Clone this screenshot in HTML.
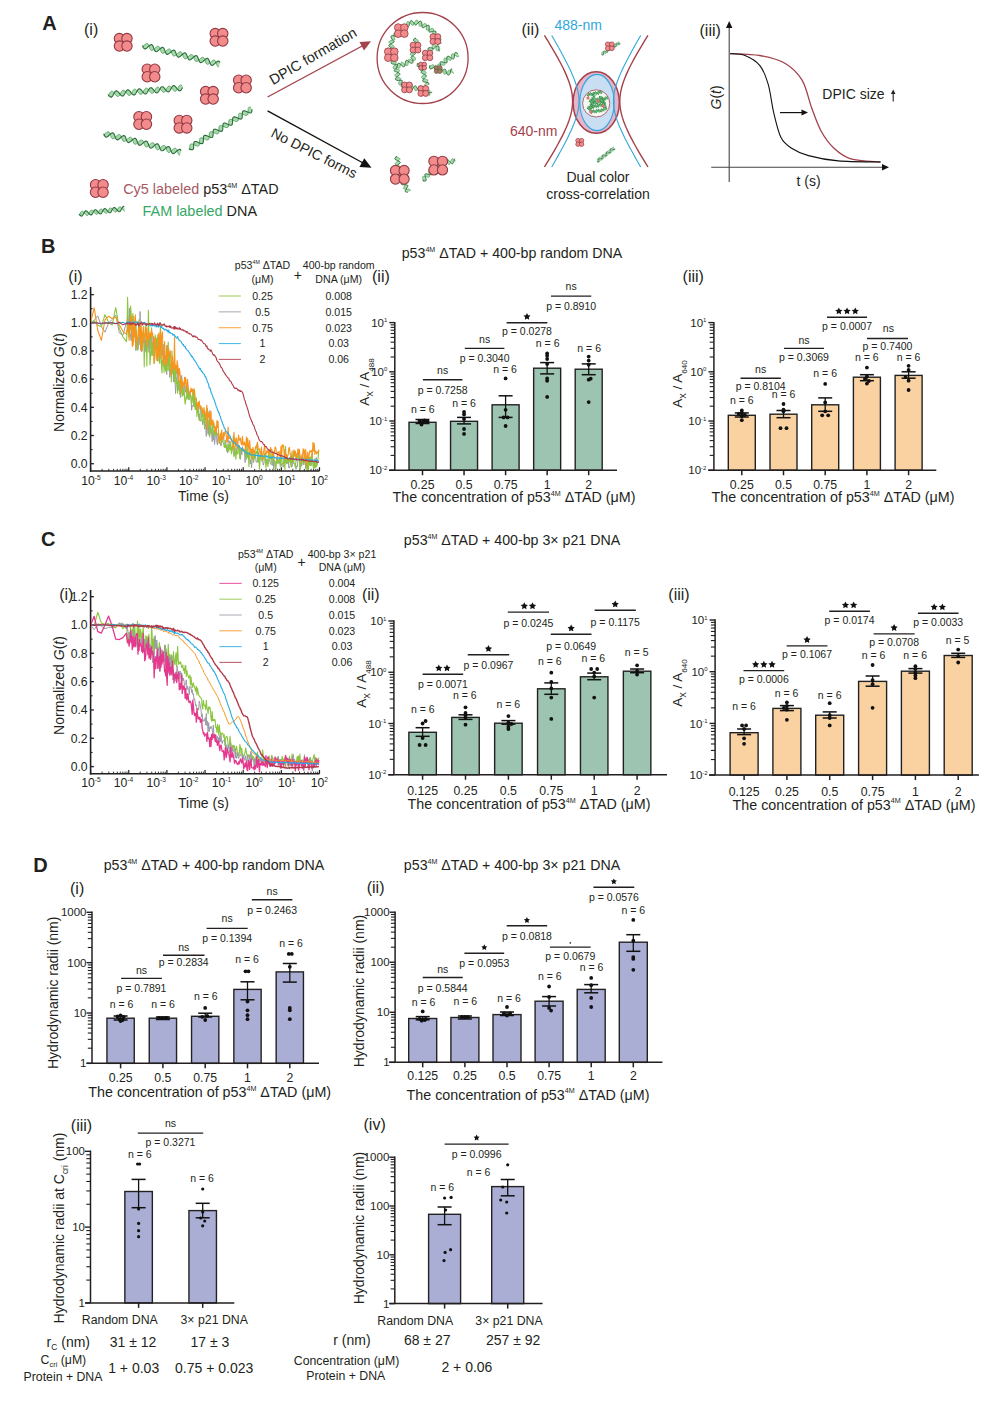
<!DOCTYPE html>
<html><head><meta charset="utf-8"><title>figure</title>
<style>
html,body{margin:0;padding:0;background:#fff;}
body{width:992px;height:1407px;overflow:hidden;}
svg{display:block;font-family:"Liberation Sans",sans-serif;}

</style></head><body>
<svg width="992" height="1407" viewBox="0 0 992 1407">
<defs>
<clipPath id="clipB1"><rect x="91" y="255" width="229" height="215"/></clipPath>
<clipPath id="clipC1"><rect x="91" y="560" width="229" height="213"/></clipPath>
</defs>
<rect width="992" height="1407" fill="#fff"/>
<g fill="#231f20">
<text x="42.3" y="30.2" font-size="20" font-weight="bold">A</text>
<text x="84" y="35" font-size="16">(i)</text>
<polygon points="142.6,45.4 143.02,46.62 143.48,47.69 144.01,48.47 144.63,48.88 145.35,48.89 146.17,48.51 147.06,47.82 147.99,46.96 148.93,46.06 149.84,45.29 150.69,44.77 151.45,44.61 152.11,44.86 152.68,45.5 153.16,46.46 153.6,47.64 154.01,48.87 154.45,50.02 154.95,50.93 155.53,51.51 156.21,51.68 156.99,51.45 157.85,50.88 158.77,50.07 159.71,49.17 160.64,48.32 161.52,47.69 162.32,47.37 163.02,47.45 163.63,47.93 164.14,48.78 164.59,49.88 165.01,51.11 165.44,52.32 165.91,53.34 166.45,54.06 167.09,54.4 167.83,54.34 168.66,53.89 169.56,53.17 170.5,52.29 171.43,51.4 172.34,50.66 173.17,50.2 173.92,50.11 174.56,50.43 175.11,51.14 175.58,52.15 176.01,53.35 176.43,54.58 176.87,55.7 177.38,56.55 177.98,57.06 178.68,57.16 179.47,56.86 180.35,56.24 181.28,55.4 182.22,54.5 183.14,53.68 184.01,53.09 184.79,52.85 185.47,53 186.06,53.55 186.56,54.45 187,55.59 187.42,56.82 187.85,58.01 188.33,58.99 188.89,59.64 189.55,59.91 190.3,59.77 191.15,59.27 192.06,58.51 193,57.61 193.94,56.74 194.83,56.04 195.65,55.65 196.37,55.63 197,56.02 197.53,56.79 197.99,57.84 198.42,59.06 198.84,60.28 199.29,61.36 199.82,62.16 200.43,62.6 201.15,62.62 201.96,62.26 202.85,61.59 203.78,60.73 204.72,59.83 205.64,59.04 206.49,58.51 207.26,58.33 207.92,58.56 208.49,59.18 208.98,60.13 209.41,61.3 209.83,62.54 210.27,63.69 210.76,64.62 211.34,65.21 212.01,65.4 212.79,65.2 213.64,64.64 214.56,63.84 215.5,62.94 216.44,62.09 217.32,61.44 218.12,61.1 218.83,61.16 219.44,61.62 219.95,62.45 218.83,67.04 218.14,66.91 217.55,66.38 217.04,65.5 216.6,64.37 216.18,63.13 215.75,61.94 215.27,60.95 214.72,60.28 214.07,59.99 213.31,60.11 212.47,60.59 211.57,61.34 210.63,62.24 209.69,63.11 208.79,63.82 207.97,64.24 207.24,64.27 206.61,63.9 206.07,63.15 205.61,62.11 205.18,60.9 204.76,59.67 204.31,58.58 203.79,57.76 203.18,57.31 202.47,57.26 201.66,57.61 200.78,58.26 199.85,59.12 198.9,60.02 197.99,60.81 197.13,61.36 196.36,61.56 195.69,61.36 195.11,60.76 194.62,59.82 194.19,58.66 193.77,57.42 193.33,56.26 192.84,55.32 192.27,54.7 191.6,54.49 190.83,54.68 189.98,55.22 189.06,56.01 188.12,56.91 187.19,57.77 186.3,58.43 185.5,58.78 184.78,58.75 184.17,58.3 183.65,57.49 183.19,56.41 182.77,55.19 182.35,53.97 181.88,52.92 181.35,52.16 180.72,51.78 179.99,51.81 179.17,52.22 178.28,52.92 177.34,53.79 176.4,54.69 175.49,55.45 174.65,55.94 173.9,56.07 173.24,55.79 172.68,55.12 172.21,54.14 171.77,52.95 171.36,51.71 170.91,50.58 170.41,49.69 169.82,49.15 169.14,49 168.35,49.26 167.48,49.86 166.56,50.68 165.62,51.58 164.69,52.41 163.82,53.03 163.03,53.32 162.33,53.21 161.73,52.69 161.23,51.83 160.78,50.71 160.36,49.47 159.93,48.28 159.46,47.27 158.91,46.58 158.26,46.27 157.52,46.37 156.68,46.83 155.78,47.58 154.84,48.47 153.9,49.35 153,50.07 152.17,50.5 151.44,50.56 150.8,50.21 150.26,49.48 149.79,48.44 149.36,47.24 148.95,46.01 148.49,44.91 147.98,44.07 147.37,43.6 146.67,43.53 145.87,43.86 144.99,44.5 144.06,45.35 143.11,46.25 142.19,47.06" fill="#a9d9aa" stroke="none"/>
<polyline points="142.19,47.06 143.11,46.25 144.06,45.35 144.99,44.5 145.87,43.86 146.67,43.53 147.37,43.6 147.98,44.07 148.49,44.91 148.95,46.01 149.36,47.24 149.79,48.44 150.26,49.48 150.8,50.21 151.44,50.56 152.17,50.5 153,50.07 153.9,49.35 154.84,48.47 155.78,47.58 156.68,46.83 157.52,46.37 158.26,46.27 158.91,46.58 159.46,47.27 159.93,48.28 160.36,49.47 160.78,50.71 161.23,51.83 161.73,52.69 162.33,53.21 163.03,53.32 163.82,53.03 164.69,52.41 165.62,51.58 166.56,50.68 167.48,49.86 168.35,49.26 169.14,49 169.82,49.15 170.41,49.69 170.91,50.58 171.36,51.71 171.77,52.95 172.21,54.14 172.68,55.12 173.24,55.79 173.9,56.07 174.65,55.94 175.49,55.45 176.4,54.69 177.34,53.79 178.28,52.92 179.17,52.22 179.99,51.81 180.72,51.78 181.35,52.16 181.88,52.92 182.35,53.97 182.77,55.19 183.19,56.41 183.65,57.49 184.17,58.3 184.78,58.75 185.5,58.78 186.3,58.43 187.19,57.77 188.12,56.91 189.06,56.01 189.98,55.22 190.83,54.68 191.6,54.49 192.27,54.7 192.84,55.32 193.33,56.26 193.77,57.42 194.19,58.66 194.62,59.82 195.11,60.76 195.69,61.36 196.36,61.56 197.13,61.36 197.99,60.81 198.9,60.02 199.85,59.12 200.78,58.26 201.66,57.61 202.47,57.26 203.18,57.31 203.79,57.76 204.31,58.58 204.76,59.67 205.18,60.9 205.61,62.11 206.07,63.15 206.61,63.9 207.24,64.27 207.97,64.24 208.79,63.82 209.69,63.11 210.63,62.24 211.57,61.34 212.47,60.59 213.31,60.11 214.07,59.99 214.72,60.28 215.27,60.95 215.75,61.94 216.18,63.13 216.6,64.37 217.04,65.5 217.55,66.38 218.14,66.91 218.83,67.04" fill="none" stroke="#5aa86c" stroke-width="0.99" stroke-linejoin="round"/>
<polyline points="142.6,45.4 143.02,46.62 143.48,47.69 144.01,48.47 144.63,48.88 145.35,48.89 146.17,48.51 147.06,47.82 147.99,46.96 148.93,46.06 149.84,45.29 150.69,44.77 151.45,44.61 152.11,44.86 152.68,45.5 153.16,46.46 153.6,47.64 154.01,48.87 154.45,50.02 154.95,50.93 155.53,51.51 156.21,51.68 156.99,51.45 157.85,50.88 158.77,50.07 159.71,49.17 160.64,48.32 161.52,47.69 162.32,47.37 163.02,47.45 163.63,47.93 164.14,48.78 164.59,49.88 165.01,51.11 165.44,52.32 165.91,53.34 166.45,54.06 167.09,54.4 167.83,54.34 168.66,53.89 169.56,53.17 170.5,52.29 171.43,51.4 172.34,50.66 173.17,50.2 173.92,50.11 174.56,50.43 175.11,51.14 175.58,52.15 176.01,53.35 176.43,54.58 176.87,55.7 177.38,56.55 177.98,57.06 178.68,57.16 179.47,56.86 180.35,56.24 181.28,55.4 182.22,54.5 183.14,53.68 184.01,53.09 184.79,52.85 185.47,53 186.06,53.55 186.56,54.45 187,55.59 187.42,56.82 187.85,58.01 188.33,58.99 188.89,59.64 189.55,59.91 190.3,59.77 191.15,59.27 192.06,58.51 193,57.61 193.94,56.74 194.83,56.04 195.65,55.65 196.37,55.63 197,56.02 197.53,56.79 197.99,57.84 198.42,59.06 198.84,60.28 199.29,61.36 199.82,62.16 200.43,62.6 201.15,62.62 201.96,62.26 202.85,61.59 203.78,60.73 204.72,59.83 205.64,59.04 206.49,58.51 207.26,58.33 207.92,58.56 208.49,59.18 208.98,60.13 209.41,61.3 209.83,62.54 210.27,63.69 210.76,64.62 211.34,65.21 212.01,65.4 212.79,65.2 213.64,64.64 214.56,63.84 215.5,62.94 216.44,62.09 217.32,61.44 218.12,61.1 218.83,61.16 219.44,61.62 219.95,62.45" fill="none" stroke="#2a6c3c" stroke-width="1.1" stroke-linejoin="round"/>
<polygon points="108,94.5 108.8,95.52 109.59,96.38 110.35,96.95 111.07,97.13 111.76,96.88 112.41,96.24 113.03,95.29 113.64,94.15 114.24,92.99 114.86,91.97 115.5,91.22 116.17,90.85 116.88,90.91 117.64,91.37 118.42,92.16 119.22,93.15 120.02,94.19 120.81,95.11 121.58,95.78 122.32,96.08 123.02,95.96 123.68,95.42 124.3,94.55 124.91,93.45 125.51,92.28 126.12,91.2 126.76,90.36 127.42,89.87 128.12,89.8 128.86,90.15 129.64,90.85 130.43,91.8 131.23,92.84 132.03,93.81 132.81,94.57 133.56,94.98 134.27,94.99 134.94,94.57 135.57,93.79 136.19,92.74 136.79,91.58 137.4,90.45 138.02,89.53 138.67,88.93 139.36,88.73 140.09,88.96 140.86,89.57 141.65,90.46 142.45,91.49 143.25,92.5 144.04,93.33 144.79,93.86 145.51,93.99 146.2,93.69 146.84,93.01 147.46,92.03 148.06,90.88 148.67,89.73 149.29,88.73 149.93,88.02 150.61,87.7 151.33,87.8 152.08,88.31 152.87,89.13 153.67,90.13 154.47,91.17 155.26,92.07 156.03,92.7 156.76,92.95 157.45,92.78 158.11,92.2 158.73,91.29 159.34,90.18 159.94,89.01 160.55,87.95 161.19,87.15 161.86,86.71 162.56,86.69 163.31,87.08 164.08,87.81 164.88,88.78 165.69,89.82 166.48,90.78 167.26,91.5 168,91.87 168.7,91.83 169.37,91.37 170,90.54 170.61,89.48 171.22,88.31 171.82,87.2 172.45,86.3 173.11,85.75 173.8,85.6 174.54,85.88 175.31,86.52 176.1,87.43 176.9,88.47 177.7,89.47 178.48,90.27 179.24,90.76 179.95,90.84 180.63,90.5 181.27,89.77 181.89,88.76 182.49,87.61 182.35,86.08 181.58,85.36 180.84,85 180.13,85.05 179.47,85.52 178.83,86.35 178.22,87.42 177.62,88.59 177.01,89.7 176.38,90.58 175.73,91.13 175.03,91.27 174.3,90.99 173.53,90.34 172.74,89.42 171.93,88.38 171.13,87.39 170.35,86.59 169.6,86.11 168.88,86.04 168.21,86.39 167.56,87.12 166.95,88.13 166.35,89.29 165.74,90.43 165.12,91.4 164.47,92.06 163.79,92.32 163.06,92.16 162.3,91.61 161.52,90.76 160.72,89.74 159.91,88.71 159.13,87.84 158.36,87.26 157.64,87.06 156.95,87.29 156.3,87.91 155.68,88.86 155.07,89.99 154.47,91.15 153.85,92.18 153.21,92.95 152.54,93.33 151.83,93.3 151.08,92.85 150.3,92.08 149.5,91.09 148.7,90.05 147.9,89.12 147.13,88.44 146.4,88.12 145.7,88.22 145.03,88.74 144.4,89.6 143.8,90.69 143.19,91.86 142.58,92.95 141.95,93.8 141.29,94.31 140.59,94.4 139.85,94.07 139.08,93.38 138.29,92.44 137.48,91.4 136.68,90.42 135.9,89.65 135.16,89.22 134.45,89.19 133.77,89.59 133.13,90.36 132.52,91.4 131.92,92.56 131.31,93.69 130.69,94.63 130.04,95.24 129.35,95.46 128.62,95.25 127.86,94.66 127.07,93.78 126.27,92.75 125.46,91.74 124.68,90.89 123.92,90.35 123.2,90.2 122.52,90.48 121.87,91.14 121.25,92.12 120.64,93.26 120.04,94.42 119.42,95.43 118.78,96.15 118.1,96.49 117.39,96.4 116.63,95.91 115.85,95.11 115.05,94.11 114.25,93.07 113.46,92.16 112.69,91.52 111.96,91.25 111.26,91.4 110.6,91.96 109.98,92.85 109.37,93.96 108.77,95.13 108.15,96.2" fill="#a9d9aa" stroke="none"/>
<polyline points="108.15,96.2 108.77,95.13 109.37,93.96 109.98,92.85 110.6,91.96 111.26,91.4 111.96,91.25 112.69,91.52 113.46,92.16 114.25,93.07 115.05,94.11 115.85,95.11 116.63,95.91 117.39,96.4 118.1,96.49 118.78,96.15 119.42,95.43 120.04,94.42 120.64,93.26 121.25,92.12 121.87,91.14 122.52,90.48 123.2,90.2 123.92,90.35 124.68,90.89 125.46,91.74 126.27,92.75 127.07,93.78 127.86,94.66 128.62,95.25 129.35,95.46 130.04,95.24 130.69,94.63 131.31,93.69 131.92,92.56 132.52,91.4 133.13,90.36 133.77,89.59 134.45,89.19 135.16,89.22 135.9,89.65 136.68,90.42 137.48,91.4 138.29,92.44 139.08,93.38 139.85,94.07 140.59,94.4 141.29,94.31 141.95,93.8 142.58,92.95 143.19,91.86 143.8,90.69 144.4,89.6 145.03,88.74 145.7,88.22 146.4,88.12 147.13,88.44 147.9,89.12 148.7,90.05 149.5,91.09 150.3,92.08 151.08,92.85 151.83,93.3 152.54,93.33 153.21,92.95 153.85,92.18 154.47,91.15 155.07,89.99 155.68,88.86 156.3,87.91 156.95,87.29 157.64,87.06 158.36,87.26 159.13,87.84 159.91,88.71 160.72,89.74 161.52,90.76 162.3,91.61 163.06,92.16 163.79,92.32 164.47,92.06 165.12,91.4 165.74,90.43 166.35,89.29 166.95,88.13 167.56,87.12 168.21,86.39 168.88,86.04 169.6,86.11 170.35,86.59 171.13,87.39 171.93,88.38 172.74,89.42 173.53,90.34 174.3,90.99 175.03,91.27 175.73,91.13 176.38,90.58 177.01,89.7 177.62,88.59 178.22,87.42 178.83,86.35 179.47,85.52 180.13,85.05 180.84,85 181.58,85.36 182.35,86.08" fill="none" stroke="#5aa86c" stroke-width="0.99" stroke-linejoin="round"/>
<polyline points="108,94.5 108.8,95.52 109.59,96.38 110.35,96.95 111.07,97.13 111.76,96.88 112.41,96.24 113.03,95.29 113.64,94.15 114.24,92.99 114.86,91.97 115.5,91.22 116.17,90.85 116.88,90.91 117.64,91.37 118.42,92.16 119.22,93.15 120.02,94.19 120.81,95.11 121.58,95.78 122.32,96.08 123.02,95.96 123.68,95.42 124.3,94.55 124.91,93.45 125.51,92.28 126.12,91.2 126.76,90.36 127.42,89.87 128.12,89.8 128.86,90.15 129.64,90.85 130.43,91.8 131.23,92.84 132.03,93.81 132.81,94.57 133.56,94.98 134.27,94.99 134.94,94.57 135.57,93.79 136.19,92.74 136.79,91.58 137.4,90.45 138.02,89.53 138.67,88.93 139.36,88.73 140.09,88.96 140.86,89.57 141.65,90.46 142.45,91.49 143.25,92.5 144.04,93.33 144.79,93.86 145.51,93.99 146.2,93.69 146.84,93.01 147.46,92.03 148.06,90.88 148.67,89.73 149.29,88.73 149.93,88.02 150.61,87.7 151.33,87.8 152.08,88.31 152.87,89.13 153.67,90.13 154.47,91.17 155.26,92.07 156.03,92.7 156.76,92.95 157.45,92.78 158.11,92.2 158.73,91.29 159.34,90.18 159.94,89.01 160.55,87.95 161.19,87.15 161.86,86.71 162.56,86.69 163.31,87.08 164.08,87.81 164.88,88.78 165.69,89.82 166.48,90.78 167.26,91.5 168,91.87 168.7,91.83 169.37,91.37 170,90.54 170.61,89.48 171.22,88.31 171.82,87.2 172.45,86.3 173.11,85.75 173.8,85.6 174.54,85.88 175.31,86.52 176.1,87.43 176.9,88.47 177.7,89.47 178.48,90.27 179.24,90.76 179.95,90.84 180.63,90.5 181.27,89.77 181.89,88.76 182.49,87.61" fill="none" stroke="#2a6c3c" stroke-width="1.1" stroke-linejoin="round"/>
<polygon points="103.8,133.6 104.22,134.82 104.68,135.89 105.21,136.67 105.83,137.08 106.55,137.09 107.37,136.71 108.26,136.02 109.19,135.16 110.13,134.26 111.04,133.49 111.89,132.97 112.65,132.81 113.31,133.06 113.88,133.7 114.36,134.66 114.8,135.84 115.21,137.07 115.65,138.22 116.15,139.13 116.73,139.71 117.41,139.88 118.19,139.65 119.05,139.08 119.97,138.27 120.91,137.37 121.84,136.52 122.72,135.89 123.52,135.57 124.22,135.65 124.83,136.13 125.34,136.98 125.79,138.08 126.21,139.31 126.64,140.52 127.11,141.54 127.65,142.26 128.29,142.6 129.03,142.54 129.86,142.09 130.76,141.37 131.7,140.49 132.63,139.6 133.54,138.86 134.37,138.4 135.12,138.31 135.76,138.63 136.31,139.34 136.78,140.35 137.21,141.55 137.63,142.78 138.07,143.9 138.58,144.75 139.18,145.26 139.88,145.36 140.67,145.06 141.55,144.44 142.48,143.6 143.42,142.7 144.34,141.88 145.21,141.29 145.99,141.05 146.67,141.2 147.26,141.75 147.76,142.65 148.2,143.79 148.62,145.02 149.05,146.21 149.53,147.19 150.09,147.84 150.75,148.11 151.5,147.97 152.35,147.47 153.26,146.71 154.2,145.81 155.14,144.94 156.03,144.24 156.85,143.85 157.57,143.83 158.2,144.22 158.73,144.99 159.19,146.04 159.62,147.26 160.04,148.48 160.49,149.56 161.02,150.36 161.63,150.8 162.35,150.82 163.16,150.46 164.05,149.79 164.98,148.93 165.92,148.03 166.84,147.24 167.69,146.71 168.46,146.53 169.12,146.76 169.69,147.38 170.18,148.33 170.61,149.5 171.03,150.74 171.47,151.89 171.96,152.82 172.54,153.41 173.21,153.6 173.99,153.4 174.84,152.84 175.76,152.04 176.7,151.14 177.64,150.29 178.52,149.64 179.32,149.3 180.03,149.36 180.64,149.82 181.15,150.65 180.03,155.24 179.34,155.11 178.75,154.58 178.24,153.7 177.8,152.57 177.38,151.33 176.95,150.14 176.47,149.15 175.92,148.48 175.27,148.19 174.51,148.31 173.67,148.79 172.77,149.54 171.83,150.44 170.89,151.31 169.99,152.02 169.17,152.44 168.44,152.47 167.81,152.1 167.27,151.35 166.81,150.31 166.38,149.1 165.96,147.87 165.51,146.78 164.99,145.96 164.38,145.51 163.67,145.46 162.86,145.81 161.98,146.46 161.05,147.32 160.1,148.22 159.19,149.01 158.33,149.56 157.56,149.76 156.89,149.56 156.31,148.96 155.82,148.02 155.39,146.86 154.97,145.62 154.53,144.46 154.04,143.52 153.47,142.9 152.8,142.69 152.03,142.88 151.18,143.42 150.26,144.21 149.32,145.11 148.39,145.97 147.5,146.63 146.7,146.98 145.98,146.95 145.37,146.5 144.85,145.69 144.39,144.61 143.97,143.39 143.55,142.17 143.08,141.12 142.55,140.36 141.92,139.98 141.19,140.01 140.37,140.42 139.48,141.12 138.54,141.99 137.6,142.89 136.69,143.65 135.85,144.14 135.1,144.27 134.44,143.99 133.88,143.32 133.41,142.34 132.97,141.15 132.56,139.91 132.11,138.78 131.61,137.89 131.02,137.35 130.34,137.2 129.55,137.46 128.68,138.06 127.76,138.88 126.82,139.78 125.89,140.61 125.02,141.23 124.23,141.52 123.53,141.41 122.93,140.89 122.43,140.03 121.98,138.91 121.56,137.67 121.13,136.48 120.66,135.47 120.11,134.78 119.46,134.47 118.72,134.57 117.88,135.03 116.98,135.78 116.04,136.67 115.1,137.55 114.2,138.27 113.37,138.7 112.64,138.76 112,138.41 111.46,137.68 110.99,136.64 110.56,135.44 110.15,134.21 109.69,133.11 109.18,132.27 108.57,131.8 107.87,131.73 107.07,132.06 106.19,132.7 105.26,133.55 104.31,134.45 103.39,135.26" fill="#a9d9aa" stroke="none"/>
<polyline points="103.39,135.26 104.31,134.45 105.26,133.55 106.19,132.7 107.07,132.06 107.87,131.73 108.57,131.8 109.18,132.27 109.69,133.11 110.15,134.21 110.56,135.44 110.99,136.64 111.46,137.68 112,138.41 112.64,138.76 113.37,138.7 114.2,138.27 115.1,137.55 116.04,136.67 116.98,135.78 117.88,135.03 118.72,134.57 119.46,134.47 120.11,134.78 120.66,135.47 121.13,136.48 121.56,137.67 121.98,138.91 122.43,140.03 122.93,140.89 123.53,141.41 124.23,141.52 125.02,141.23 125.89,140.61 126.82,139.78 127.76,138.88 128.68,138.06 129.55,137.46 130.34,137.2 131.02,137.35 131.61,137.89 132.11,138.78 132.56,139.91 132.97,141.15 133.41,142.34 133.88,143.32 134.44,143.99 135.1,144.27 135.85,144.14 136.69,143.65 137.6,142.89 138.54,141.99 139.48,141.12 140.37,140.42 141.19,140.01 141.92,139.98 142.55,140.36 143.08,141.12 143.55,142.17 143.97,143.39 144.39,144.61 144.85,145.69 145.37,146.5 145.98,146.95 146.7,146.98 147.5,146.63 148.39,145.97 149.32,145.11 150.26,144.21 151.18,143.42 152.03,142.88 152.8,142.69 153.47,142.9 154.04,143.52 154.53,144.46 154.97,145.62 155.39,146.86 155.82,148.02 156.31,148.96 156.89,149.56 157.56,149.76 158.33,149.56 159.19,149.01 160.1,148.22 161.05,147.32 161.98,146.46 162.86,145.81 163.67,145.46 164.38,145.51 164.99,145.96 165.51,146.78 165.96,147.87 166.38,149.1 166.81,150.31 167.27,151.35 167.81,152.1 168.44,152.47 169.17,152.44 169.99,152.02 170.89,151.31 171.83,150.44 172.77,149.54 173.67,148.79 174.51,148.31 175.27,148.19 175.92,148.48 176.47,149.15 176.95,150.14 177.38,151.33 177.8,152.57 178.24,153.7 178.75,154.58 179.34,155.11 180.03,155.24" fill="none" stroke="#5aa86c" stroke-width="0.99" stroke-linejoin="round"/>
<polyline points="103.8,133.6 104.22,134.82 104.68,135.89 105.21,136.67 105.83,137.08 106.55,137.09 107.37,136.71 108.26,136.02 109.19,135.16 110.13,134.26 111.04,133.49 111.89,132.97 112.65,132.81 113.31,133.06 113.88,133.7 114.36,134.66 114.8,135.84 115.21,137.07 115.65,138.22 116.15,139.13 116.73,139.71 117.41,139.88 118.19,139.65 119.05,139.08 119.97,138.27 120.91,137.37 121.84,136.52 122.72,135.89 123.52,135.57 124.22,135.65 124.83,136.13 125.34,136.98 125.79,138.08 126.21,139.31 126.64,140.52 127.11,141.54 127.65,142.26 128.29,142.6 129.03,142.54 129.86,142.09 130.76,141.37 131.7,140.49 132.63,139.6 133.54,138.86 134.37,138.4 135.12,138.31 135.76,138.63 136.31,139.34 136.78,140.35 137.21,141.55 137.63,142.78 138.07,143.9 138.58,144.75 139.18,145.26 139.88,145.36 140.67,145.06 141.55,144.44 142.48,143.6 143.42,142.7 144.34,141.88 145.21,141.29 145.99,141.05 146.67,141.2 147.26,141.75 147.76,142.65 148.2,143.79 148.62,145.02 149.05,146.21 149.53,147.19 150.09,147.84 150.75,148.11 151.5,147.97 152.35,147.47 153.26,146.71 154.2,145.81 155.14,144.94 156.03,144.24 156.85,143.85 157.57,143.83 158.2,144.22 158.73,144.99 159.19,146.04 159.62,147.26 160.04,148.48 160.49,149.56 161.02,150.36 161.63,150.8 162.35,150.82 163.16,150.46 164.05,149.79 164.98,148.93 165.92,148.03 166.84,147.24 167.69,146.71 168.46,146.53 169.12,146.76 169.69,147.38 170.18,148.33 170.61,149.5 171.03,150.74 171.47,151.89 171.96,152.82 172.54,153.41 173.21,153.6 173.99,153.4 174.84,152.84 175.76,152.04 176.7,151.14 177.64,150.29 178.52,149.64 179.32,149.3 180.03,149.36 180.64,149.82 181.15,150.65" fill="none" stroke="#2a6c3c" stroke-width="1.1" stroke-linejoin="round"/>
<polygon points="188.8,148.7 189.97,149.24 191.06,149.65 192,149.81 192.73,149.65 193.23,149.13 193.52,148.27 193.64,147.14 193.66,145.86 193.67,144.56 193.75,143.37 193.97,142.4 194.39,141.76 195.04,141.46 195.9,141.51 196.94,141.85 198.1,142.36 199.28,142.92 200.41,143.39 201.41,143.65 202.21,143.61 202.8,143.21 203.16,142.47 203.33,141.43 203.38,140.19 203.38,138.88 203.43,137.63 203.59,136.57 203.94,135.81 204.5,135.38 205.29,135.32 206.28,135.56 207.4,136.02 208.58,136.58 209.74,137.09 210.79,137.44 211.67,137.52 212.34,137.25 212.77,136.63 213.01,135.69 213.1,134.51 213.11,133.21 213.12,131.92 213.24,130.78 213.51,129.9 214,129.35 214.71,129.16 215.63,129.3 216.71,129.69 217.88,130.23 219.06,130.78 220.16,131.2 221.1,131.39 221.85,131.25 222.36,130.75 222.67,129.92 222.8,128.81 222.83,127.54 222.83,126.23 222.9,125.02 223.11,124.04 223.52,123.37 224.15,123.05 225,123.07 226.03,123.39 227.18,123.89 228.36,124.45 229.5,124.93 230.51,125.21 231.33,125.19 231.93,124.83 232.3,124.11 232.49,123.09 232.55,121.86 232.55,120.55 232.59,119.29 232.74,118.22 233.07,117.43 233.62,116.98 234.39,116.88 235.36,117.11 236.48,117.55 237.66,118.11 238.82,118.63 239.89,119 240.78,119.1 241.46,118.86 241.92,118.26 242.17,117.34 242.26,116.18 242.27,114.88 242.29,113.59 242.39,112.43 242.65,111.53 243.12,110.95 243.81,110.74 244.72,110.85 245.79,111.23 246.96,111.76 248.14,112.31 249.24,112.75 250.2,112.96 250.96,112.84 251.5,112.37 251.82,111.56 251.96,110.47 252,109.21 250.74,107.22 249.8,107.05 249.06,107.2 248.55,107.71 248.26,108.56 248.13,109.67 248.11,110.95 248.1,112.26 248.03,113.46 247.81,114.43 247.39,115.09 246.76,115.39 245.9,115.36 244.86,115.03 243.71,114.53 242.53,113.97 241.39,113.49 240.39,113.22 239.58,113.25 238.99,113.63 238.62,114.36 238.44,115.39 238.39,116.63 238.38,117.94 238.34,119.19 238.19,120.26 237.85,121.04 237.29,121.47 236.51,121.55 235.53,121.32 234.41,120.86 233.23,120.31 232.07,119.78 231.01,119.43 230.12,119.34 229.45,119.59 229.01,120.2 228.76,121.14 228.67,122.31 228.66,123.61 228.64,124.9 228.54,126.04 228.27,126.94 227.79,127.5 227.09,127.7 226.18,127.57 225.1,127.19 223.93,126.65 222.75,126.1 221.65,125.67 220.7,125.48 219.94,125.6 219.42,126.09 219.11,126.91 218.97,128.01 218.94,129.28 218.93,130.59 218.87,131.8 218.66,132.79 218.27,133.48 217.64,133.81 216.8,133.8 215.78,133.49 214.63,132.99 213.45,132.43 212.31,131.95 211.29,131.66 210.47,131.66 209.86,132.02 209.47,132.72 209.28,133.73 209.22,134.95 209.22,136.26 209.18,137.53 209.04,138.61 208.71,139.41 208.17,139.88 207.41,139.98 206.44,139.77 205.33,139.33 204.15,138.77 202.98,138.25 201.92,137.87 201.02,137.76 200.33,137.99 199.86,138.57 199.61,139.48 199.51,140.64 199.49,141.94 199.48,143.23 199.38,144.39 199.13,145.31 198.67,145.89 197.98,146.12 197.08,146.02 196.02,145.65 194.85,145.12 193.67,144.57 192.56,144.12 191.59,143.91 190.83,144.01 190.28,144.47 189.96,145.27 189.81,146.35 189.77,147.61 189.77,148.92 189.71,150.14" fill="#a9d9aa" stroke="none"/>
<polyline points="189.71,150.14 189.77,148.92 189.77,147.61 189.81,146.35 189.96,145.27 190.28,144.47 190.83,144.01 191.59,143.91 192.56,144.12 193.67,144.57 194.85,145.12 196.02,145.65 197.08,146.02 197.98,146.12 198.67,145.89 199.13,145.31 199.38,144.39 199.48,143.23 199.49,141.94 199.51,140.64 199.61,139.48 199.86,138.57 200.33,137.99 201.02,137.76 201.92,137.87 202.98,138.25 204.15,138.77 205.33,139.33 206.44,139.77 207.41,139.98 208.17,139.88 208.71,139.41 209.04,138.61 209.18,137.53 209.22,136.26 209.22,134.95 209.28,133.73 209.47,132.72 209.86,132.02 210.47,131.66 211.29,131.66 212.31,131.95 213.45,132.43 214.63,132.99 215.78,133.49 216.8,133.8 217.64,133.81 218.27,133.48 218.66,132.79 218.87,131.8 218.93,130.59 218.94,129.28 218.97,128.01 219.11,126.91 219.42,126.09 219.94,125.6 220.7,125.48 221.65,125.67 222.75,126.1 223.93,126.65 225.1,127.19 226.18,127.57 227.09,127.7 227.79,127.5 228.27,126.94 228.54,126.04 228.64,124.9 228.66,123.61 228.67,122.31 228.76,121.14 229.01,120.2 229.45,119.59 230.12,119.34 231.01,119.43 232.07,119.78 233.23,120.31 234.41,120.86 235.53,121.32 236.51,121.55 237.29,121.47 237.85,121.04 238.19,120.26 238.34,119.19 238.38,117.94 238.39,116.63 238.44,115.39 238.62,114.36 238.99,113.63 239.58,113.25 240.39,113.22 241.39,113.49 242.53,113.97 243.71,114.53 244.86,115.03 245.9,115.36 246.76,115.39 247.39,115.09 247.81,114.43 248.03,113.46 248.1,112.26 248.11,110.95 248.13,109.67 248.26,108.56 248.55,107.71 249.06,107.2 249.8,107.05 250.74,107.22" fill="none" stroke="#5aa86c" stroke-width="0.99" stroke-linejoin="round"/>
<polyline points="188.8,148.7 189.97,149.24 191.06,149.65 192,149.81 192.73,149.65 193.23,149.13 193.52,148.27 193.64,147.14 193.66,145.86 193.67,144.56 193.75,143.37 193.97,142.4 194.39,141.76 195.04,141.46 195.9,141.51 196.94,141.85 198.1,142.36 199.28,142.92 200.41,143.39 201.41,143.65 202.21,143.61 202.8,143.21 203.16,142.47 203.33,141.43 203.38,140.19 203.38,138.88 203.43,137.63 203.59,136.57 203.94,135.81 204.5,135.38 205.29,135.32 206.28,135.56 207.4,136.02 208.58,136.58 209.74,137.09 210.79,137.44 211.67,137.52 212.34,137.25 212.77,136.63 213.01,135.69 213.1,134.51 213.11,133.21 213.12,131.92 213.24,130.78 213.51,129.9 214,129.35 214.71,129.16 215.63,129.3 216.71,129.69 217.88,130.23 219.06,130.78 220.16,131.2 221.1,131.39 221.85,131.25 222.36,130.75 222.67,129.92 222.8,128.81 222.83,127.54 222.83,126.23 222.9,125.02 223.11,124.04 223.52,123.37 224.15,123.05 225,123.07 226.03,123.39 227.18,123.89 228.36,124.45 229.5,124.93 230.51,125.21 231.33,125.19 231.93,124.83 232.3,124.11 232.49,123.09 232.55,121.86 232.55,120.55 232.59,119.29 232.74,118.22 233.07,117.43 233.62,116.98 234.39,116.88 235.36,117.11 236.48,117.55 237.66,118.11 238.82,118.63 239.89,119 240.78,119.1 241.46,118.86 241.92,118.26 242.17,117.34 242.26,116.18 242.27,114.88 242.29,113.59 242.39,112.43 242.65,111.53 243.12,110.95 243.81,110.74 244.72,110.85 245.79,111.23 246.96,111.76 248.14,112.31 249.24,112.75 250.2,112.96 250.96,112.84 251.5,112.37 251.82,111.56 251.96,110.47 252,109.21" fill="none" stroke="#2a6c3c" stroke-width="1.1" stroke-linejoin="round"/>
<polygon points="79,214 79.82,214.99 80.62,215.75 81.37,216.1 82.07,215.96 82.7,215.32 83.29,214.32 83.87,213.14 84.45,212.03 85.06,211.19 85.72,210.8 86.45,210.92 87.22,211.5 88.04,212.41 88.87,213.43 89.68,214.33 90.46,214.89 91.18,214.99 91.84,214.58 92.45,213.73 93.03,212.61 93.6,211.44 94.2,210.45 94.83,209.83 95.53,209.7 96.28,210.07 97.08,210.85 97.91,211.84 98.73,212.83 99.53,213.58 100.27,213.91 100.96,213.74 101.6,213.09 102.19,212.07 102.76,210.9 103.34,209.79 103.96,208.97 104.62,208.6 105.35,208.74 106.13,209.34 106.94,210.25 107.77,211.27 108.58,212.16 109.36,212.71 110.08,212.79 110.74,212.36 111.35,211.5 111.92,210.37 112.5,209.2 113.09,208.22 113.73,207.62 114.43,207.51 115.18,207.9 115.98,208.69 116.81,209.68 117.63,210.66 118.43,211.4 119.18,211.71 119.86,211.53 120.49,210.86 121.08,209.83 121.66,208.65 122.24,207.55 122.85,206.75 123.52,206.4 124.25,206.55 124.77,211.05 124.02,210.69 123.22,209.93 122.4,208.93 121.57,207.95 120.78,207.19 120.03,206.84 119.33,206.99 118.7,207.63 118.11,208.64 117.53,209.81 116.95,210.93 116.34,211.76 115.68,212.14 114.95,212.02 114.18,211.43 113.36,210.52 112.53,209.5 111.72,208.61 110.94,208.05 110.22,207.95 109.56,208.37 108.95,209.22 108.37,210.34 107.8,211.51 107.21,212.5 106.57,213.12 105.87,213.24 105.12,212.86 104.32,212.09 103.49,211.09 102.67,210.11 101.87,209.36 101.13,209.03 100.44,209.21 99.8,209.86 99.21,210.88 98.64,212.06 98.06,213.16 97.44,213.98 96.78,214.34 96.05,214.2 95.27,213.6 94.46,212.68 93.63,211.66 92.81,210.78 92.04,210.23 91.32,210.16 90.66,210.59 90.06,211.46 89.48,212.59 88.9,213.76 88.31,214.73 87.67,215.33 86.97,215.43 86.22,215.04 85.41,214.25 84.59,213.25 83.77,212.27 82.97,211.54 82.22,211.23 81.54,211.42 80.91,212.1 80.32,213.12 79.74,214.3 79.16,215.4" fill="#a9d9aa" stroke="none"/>
<polyline points="79.16,215.4 79.74,214.3 80.32,213.12 80.91,212.1 81.54,211.42 82.22,211.23 82.97,211.54 83.77,212.27 84.59,213.25 85.41,214.25 86.22,215.04 86.97,215.43 87.67,215.33 88.31,214.73 88.9,213.76 89.48,212.59 90.06,211.46 90.66,210.59 91.32,210.16 92.04,210.23 92.81,210.78 93.63,211.66 94.46,212.68 95.27,213.6 96.05,214.2 96.78,214.34 97.44,213.98 98.06,213.16 98.64,212.06 99.21,210.88 99.8,209.86 100.44,209.21 101.13,209.03 101.87,209.36 102.67,210.11 103.49,211.09 104.32,212.09 105.12,212.86 105.87,213.24 106.57,213.12 107.21,212.5 107.8,211.51 108.37,210.34 108.95,209.22 109.56,208.37 110.22,207.95 110.94,208.05 111.72,208.61 112.53,209.5 113.36,210.52 114.18,211.43 114.95,212.02 115.68,212.14 116.34,211.76 116.95,210.93 117.53,209.81 118.11,208.64 118.7,207.63 119.33,206.99 120.03,206.84 120.78,207.19 121.57,207.95 122.4,208.93 123.22,209.93 124.02,210.69 124.77,211.05" fill="none" stroke="#5aa86c" stroke-width="0.99" stroke-linejoin="round"/>
<polyline points="79,214 79.82,214.99 80.62,215.75 81.37,216.1 82.07,215.96 82.7,215.32 83.29,214.32 83.87,213.14 84.45,212.03 85.06,211.19 85.72,210.8 86.45,210.92 87.22,211.5 88.04,212.41 88.87,213.43 89.68,214.33 90.46,214.89 91.18,214.99 91.84,214.58 92.45,213.73 93.03,212.61 93.6,211.44 94.2,210.45 94.83,209.83 95.53,209.7 96.28,210.07 97.08,210.85 97.91,211.84 98.73,212.83 99.53,213.58 100.27,213.91 100.96,213.74 101.6,213.09 102.19,212.07 102.76,210.9 103.34,209.79 103.96,208.97 104.62,208.6 105.35,208.74 106.13,209.34 106.94,210.25 107.77,211.27 108.58,212.16 109.36,212.71 110.08,212.79 110.74,212.36 111.35,211.5 111.92,210.37 112.5,209.2 113.09,208.22 113.73,207.62 114.43,207.51 115.18,207.9 115.98,208.69 116.81,209.68 117.63,210.66 118.43,211.4 119.18,211.71 119.86,211.53 120.49,210.86 121.08,209.83 121.66,208.65 122.24,207.55 122.85,206.75 123.52,206.4 124.25,206.55" fill="none" stroke="#2a6c3c" stroke-width="1.1" stroke-linejoin="round"/>
<circle cx="119.45" cy="38.55" r="5.2" fill="#f28b8b" stroke="#913a44" stroke-width="1.1"/>
<circle cx="126.95" cy="38.55" r="5.2" fill="#f28b8b" stroke="#913a44" stroke-width="1.1"/>
<circle cx="119.45" cy="46.05" r="5.2" fill="#f28b8b" stroke="#913a44" stroke-width="1.1"/>
<circle cx="126.95" cy="46.05" r="5.2" fill="#f28b8b" stroke="#913a44" stroke-width="1.1"/>
<circle cx="215.25" cy="33.55" r="5.2" fill="#f28b8b" stroke="#913a44" stroke-width="1.1"/>
<circle cx="222.75" cy="33.55" r="5.2" fill="#f28b8b" stroke="#913a44" stroke-width="1.1"/>
<circle cx="215.25" cy="41.05" r="5.2" fill="#f28b8b" stroke="#913a44" stroke-width="1.1"/>
<circle cx="222.75" cy="41.05" r="5.2" fill="#f28b8b" stroke="#913a44" stroke-width="1.1"/>
<circle cx="147.25" cy="69.25" r="5.2" fill="#f28b8b" stroke="#913a44" stroke-width="1.1"/>
<circle cx="154.75" cy="69.25" r="5.2" fill="#f28b8b" stroke="#913a44" stroke-width="1.1"/>
<circle cx="147.25" cy="76.75" r="5.2" fill="#f28b8b" stroke="#913a44" stroke-width="1.1"/>
<circle cx="154.75" cy="76.75" r="5.2" fill="#f28b8b" stroke="#913a44" stroke-width="1.1"/>
<circle cx="238.65" cy="80.25" r="5.2" fill="#f28b8b" stroke="#913a44" stroke-width="1.1"/>
<circle cx="246.15" cy="80.25" r="5.2" fill="#f28b8b" stroke="#913a44" stroke-width="1.1"/>
<circle cx="238.65" cy="87.75" r="5.2" fill="#f28b8b" stroke="#913a44" stroke-width="1.1"/>
<circle cx="246.15" cy="87.75" r="5.2" fill="#f28b8b" stroke="#913a44" stroke-width="1.1"/>
<circle cx="205.65" cy="91.55" r="5.2" fill="#f28b8b" stroke="#913a44" stroke-width="1.1"/>
<circle cx="213.15" cy="91.55" r="5.2" fill="#f28b8b" stroke="#913a44" stroke-width="1.1"/>
<circle cx="205.65" cy="99.05" r="5.2" fill="#f28b8b" stroke="#913a44" stroke-width="1.1"/>
<circle cx="213.15" cy="99.05" r="5.2" fill="#f28b8b" stroke="#913a44" stroke-width="1.1"/>
<circle cx="138.95" cy="116.75" r="5.2" fill="#f28b8b" stroke="#913a44" stroke-width="1.1"/>
<circle cx="146.45" cy="116.75" r="5.2" fill="#f28b8b" stroke="#913a44" stroke-width="1.1"/>
<circle cx="138.95" cy="124.25" r="5.2" fill="#f28b8b" stroke="#913a44" stroke-width="1.1"/>
<circle cx="146.45" cy="124.25" r="5.2" fill="#f28b8b" stroke="#913a44" stroke-width="1.1"/>
<circle cx="179.25" cy="120.45" r="5.2" fill="#f28b8b" stroke="#913a44" stroke-width="1.1"/>
<circle cx="186.75" cy="120.45" r="5.2" fill="#f28b8b" stroke="#913a44" stroke-width="1.1"/>
<circle cx="179.25" cy="127.95" r="5.2" fill="#f28b8b" stroke="#913a44" stroke-width="1.1"/>
<circle cx="186.75" cy="127.95" r="5.2" fill="#f28b8b" stroke="#913a44" stroke-width="1.1"/>
<circle cx="95.55" cy="184.75" r="5.2" fill="#f28b8b" stroke="#913a44" stroke-width="1.1"/>
<circle cx="103.05" cy="184.75" r="5.2" fill="#f28b8b" stroke="#913a44" stroke-width="1.1"/>
<circle cx="95.55" cy="192.25" r="5.2" fill="#f28b8b" stroke="#913a44" stroke-width="1.1"/>
<circle cx="103.05" cy="192.25" r="5.2" fill="#f28b8b" stroke="#913a44" stroke-width="1.1"/>
<text x="123.2" y="194" font-size="14.4"><tspan fill="#a65a64">Cy5 labeled </tspan>p53<tspan font-size="7.2" dy="-6.48">4M</tspan><tspan dy="6.48"> ΔTAD</tspan></text>
<text x="142.6" y="215.5" font-size="14.4"><tspan fill="#35a864">FAM labeled </tspan>DNA</text>
<line x1="267.6" y1="97" x2="364" y2="45" stroke="#a3424b" stroke-width="1.4"/>
<polygon points="371,41.3 364.03,50.51 359.48,42.05" fill="#a3424b"/>
<line x1="267.6" y1="110.9" x2="364" y2="163.5" stroke="#111" stroke-width="1.4"/>
<polygon points="371.5,167.8 359.45,166.9 364.25,158.13" fill="#111"/>
<text x="0" y="0" font-size="14.4" transform="translate(273 85.2) rotate(-30.3)">DPIC formation</text>
<text x="0" y="0" font-size="14" transform="translate(270 136.3) rotate(26.8)">No DPIC forms</text>
<circle cx="422.6" cy="58" r="45.5" fill="none" stroke="#a3424b" stroke-width="1.3"/>
<polygon points="405.5,24.9 406.56,25.97 407.56,26.65 408.34,26.77 408.91,26.22 409.27,25.11 409.56,23.67 409.87,22.22 410.34,21.1 411.04,20.55 411.8,20.73 412.77,21.5 413.67,22.66 414.5,23.89 415.1,24.82 415.8,25.19 416.25,24.92 416.9,24.08 417.87,22.97 418.92,21.92 420,21.25 420.79,21.13 421.44,21.73 421.73,22.85 421.88,24.34 421.92,25.81 422.1,27 422.48,27.64 423.25,27.71 424.27,27.24 425.53,26.49 426.82,25.74 427.94,25.27 428.79,25.34 429.26,26 429.34,27.15 429.21,28.61 429,30.07 428.96,31.28 429.17,31.98 429.81,32.15 430.94,31.96 432.3,31.51 433.75,31.13 435.01,31.02 435.79,31.28 436.07,32.06 435.84,33.21 435.26,34.55 434.61,35.89 434.19,37.03 434.23,37.85 434.85,38.28 435.94,38.33 437.36,38.24 438.86,38.25 440.1,38.49 440.82,39.01 440.89,39.81 440.35,40.83 439.42,41.95 438.43,43.07 437.73,44.12 437.61,45.01 441.82,43.23 440.55,43.03 439.05,42.85 437.67,42.61 436.71,42.25 436.36,41.68 436.63,40.86 437.35,39.79 438.24,38.57 438.96,37.32 439.2,36.22 438.88,35.5 438.01,35.23 436.7,35.27 435.2,35.47 433.8,35.63 432.78,35.57 432.28,35.15 432.3,34.3 432.66,33.05 433.19,31.65 433.55,30.26 433.53,29.13 433.11,28.55 432.13,28.43 430.85,28.79 429.48,29.43 428.21,30.03 427.21,30.31 426.54,30.04 426.28,29.24 426.28,27.96 426.38,26.46 426.39,25.02 426.19,23.97 425.6,23.45 424.73,23.57 423.56,24.16 422.32,25.03 421.17,25.85 420.27,26.33 419.55,26.21 419.19,25.51 418.89,24.27 418.66,22.8 418.22,21.38 417.71,20.42 416.77,20.09 415.78,20.52 415.08,21.58 414.41,22.94 413.93,24.24 413.36,25.17 412.84,25.46 412.04,25.13 411.17,24.27 410.14,23.17 409.11,22.17 408.15,21.59 407.4,21.62 406.88,22.31 406.53,23.52 406.26,24.99 405.86,26.38" fill="#a9d9aa" stroke="none"/>
<polyline points="405.86,26.38 406.26,24.99 406.53,23.52 406.88,22.31 407.4,21.62 408.15,21.59 409.11,22.17 410.14,23.17 411.17,24.27 412.04,25.13 412.84,25.46 413.36,25.17 413.93,24.24 414.41,22.94 415.08,21.58 415.78,20.52 416.77,20.09 417.71,20.42 418.22,21.38 418.66,22.8 418.89,24.27 419.19,25.51 419.55,26.21 420.27,26.33 421.17,25.85 422.32,25.03 423.56,24.16 424.73,23.57 425.6,23.45 426.19,23.97 426.39,25.02 426.38,26.46 426.28,27.96 426.28,29.24 426.54,30.04 427.21,30.31 428.21,30.03 429.48,29.43 430.85,28.79 432.13,28.43 433.11,28.55 433.53,29.13 433.55,30.26 433.19,31.65 432.66,33.05 432.3,34.3 432.28,35.15 432.78,35.57 433.8,35.63 435.2,35.47 436.7,35.27 438.01,35.23 438.88,35.5 439.2,36.22 438.96,37.32 438.24,38.57 437.35,39.79 436.63,40.86 436.36,41.68 436.71,42.25 437.67,42.61 439.05,42.85 440.55,43.03 441.82,43.23" fill="none" stroke="#5aa86c" stroke-width="0.81" stroke-linejoin="round"/>
<polyline points="405.5,24.9 406.56,25.97 407.56,26.65 408.34,26.77 408.91,26.22 409.27,25.11 409.56,23.67 409.87,22.22 410.34,21.1 411.04,20.55 411.8,20.73 412.77,21.5 413.67,22.66 414.5,23.89 415.1,24.82 415.8,25.19 416.25,24.92 416.9,24.08 417.87,22.97 418.92,21.92 420,21.25 420.79,21.13 421.44,21.73 421.73,22.85 421.88,24.34 421.92,25.81 422.1,27 422.48,27.64 423.25,27.71 424.27,27.24 425.53,26.49 426.82,25.74 427.94,25.27 428.79,25.34 429.26,26 429.34,27.15 429.21,28.61 429,30.07 428.96,31.28 429.17,31.98 429.81,32.15 430.94,31.96 432.3,31.51 433.75,31.13 435.01,31.02 435.79,31.28 436.07,32.06 435.84,33.21 435.26,34.55 434.61,35.89 434.19,37.03 434.23,37.85 434.85,38.28 435.94,38.33 437.36,38.24 438.86,38.25 440.1,38.49 440.82,39.01 440.89,39.81 440.35,40.83 439.42,41.95 438.43,43.07 437.73,44.12 437.61,45.01" fill="none" stroke="#2a6c3c" stroke-width="0.9" stroke-linejoin="round"/>
<polygon points="401.3,30.6 399.95,30.05 398.83,29.73 398.05,29.88 397.71,30.57 397.72,31.75 397.97,33.19 398.24,34.65 398.33,35.82 398.03,36.57 397.35,36.76 396.25,36.51 394.86,36.06 393.43,35.64 392.14,35.56 391.37,35.83 391.03,36.75 391.3,38 392.1,39.25 393.08,40.31 393.88,41.12 394.19,41.73 393.85,42.26 392.91,42.81 391.61,43.43 390.28,44.1 389.25,44.79 388.78,45.45 388.99,46.09 389.8,46.82 390.99,47.62 392.25,48.42 393.24,49.18 393.67,49.88 393.43,50.53 392.57,51.17 391.32,51.85 390.01,52.61 388.99,53.35 388.54,54.16 388.81,54.93 389.73,55.6 391.09,56.12 392.54,56.51 393.75,56.86 394.44,57.32 394.49,57.98 393.97,58.87 393.06,59.94 392.07,61.08 391.32,62.14 391.06,62.99 391.44,63.58 392.41,63.94 393.79,64.18 395.28,64.35 396.55,64.56 397.34,64.96 397.52,65.63 397.12,66.58 396.3,67.72 395.35,68.89 394.57,69.93 394.2,70.67 394.47,71.24 395.34,71.6 396.63,72 398.05,72.54 399.24,73.2 399.9,73.9 399.88,74.6 399.2,75.3 398.07,76.06 396.83,76.95 395.82,77.83 395.39,78.8 395.7,79.68 396.72,80.28 398.16,80.45 399.68,80.31 400.99,80.15 401.88,80.2 402.27,80.66 402.25,81.63 401.87,82.9 401.44,84.35 401.2,85.71 401.34,86.75 401.87,87.21 402.89,87.19 404.18,86.71 405.51,85.99 406.65,85.3 407.43,84.9 407.91,85.02 408.11,85.72 408.56,86.94 409.11,88.34 409.74,89.58 410.37,90.35 411.01,90.47 411.71,89.94 412.56,88.93 413.42,87.7 414.22,86.57 414.95,85.88 415.64,85.83 416.3,86.45 416.93,87.6 417.54,88.98 418.16,90.24 418.77,91.06 419.41,91.24 420.17,90.76 420.95,89.77 421.84,88.56 422.83,87.5 423.69,86.88 424.58,86.99 425.27,87.82 425.57,89.15 425.53,90.66 425.37,92.04 425.36,93.04 425.72,93.55 426.58,93.63 427.77,93.3 429.19,92.82 430.56,92.43 431.61,92.3 432.17,92.53 429.04,96.22 429.07,94.99 429.45,93.56 429.85,92.14 429.98,90.93 429.66,90.12 428.92,89.89 427.73,90.11 426.35,90.68 425.07,91.39 424.08,91.95 423.48,92.1 423.15,91.65 422.84,90.61 422.43,89.21 421.97,87.8 421.36,86.7 420.64,86.18 419.91,86.38 419.09,87.19 418.29,88.39 417.49,89.65 416.73,90.62 415.99,91.01 415.31,90.72 414.65,89.81 414.04,88.5 413.5,87.12 412.93,86.01 412.3,85.45 411.5,85.58 410.68,86.36 409.88,87.56 409.07,88.83 408.19,89.79 407.29,90.14 406.3,89.68 405.79,88.6 405.64,87.15 405.72,85.66 405.79,84.43 405.6,83.65 405.01,83.4 403.95,83.58 402.66,84.07 401.24,84.57 399.94,84.81 399,84.62 398.63,84 398.7,82.89 399.18,81.54 399.85,80.2 400.43,79.1 400.68,78.43 400.38,78.08 399.48,77.81 398.15,77.45 396.72,76.97 395.53,76.34 394.89,75.61 394.94,74.85 395.65,74.1 396.8,73.35 398.07,72.54 399.08,71.64 399.51,70.68 399.22,69.86 398.29,69.33 396.92,69.01 395.42,68.86 394.11,68.67 393.25,68.3 393,67.64 393.36,66.7 394.15,65.58 395.12,64.41 395.95,63.37 396.32,62.49 396.05,61.81 395.16,61.38 393.82,61.15 392.31,60.98 390.98,60.73 390.09,60.28 389.82,59.58 390.21,58.65 391.09,57.61 392.2,56.59 393.19,55.71 393.76,55 393.71,54.39 393.01,53.83 391.83,53.23 390.46,52.59 389.27,51.88 388.55,51.13 388.51,50.37 389.16,49.65 390.32,48.99 391.71,48.38 392.96,47.78 393.75,47.14 393.89,46.4 393.33,45.6 392.24,44.85 390.92,44.12 389.73,43.37 389.01,42.57 388.98,41.76 389.65,41.01 390.89,40.43 392.38,40.09 393.75,39.95 394.68,39.84 395.02,39.56 394.89,38.84 394.53,37.6 394.02,36.21 393.69,34.81 393.65,33.75 394.13,33.1 395.04,33 396.26,33.36 397.66,33.93 398.97,34.46 400.03,34.67 400.69,34.4 400.95,33.57 400.86,32.31 400.59,30.84 400.31,29.44" fill="#a9d9aa" stroke="none"/>
<polyline points="400.31,29.44 400.59,30.84 400.86,32.31 400.95,33.57 400.69,34.4 400.03,34.67 398.97,34.46 397.66,33.93 396.26,33.36 395.04,33 394.13,33.1 393.65,33.75 393.69,34.81 394.02,36.21 394.53,37.6 394.89,38.84 395.02,39.56 394.68,39.84 393.75,39.95 392.38,40.09 390.89,40.43 389.65,41.01 388.98,41.76 389.01,42.57 389.73,43.37 390.92,44.12 392.24,44.85 393.33,45.6 393.89,46.4 393.75,47.14 392.96,47.78 391.71,48.38 390.32,48.99 389.16,49.65 388.51,50.37 388.55,51.13 389.27,51.88 390.46,52.59 391.83,53.23 393.01,53.83 393.71,54.39 393.76,55 393.19,55.71 392.2,56.59 391.09,57.61 390.21,58.65 389.82,59.58 390.09,60.28 390.98,60.73 392.31,60.98 393.82,61.15 395.16,61.38 396.05,61.81 396.32,62.49 395.95,63.37 395.12,64.41 394.15,65.58 393.36,66.7 393,67.64 393.25,68.3 394.11,68.67 395.42,68.86 396.92,69.01 398.29,69.33 399.22,69.86 399.51,70.68 399.08,71.64 398.07,72.54 396.8,73.35 395.65,74.1 394.94,74.85 394.89,75.61 395.53,76.34 396.72,76.97 398.15,77.45 399.48,77.81 400.38,78.08 400.68,78.43 400.43,79.1 399.85,80.2 399.18,81.54 398.7,82.89 398.63,84 399,84.62 399.94,84.81 401.24,84.57 402.66,84.07 403.95,83.58 405.01,83.4 405.6,83.65 405.79,84.43 405.72,85.66 405.64,87.15 405.79,88.6 406.3,89.68 407.29,90.14 408.19,89.79 409.07,88.83 409.88,87.56 410.68,86.36 411.5,85.58 412.3,85.45 412.93,86.01 413.5,87.12 414.04,88.5 414.65,89.81 415.31,90.72 415.99,91.01 416.73,90.62 417.49,89.65 418.29,88.39 419.09,87.19 419.91,86.38 420.64,86.18 421.36,86.7 421.97,87.8 422.43,89.21 422.84,90.61 423.15,91.65 423.48,92.1 424.08,91.95 425.07,91.39 426.35,90.68 427.73,90.11 428.92,89.89 429.66,90.12 429.98,90.93 429.85,92.14 429.45,93.56 429.07,94.99 429.04,96.22" fill="none" stroke="#5aa86c" stroke-width="0.81" stroke-linejoin="round"/>
<polyline points="401.3,30.6 399.95,30.05 398.83,29.73 398.05,29.88 397.71,30.57 397.72,31.75 397.97,33.19 398.24,34.65 398.33,35.82 398.03,36.57 397.35,36.76 396.25,36.51 394.86,36.06 393.43,35.64 392.14,35.56 391.37,35.83 391.03,36.75 391.3,38 392.1,39.25 393.08,40.31 393.88,41.12 394.19,41.73 393.85,42.26 392.91,42.81 391.61,43.43 390.28,44.1 389.25,44.79 388.78,45.45 388.99,46.09 389.8,46.82 390.99,47.62 392.25,48.42 393.24,49.18 393.67,49.88 393.43,50.53 392.57,51.17 391.32,51.85 390.01,52.61 388.99,53.35 388.54,54.16 388.81,54.93 389.73,55.6 391.09,56.12 392.54,56.51 393.75,56.86 394.44,57.32 394.49,57.98 393.97,58.87 393.06,59.94 392.07,61.08 391.32,62.14 391.06,62.99 391.44,63.58 392.41,63.94 393.79,64.18 395.28,64.35 396.55,64.56 397.34,64.96 397.52,65.63 397.12,66.58 396.3,67.72 395.35,68.89 394.57,69.93 394.2,70.67 394.47,71.24 395.34,71.6 396.63,72 398.05,72.54 399.24,73.2 399.9,73.9 399.88,74.6 399.2,75.3 398.07,76.06 396.83,76.95 395.82,77.83 395.39,78.8 395.7,79.68 396.72,80.28 398.16,80.45 399.68,80.31 400.99,80.15 401.88,80.2 402.27,80.66 402.25,81.63 401.87,82.9 401.44,84.35 401.2,85.71 401.34,86.75 401.87,87.21 402.89,87.19 404.18,86.71 405.51,85.99 406.65,85.3 407.43,84.9 407.91,85.02 408.11,85.72 408.56,86.94 409.11,88.34 409.74,89.58 410.37,90.35 411.01,90.47 411.71,89.94 412.56,88.93 413.42,87.7 414.22,86.57 414.95,85.88 415.64,85.83 416.3,86.45 416.93,87.6 417.54,88.98 418.16,90.24 418.77,91.06 419.41,91.24 420.17,90.76 420.95,89.77 421.84,88.56 422.83,87.5 423.69,86.88 424.58,86.99 425.27,87.82 425.57,89.15 425.53,90.66 425.37,92.04 425.36,93.04 425.72,93.55 426.58,93.63 427.77,93.3 429.19,92.82 430.56,92.43 431.61,92.3 432.17,92.53" fill="none" stroke="#2a6c3c" stroke-width="0.9" stroke-linejoin="round"/>
<polygon points="415.5,47.6 414.03,47.6 412.85,47.76 412.19,48.26 412.16,49.09 412.69,50.19 413.58,51.4 414.54,52.48 415.26,53.33 415.5,53.82 415.14,53.99 414.22,54.69 413.01,55.55 411.82,56.43 410.96,57.18 410.66,57.5 411,57.93 411.82,58.59 412.68,59.7 413.01,61.23 412.87,62.52 412.3,63.26 411.39,63.34 410.3,62.78 409.07,61.91 407.91,61.01 406.94,60.42 406.2,60.4 405.68,61.03 405.39,62.21 405.19,63.7 405.01,65.15 404.66,66.26 404.03,66.8 403.18,66.66 402.19,65.94 401.1,64.9 400.05,63.88 399.13,63.22 398.38,63.15 397.83,63.75 397.42,64.91 397.09,66.38 396.75,67.8 396.32,68.85 395.74,69.29 394.38,64.69 395.35,65.43 396.39,66.51 397.42,67.56 398.35,68.25 399.13,68.34 399.72,67.75 400.12,66.59 400.43,65.12 400.72,63.68 401.09,62.62 401.68,62.13 402.44,62.3 403.41,63.01 404.55,63.99 405.67,64.92 406.65,65.51 407.42,65.5 407.93,64.84 408.23,63.62 408.39,62.12 408.5,60.68 408.68,59.61 409.2,59.06 409.92,59.15 410.95,59.69 412.27,60.33 413.86,60.46 415.17,59.9 415.72,58.88 415.38,57.8 414.33,56.84 412.93,56.28 411.58,55.75 410.62,55.11 410.33,54.3 410.84,53.09 412.03,52.44 413.52,52.13 414.93,52 415.98,51.77 416.47,51.28 416.35,50.46 415.76,49.37 414.94,48.1 414.13,46.92" fill="#a9d9aa" stroke="none"/>
<polyline points="414.13,46.92 414.94,48.1 415.76,49.37 416.35,50.46 416.47,51.28 415.98,51.77 414.93,52 413.52,52.13 412.03,52.44 410.84,53.09 410.33,54.3 410.62,55.11 411.58,55.75 412.93,56.28 414.33,56.84 415.38,57.8 415.72,58.88 415.17,59.9 413.86,60.46 412.27,60.33 410.95,59.69 409.92,59.15 409.2,59.06 408.68,59.61 408.5,60.68 408.39,62.12 408.23,63.62 407.93,64.84 407.42,65.5 406.65,65.51 405.67,64.92 404.55,63.99 403.41,63.01 402.44,62.3 401.68,62.13 401.09,62.62 400.72,63.68 400.43,65.12 400.12,66.59 399.72,67.75 399.13,68.34 398.35,68.25 397.42,67.56 396.39,66.51 395.35,65.43 394.38,64.69" fill="none" stroke="#5aa86c" stroke-width="0.81" stroke-linejoin="round"/>
<polyline points="415.5,47.6 414.03,47.6 412.85,47.76 412.19,48.26 412.16,49.09 412.69,50.19 413.58,51.4 414.54,52.48 415.26,53.33 415.5,53.82 415.14,53.99 414.22,54.69 413.01,55.55 411.82,56.43 410.96,57.18 410.66,57.5 411,57.93 411.82,58.59 412.68,59.7 413.01,61.23 412.87,62.52 412.3,63.26 411.39,63.34 410.3,62.78 409.07,61.91 407.91,61.01 406.94,60.42 406.2,60.4 405.68,61.03 405.39,62.21 405.19,63.7 405.01,65.15 404.66,66.26 404.03,66.8 403.18,66.66 402.19,65.94 401.1,64.9 400.05,63.88 399.13,63.22 398.38,63.15 397.83,63.75 397.42,64.91 397.09,66.38 396.75,67.8 396.32,68.85 395.74,69.29" fill="none" stroke="#2a6c3c" stroke-width="0.9" stroke-linejoin="round"/>
<polygon points="418,63 417.42,64.35 417.12,65.5 417.28,66.28 417.96,66.62 419.1,66.59 420.53,66.35 422,66.14 423.2,66.13 423.97,66.52 424.18,67.33 423.83,68.46 423.07,69.72 422.13,70.85 421.29,71.55 420.94,72.16 421.23,72.7 422.11,73.28 423.38,73.91 424.72,74.53 425.82,75.09 426.4,75.59 426.34,76.16 425.72,76.93 424.73,77.92 423.68,78.98 422.88,79.99 422.6,80.85 422.95,81.49 423.91,81.89 425.28,82.16 426.77,82.37 428.04,82.65 428.83,83.11 428.99,83.81 428.54,84.73 424.5,86.13 424.34,85.47 424.77,84.58 425.64,83.52 426.66,82.41 427.49,81.37 427.87,80.51 427.62,79.86 426.76,79.43 425.45,79.14 423.96,78.89 422.64,78.54 421.77,78.01 421.53,77.22 421.98,76.28 422.99,75.38 424.25,74.56 425.4,73.83 426.1,73.08 426.12,72.29 425.45,71.54 424.22,70.95 422.73,70.62 421.4,70.54 420.47,70.4 420.06,69.97 420.18,69.15 420.68,67.98 421.33,66.63 421.88,65.33 422.07,64.26 421.75,63.59 420.92,63.35 419.66,63.46 418.2,63.73 416.78,63.92" fill="#a9d9aa" stroke="none"/>
<polyline points="416.78,63.92 418.2,63.73 419.66,63.46 420.92,63.35 421.75,63.59 422.07,64.26 421.88,65.33 421.33,66.63 420.68,67.98 420.18,69.15 420.06,69.97 420.47,70.4 421.4,70.54 422.73,70.62 424.22,70.95 425.45,71.54 426.12,72.29 426.1,73.08 425.4,73.83 424.25,74.56 422.99,75.38 421.98,76.28 421.53,77.22 421.77,78.01 422.64,78.54 423.96,78.89 425.45,79.14 426.76,79.43 427.62,79.86 427.87,80.51 427.49,81.37 426.66,82.41 425.64,83.52 424.77,84.58 424.34,85.47 424.5,86.13" fill="none" stroke="#5aa86c" stroke-width="0.81" stroke-linejoin="round"/>
<polyline points="418,63 417.42,64.35 417.12,65.5 417.28,66.28 417.96,66.62 419.1,66.59 420.53,66.35 422,66.14 423.2,66.13 423.97,66.52 424.18,67.33 423.83,68.46 423.07,69.72 422.13,70.85 421.29,71.55 420.94,72.16 421.23,72.7 422.11,73.28 423.38,73.91 424.72,74.53 425.82,75.09 426.4,75.59 426.34,76.16 425.72,76.93 424.73,77.92 423.68,78.98 422.88,79.99 422.6,80.85 422.95,81.49 423.91,81.89 425.28,82.16 426.77,82.37 428.04,82.65 428.83,83.11 428.99,83.81 428.54,84.73" fill="none" stroke="#2a6c3c" stroke-width="0.9" stroke-linejoin="round"/>
<polygon points="427.6,55.4 429.13,55.3 430.31,54.99 430.89,54.44 430.78,53.62 430.13,52.54 429.19,51.34 428.34,50.1 427.87,49.06 428.08,48.24 428.97,47.76 430.35,47.67 431.86,47.96 433,48.56 433.37,49.2 433.44,49.3 433.81,48.73 434.62,47.76 435.77,46.72 436.99,45.96 438.04,45.71 438.72,46.11 439.01,47.1 439.01,48.52 438.96,50.08 439.18,51.48 440.24,49.17 438.96,50.07 437.73,50.69 436.79,50.83 436.25,50.39 436.05,49.36 436.02,47.93 435.91,46.37 435.49,45.04 434.63,44.29 433.43,44.38 432.33,45.42 431.99,47.03 432.41,48.49 432.88,49.56 432.93,50.22 432.34,50.56 431.17,50.69 429.66,50.75 428.14,50.86 426.97,51.16 426.41,51.71 426.51,52.57 427.19,53.64 428.14,54.85 428.96,56.1" fill="#a9d9aa" stroke="none"/>
<polyline points="428.96,56.1 428.14,54.85 427.19,53.64 426.51,52.57 426.41,51.71 426.97,51.16 428.14,50.86 429.66,50.75 431.17,50.69 432.34,50.56 432.93,50.22 432.88,49.56 432.41,48.49 431.99,47.03 432.33,45.42 433.43,44.38 434.63,44.29 435.49,45.04 435.91,46.37 436.02,47.93 436.05,49.36 436.25,50.39 436.79,50.83 437.73,50.69 438.96,50.07 440.24,49.17" fill="none" stroke="#5aa86c" stroke-width="0.81" stroke-linejoin="round"/>
<polyline points="427.6,55.4 429.13,55.3 430.31,54.99 430.89,54.44 430.78,53.62 430.13,52.54 429.19,51.34 428.34,50.1 427.87,49.06 428.08,48.24 428.97,47.76 430.35,47.67 431.86,47.96 433,48.56 433.37,49.2 433.44,49.3 433.81,48.73 434.62,47.76 435.77,46.72 436.99,45.96 438.04,45.71 438.72,46.11 439.01,47.1 439.01,48.52 438.96,50.08 439.18,51.48" fill="none" stroke="#2a6c3c" stroke-width="0.9" stroke-linejoin="round"/>
<polygon points="429.7,65.4 429.6,66.83 429.59,67.98 429.99,68.7 430.83,68.88 431.99,68.5 433.23,67.72 434.4,66.83 435.25,66.09 435.7,65.77 435.94,66.06 436.35,66.88 437.25,67.88 438.54,68.65 439.83,68.97 440.63,68.86 441.1,68.08 441.07,66.89 440.7,65.49 440.27,64.07 440.04,62.87 440.22,62.06 440.9,61.73 442.01,61.84 443.41,62.22 444.81,62.69 446.02,62.97 446.77,62.92 447.16,62.3 447.1,61.29 446.92,59.88 446.81,58.38 446.92,57.1 447.29,56.32 448.06,56.12 449.11,56.5 450.3,57.28 451.52,58.15 452.62,58.8 453.44,58.97 454.01,58.51 454.29,57.5 454.41,56.09 454.51,54.59 454.71,53.32 455.13,52.54 455.83,52.38 456.78,52.81 457.92,53.62 458.9,55.67 458.51,56.59 457.85,56.89 456.94,56.57 455.82,55.8 454.63,54.87 453.51,54.1 452.57,53.77 451.9,54.06 451.54,54.94 451.38,56.28 451.34,57.79 451.26,59.15 450.95,60.1 450.41,60.45 449.55,60.22 448.37,59.6 447.08,58.81 445.85,58.18 444.75,58.07 444.01,58.53 443.85,59.44 444.01,60.79 444.4,62.25 444.75,63.59 444.81,64.59 444.39,65.17 443.5,65.26 442.22,65 440.78,64.57 439.44,64.18 438.4,64.11 437.86,64.42 437.8,65.21 437.9,66.5 438.11,67.96 437.95,69.45 437.15,70.59 435.95,70.93 434.89,70.36 434.25,69.14 434.03,67.66 434.01,66.3 433.8,65.24 433.42,64.78 432.64,64.84 431.49,65.3 430.16,65.99 429,66.76" fill="#a9d9aa" stroke="none"/>
<polyline points="429,66.76 430.16,65.99 431.49,65.3 432.64,64.84 433.42,64.78 433.8,65.24 434.01,66.3 434.03,67.66 434.25,69.14 434.89,70.36 435.95,70.93 437.15,70.59 437.95,69.45 438.11,67.96 437.9,66.5 437.8,65.21 437.86,64.42 438.4,64.11 439.44,64.18 440.78,64.57 442.22,65 443.5,65.26 444.39,65.17 444.81,64.59 444.75,63.59 444.4,62.25 444.01,60.79 443.85,59.44 444.01,58.53 444.75,58.07 445.85,58.18 447.08,58.81 448.37,59.6 449.55,60.22 450.41,60.45 450.95,60.1 451.26,59.15 451.34,57.79 451.38,56.28 451.54,54.94 451.9,54.06 452.57,53.77 453.51,54.1 454.63,54.87 455.82,55.8 456.94,56.57 457.85,56.89 458.51,56.59 458.9,55.67" fill="none" stroke="#5aa86c" stroke-width="0.81" stroke-linejoin="round"/>
<polyline points="429.7,65.4 429.6,66.83 429.59,67.98 429.99,68.7 430.83,68.88 431.99,68.5 433.23,67.72 434.4,66.83 435.25,66.09 435.7,65.77 435.94,66.06 436.35,66.88 437.25,67.88 438.54,68.65 439.83,68.97 440.63,68.86 441.1,68.08 441.07,66.89 440.7,65.49 440.27,64.07 440.04,62.87 440.22,62.06 440.9,61.73 442.01,61.84 443.41,62.22 444.81,62.69 446.02,62.97 446.77,62.92 447.16,62.3 447.1,61.29 446.92,59.88 446.81,58.38 446.92,57.1 447.29,56.32 448.06,56.12 449.11,56.5 450.3,57.28 451.52,58.15 452.62,58.8 453.44,58.97 454.01,58.51 454.29,57.5 454.41,56.09 454.51,54.59 454.71,53.32 455.13,52.54 455.83,52.38 456.78,52.81 457.92,53.62" fill="none" stroke="#2a6c3c" stroke-width="0.9" stroke-linejoin="round"/>
<polygon points="438.2,69.6 438.47,71.04 438.83,72.16 439.39,72.72 440.17,72.62 441.14,71.95 442.22,70.94 443.3,69.93 444.25,69.22 445,69.07 445.54,69.58 445.96,70.67 446.3,72.09 446.72,73.53 447.36,74.63 448.27,75.1 449.23,74.78 450,73.74 450.48,72.29 450.62,70.83 450.68,69.72 451.08,69.05 452.15,68.88 453.96,73.39 453.39,73.11 452.23,72.54 450.99,71.67 449.94,70.75 449.38,70.05 448.91,69.93 448.46,70.43 447.82,71.42 446.92,72.6 445.91,73.64 444.97,74.26 444.23,74.25 443.65,73.56 443.26,72.34 442.99,70.86 442.7,69.46 442.31,68.44 441.71,68.03 440.88,68.27 439.88,69.03 438.79,70.07 437.75,71.06" fill="#a9d9aa" stroke="none"/>
<polyline points="437.75,71.06 438.79,70.07 439.88,69.03 440.88,68.27 441.71,68.03 442.31,68.44 442.7,69.46 442.99,70.86 443.26,72.34 443.65,73.56 444.23,74.25 444.97,74.26 445.91,73.64 446.92,72.6 447.82,71.42 448.46,70.43 448.91,69.93 449.38,70.05 449.94,70.75 450.99,71.67 452.23,72.54 453.39,73.11 453.96,73.39" fill="none" stroke="#5aa86c" stroke-width="0.81" stroke-linejoin="round"/>
<polyline points="438.2,69.6 438.47,71.04 438.83,72.16 439.39,72.72 440.17,72.62 441.14,71.95 442.22,70.94 443.3,69.93 444.25,69.22 445,69.07 445.54,69.58 445.96,70.67 446.3,72.09 446.72,73.53 447.36,74.63 448.27,75.1 449.23,74.78 450,73.74 450.48,72.29 450.62,70.83 450.68,69.72 451.08,69.05 452.15,68.88" fill="none" stroke="#2a6c3c" stroke-width="0.9" stroke-linejoin="round"/>
<polygon points="416,38 414.61,38.67 413.62,39.36 413.29,40.08 413.73,40.84 414.78,41.64 416.13,42.45 417.37,43.25 418.14,44.04 418.19,44.78 417.51,45.48 416.27,46.16 414.83,46.82 413.6,47.5 416,47.63 414.64,46.81 413.54,46.02 413.04,45.25 413.28,44.52 414.22,43.83 415.58,43.16 416.99,42.49 418.04,41.81 418.44,41.09 418.09,40.33 417.09,39.54 415.75,38.73 414.47,37.92" fill="#a9d9aa" stroke="none"/>
<polyline points="414.47,37.92 415.75,38.73 417.09,39.54 418.09,40.33 418.44,41.09 418.04,41.81 416.99,42.49 415.58,43.16 414.22,43.83 413.28,44.52 413.04,45.25 413.54,46.02 414.64,46.81 416,47.63" fill="none" stroke="#5aa86c" stroke-width="0.81" stroke-linejoin="round"/>
<polyline points="416,38 414.61,38.67 413.62,39.36 413.29,40.08 413.73,40.84 414.78,41.64 416.13,42.45 417.37,43.25 418.14,44.04 418.19,44.78 417.51,45.48 416.27,46.16 414.83,46.82 413.6,47.5" fill="none" stroke="#2a6c3c" stroke-width="0.9" stroke-linejoin="round"/>
<circle cx="398.26" cy="27.56" r="3.8" fill="#f28b8b" stroke="#913a44" stroke-width="0.8"/>
<circle cx="404.34" cy="27.56" r="3.8" fill="#f28b8b" stroke="#913a44" stroke-width="0.8"/>
<circle cx="398.26" cy="33.64" r="3.8" fill="#f28b8b" stroke="#913a44" stroke-width="0.8"/>
<circle cx="404.34" cy="33.64" r="3.8" fill="#f28b8b" stroke="#913a44" stroke-width="0.8"/>
<circle cx="388.26" cy="51.66" r="3.8" fill="#f28b8b" stroke="#913a44" stroke-width="0.8"/>
<circle cx="394.34" cy="51.66" r="3.8" fill="#f28b8b" stroke="#913a44" stroke-width="0.8"/>
<circle cx="388.26" cy="57.74" r="3.8" fill="#f28b8b" stroke="#913a44" stroke-width="0.8"/>
<circle cx="394.34" cy="57.74" r="3.8" fill="#f28b8b" stroke="#913a44" stroke-width="0.8"/>
<circle cx="433" cy="36.7" r="3" fill="#f28b8b" stroke="#913a44" stroke-width="0.8"/>
<circle cx="437.8" cy="36.7" r="3" fill="#f28b8b" stroke="#913a44" stroke-width="0.8"/>
<circle cx="433" cy="41.5" r="3" fill="#f28b8b" stroke="#913a44" stroke-width="0.8"/>
<circle cx="437.8" cy="41.5" r="3" fill="#f28b8b" stroke="#913a44" stroke-width="0.8"/>
<circle cx="413.1" cy="45.2" r="3" fill="#f28b8b" stroke="#913a44" stroke-width="0.8"/>
<circle cx="417.9" cy="45.2" r="3" fill="#f28b8b" stroke="#913a44" stroke-width="0.8"/>
<circle cx="413.1" cy="50" r="3" fill="#f28b8b" stroke="#913a44" stroke-width="0.8"/>
<circle cx="417.9" cy="50" r="3" fill="#f28b8b" stroke="#913a44" stroke-width="0.8"/>
<circle cx="425.28" cy="53.08" r="2.9" fill="#f28b8b" stroke="#913a44" stroke-width="0.8"/>
<circle cx="429.92" cy="53.08" r="2.9" fill="#f28b8b" stroke="#913a44" stroke-width="0.8"/>
<circle cx="425.28" cy="57.72" r="2.9" fill="#f28b8b" stroke="#913a44" stroke-width="0.8"/>
<circle cx="429.92" cy="57.72" r="2.9" fill="#f28b8b" stroke="#913a44" stroke-width="0.8"/>
<circle cx="420.84" cy="64.34" r="2.2" fill="#f28b8b" stroke="#913a44" stroke-width="0.8"/>
<circle cx="424.36" cy="64.34" r="2.2" fill="#f28b8b" stroke="#913a44" stroke-width="0.8"/>
<circle cx="420.84" cy="67.86" r="2.2" fill="#f28b8b" stroke="#913a44" stroke-width="0.8"/>
<circle cx="424.36" cy="67.86" r="2.2" fill="#f28b8b" stroke="#913a44" stroke-width="0.8"/>
<circle cx="404.6" cy="85" r="3" fill="#f28b8b" stroke="#913a44" stroke-width="0.8"/>
<circle cx="409.4" cy="85" r="3" fill="#f28b8b" stroke="#913a44" stroke-width="0.8"/>
<circle cx="404.6" cy="89.8" r="3" fill="#f28b8b" stroke="#913a44" stroke-width="0.8"/>
<circle cx="409.4" cy="89.8" r="3" fill="#f28b8b" stroke="#913a44" stroke-width="0.8"/>
<circle cx="420.9" cy="88.6" r="3" fill="#f28b8b" stroke="#913a44" stroke-width="0.8"/>
<circle cx="425.7" cy="88.6" r="3" fill="#f28b8b" stroke="#913a44" stroke-width="0.8"/>
<circle cx="420.9" cy="93.4" r="3" fill="#f28b8b" stroke="#913a44" stroke-width="0.8"/>
<circle cx="425.7" cy="93.4" r="3" fill="#f28b8b" stroke="#913a44" stroke-width="0.8"/>
<circle cx="436.5" cy="67.9" r="2.2" fill="#a08060" stroke="#6b4a3a" stroke-width="0.6"/>
<circle cx="439.9" cy="67.9" r="2.2" fill="#a08060" stroke="#6b4a3a" stroke-width="0.6"/>
<circle cx="436.5" cy="71.3" r="2.2" fill="#a08060" stroke="#6b4a3a" stroke-width="0.6"/>
<circle cx="439.9" cy="71.3" r="2.2" fill="#a08060" stroke="#6b4a3a" stroke-width="0.6"/>
<polygon points="397,156.3 395.82,157.17 394.96,157.95 394.68,158.67 395.08,159.33 396.07,159.93 397.42,160.49 398.78,161.04 399.83,161.62 400.31,162.28 400.11,162.98 399.32,163.79 398.15,164.63 396.94,165.5 396.04,166.33 395.71,167.13 396.05,167.78 397,168.35 398.35,168.86 399.77,169.33 400.9,169.79 401.51,170.38 401.45,171.11 400.79,171.9 399.75,172.86 398.65,173.9 397.82,174.86 397.52,175.68 397.94,176.43 398.92,176.83 400.33,177.1 401.82,177.25 403.07,177.42 403.86,177.83 404.05,178.52 403.64,179.42 402.86,180.57 401.98,181.8 401.31,182.93 401.09,183.82 401.5,184.45 402.46,184.73 403.84,184.8 405.34,184.78 406.67,184.85 407.56,185.15 407.87,185.77 407.61,186.71 406.94,187.89 406.12,189.16 405.46,190.33 405.22,191.27 405.53,191.87 406.42,192.14 407.75,192.24 410.22,190.95 410.36,190.09 409.86,189.5 408.82,189.25 407.41,189.24 405.91,189.28 404.63,189.2 403.8,188.86 403.55,188.18 403.88,187.2 404.59,185.99 405.42,184.74 406.07,183.62 406.26,182.72 405.87,182.13 404.92,181.88 403.55,181.79 402.04,181.77 400.71,181.61 399.84,181.26 399.54,180.54 399.88,179.62 400.65,178.51 401.61,177.34 402.41,176.25 402.82,175.46 402.6,174.79 401.78,174.45 400.49,174.09 399.02,173.79 397.7,173.35 396.85,172.83 396.63,172.07 397.09,171.27 398.05,170.36 399.23,169.42 400.29,168.53 400.91,167.76 400.9,167.05 400.22,166.45 399.04,165.93 397.63,165.41 396.34,164.88 395.48,164.25 395.26,163.57 395.72,162.8 396.7,161.98 397.94,161.13 399.08,160.3 399.81,159.52 399.91,158.8 399.33,158.16 398.21,157.57 396.81,157.03 395.49,156.51" fill="#a9d9aa" stroke="none"/>
<polyline points="395.49,156.51 396.81,157.03 398.21,157.57 399.33,158.16 399.91,158.8 399.81,159.52 399.08,160.3 397.94,161.13 396.7,161.98 395.72,162.8 395.26,163.57 395.48,164.25 396.34,164.88 397.63,165.41 399.04,165.93 400.22,166.45 400.9,167.05 400.91,167.76 400.29,168.53 399.23,169.42 398.05,170.36 397.09,171.27 396.63,172.07 396.85,172.83 397.7,173.35 399.02,173.79 400.49,174.09 401.78,174.45 402.6,174.79 402.82,175.46 402.41,176.25 401.61,177.34 400.65,178.51 399.88,179.62 399.54,180.54 399.84,181.26 400.71,181.61 402.04,181.77 403.55,181.79 404.92,181.88 405.87,182.13 406.26,182.72 406.07,183.62 405.42,184.74 404.59,185.99 403.88,187.2 403.55,188.18 403.8,188.86 404.63,189.2 405.91,189.28 407.41,189.24 408.82,189.25 409.86,189.5 410.36,190.09 410.22,190.95" fill="none" stroke="#5aa86c" stroke-width="0.81" stroke-linejoin="round"/>
<polyline points="397,156.3 395.82,157.17 394.96,157.95 394.68,158.67 395.08,159.33 396.07,159.93 397.42,160.49 398.78,161.04 399.83,161.62 400.31,162.28 400.11,162.98 399.32,163.79 398.15,164.63 396.94,165.5 396.04,166.33 395.71,167.13 396.05,167.78 397,168.35 398.35,168.86 399.77,169.33 400.9,169.79 401.51,170.38 401.45,171.11 400.79,171.9 399.75,172.86 398.65,173.9 397.82,174.86 397.52,175.68 397.94,176.43 398.92,176.83 400.33,177.1 401.82,177.25 403.07,177.42 403.86,177.83 404.05,178.52 403.64,179.42 402.86,180.57 401.98,181.8 401.31,182.93 401.09,183.82 401.5,184.45 402.46,184.73 403.84,184.8 405.34,184.78 406.67,184.85 407.56,185.15 407.87,185.77 407.61,186.71 406.94,187.89 406.12,189.16 405.46,190.33 405.22,191.27 405.53,191.87 406.42,192.14 407.75,192.24" fill="none" stroke="#2a6c3c" stroke-width="0.9" stroke-linejoin="round"/>
<polygon points="422.6,180.5 424.02,180.91 425.22,181.04 425.96,180.77 426.22,180 426.01,178.85 425.54,177.45 425.06,176.05 424.84,174.88 425.06,174.1 425.77,173.81 426.95,173.92 428.36,174.29 429.8,174.68 430.96,174.86 431.73,174.63 432,173.91 431.82,172.78 431.43,171.37 431.02,169.94 430.88,168.71 431.13,167.94 431.85,167.67 433.03,167.83 434.39,168.34 435.78,168.87 436.89,169.24 437.7,169.13 438.08,168.48 438.03,167.42 437.91,165.97 437.86,164.45 438,163.23 438.61,162.43 439.36,162.39 440.37,162.91 441.55,163.81 442.67,164.79 443.59,165.54 444.39,165.74 444.99,165.29 445.35,164.28 445.7,162.88 446.07,161.42 446.51,160.26 447.09,159.66 447.89,159.72 448.77,160.42 449.73,161.51 450.67,162.67 451.55,163.55 452.33,163.87 452.99,163.52 453.52,162.55 453.98,161.18 454.35,159.74 454.78,158.56 455.5,161.38 454.49,160.26 453.57,159.23 452.77,158.64 452.06,158.7 451.48,159.42 451,160.64 450.56,162.09 450.1,163.41 449.6,164.28 448.93,164.52 448.16,164.09 447.21,163.18 446.21,162.04 445.2,161.05 444.32,160.51 443.51,160.62 443.01,161.38 442.67,162.64 442.43,164.14 442.19,165.53 441.95,166.45 441.36,166.86 440.48,166.64 439.48,165.94 438.22,165.11 436.91,164.49 435.89,164.23 435.08,164.62 434.86,165.48 434.97,166.77 435.26,168.26 435.53,169.65 435.51,170.72 435.16,171.25 434.29,171.34 433.04,171.03 431.62,170.56 430.25,170.17 429.18,170.08 428.53,170.5 428.4,171.37 428.67,172.62 429.13,174.05 429.55,175.42 429.65,176.5 429.32,177.12 428.47,177.29 427.23,177.09 425.77,176.7 424.38,176.38 423.29,176.33 422.66,176.71 422.55,177.54 422.83,178.77 423.29,180.2 423.68,181.58" fill="#a9d9aa" stroke="none"/>
<polyline points="423.68,181.58 423.29,180.2 422.83,178.77 422.55,177.54 422.66,176.71 423.29,176.33 424.38,176.38 425.77,176.7 427.23,177.09 428.47,177.29 429.32,177.12 429.65,176.5 429.55,175.42 429.13,174.05 428.67,172.62 428.4,171.37 428.53,170.5 429.18,170.08 430.25,170.17 431.62,170.56 433.04,171.03 434.29,171.34 435.16,171.25 435.51,170.72 435.53,169.65 435.26,168.26 434.97,166.77 434.86,165.48 435.08,164.62 435.89,164.23 436.91,164.49 438.22,165.11 439.48,165.94 440.48,166.64 441.36,166.86 441.95,166.45 442.19,165.53 442.43,164.14 442.67,162.64 443.01,161.38 443.51,160.62 444.32,160.51 445.2,161.05 446.21,162.04 447.21,163.18 448.16,164.09 448.93,164.52 449.6,164.28 450.1,163.41 450.56,162.09 451,160.64 451.48,159.42 452.06,158.7 452.77,158.64 453.57,159.23 454.49,160.26 455.5,161.38" fill="none" stroke="#5aa86c" stroke-width="0.81" stroke-linejoin="round"/>
<polyline points="422.6,180.5 424.02,180.91 425.22,181.04 425.96,180.77 426.22,180 426.01,178.85 425.54,177.45 425.06,176.05 424.84,174.88 425.06,174.1 425.77,173.81 426.95,173.92 428.36,174.29 429.8,174.68 430.96,174.86 431.73,174.63 432,173.91 431.82,172.78 431.43,171.37 431.02,169.94 430.88,168.71 431.13,167.94 431.85,167.67 433.03,167.83 434.39,168.34 435.78,168.87 436.89,169.24 437.7,169.13 438.08,168.48 438.03,167.42 437.91,165.97 437.86,164.45 438,163.23 438.61,162.43 439.36,162.39 440.37,162.91 441.55,163.81 442.67,164.79 443.59,165.54 444.39,165.74 444.99,165.29 445.35,164.28 445.7,162.88 446.07,161.42 446.51,160.26 447.09,159.66 447.89,159.72 448.77,160.42 449.73,161.51 450.67,162.67 451.55,163.55 452.33,163.87 452.99,163.52 453.52,162.55 453.98,161.18 454.35,159.74 454.78,158.56" fill="none" stroke="#2a6c3c" stroke-width="0.9" stroke-linejoin="round"/>
<circle cx="395.5" cy="170.5" r="5.1" fill="#f28b8b" stroke="#913a44" stroke-width="1.1"/>
<circle cx="404.1" cy="170.5" r="5.1" fill="#f28b8b" stroke="#913a44" stroke-width="1.1"/>
<circle cx="395.5" cy="179.1" r="5.1" fill="#f28b8b" stroke="#913a44" stroke-width="1.1"/>
<circle cx="404.1" cy="179.1" r="5.1" fill="#f28b8b" stroke="#913a44" stroke-width="1.1"/>
<circle cx="433.9" cy="161.3" r="5.1" fill="#f28b8b" stroke="#913a44" stroke-width="1.1"/>
<circle cx="442.5" cy="161.3" r="5.1" fill="#f28b8b" stroke="#913a44" stroke-width="1.1"/>
<circle cx="433.9" cy="169.9" r="5.1" fill="#f28b8b" stroke="#913a44" stroke-width="1.1"/>
<circle cx="442.5" cy="169.9" r="5.1" fill="#f28b8b" stroke="#913a44" stroke-width="1.1"/>
<text x="521.5" y="35" font-size="16">(ii)</text>
<text x="554.4" y="30" font-size="14" fill="#2ea8dc">488-nm</text>
<text x="510" y="136" font-size="14" fill="#a3424b">640-nm</text>
<ellipse cx="596.2" cy="102.5" rx="23.1" ry="30.8" fill="#e8b4cc" stroke="#a3424b" stroke-width="1.5"/>
<ellipse cx="597" cy="102.5" rx="17.2" ry="28.1" fill="#c9def2" stroke="#2ea8dc" stroke-width="1.1"/>
<polyline points="544.43,35.4 546.47,38.69 548.48,41.98 550.47,45.27 552.43,48.56 554.35,51.85 556.23,55.14 558.07,58.43 559.85,61.72 561.57,65.01 563.22,68.3 564.78,71.59 566.26,74.88 567.62,78.17 568.85,81.46 569.94,84.75 570.86,88.04 571.61,91.33 572.15,94.62 572.49,97.91 572.6,101.2 572.49,104.49 572.15,107.78 571.61,111.07 570.86,114.36 569.94,117.65 568.85,120.94 567.62,124.23 566.26,127.52 564.78,130.81 563.22,134.1 561.57,137.39 559.85,140.68 558.07,143.97 556.23,147.26 554.35,150.55 552.43,153.84 550.47,157.13 548.48,160.42 546.47,163.71 544.43,167" fill="none" stroke="#a3424b" stroke-width="1.4" stroke-linejoin="round"/>
<polyline points="647.97,35.4 645.93,38.69 643.92,41.98 641.93,45.27 639.97,48.56 638.05,51.85 636.17,55.14 634.33,58.43 632.55,61.72 630.83,65.01 629.18,68.3 627.62,71.59 626.14,74.88 624.78,78.17 623.55,81.46 622.46,84.75 621.54,88.04 620.79,91.33 620.25,94.62 619.91,97.91 619.8,101.2 619.91,104.49 620.25,107.78 620.79,111.07 621.54,114.36 622.46,117.65 623.55,120.94 624.78,124.23 626.14,127.52 627.62,130.81 629.18,134.1 630.83,137.39 632.55,140.68 634.33,143.97 636.17,147.26 638.05,150.55 639.97,153.84 641.93,157.13 643.92,160.42 645.93,163.71 647.97,167" fill="none" stroke="#a3424b" stroke-width="1.4" stroke-linejoin="round"/>
<polyline points="551.73,35.4 553.62,38.69 555.48,41.98 557.33,45.27 559.16,48.56 560.96,51.85 562.74,55.14 564.48,58.43 566.18,61.72 567.84,65.01 569.44,68.3 570.97,71.59 572.43,74.88 573.8,78.17 575.05,81.46 576.18,84.75 577.14,88.04 577.93,91.33 578.52,94.62 578.88,97.91 579,101.2 578.88,104.49 578.52,107.78 577.93,111.07 577.14,114.36 576.18,117.65 575.05,120.94 573.8,124.23 572.43,127.52 570.97,130.81 569.44,134.1 567.84,137.39 566.18,140.68 564.48,143.97 562.74,147.26 560.96,150.55 559.16,153.84 557.33,157.13 555.48,160.42 553.62,163.71 551.73,167" fill="none" stroke="#2ea8dc" stroke-width="1.1" stroke-linejoin="round"/>
<polyline points="640.67,35.4 638.78,38.69 636.92,41.98 635.07,45.27 633.24,48.56 631.44,51.85 629.66,55.14 627.92,58.43 626.22,61.72 624.56,65.01 622.96,68.3 621.43,71.59 619.97,74.88 618.6,78.17 617.35,81.46 616.22,84.75 615.26,88.04 614.47,91.33 613.88,94.62 613.52,97.91 613.4,101.2 613.52,104.49 613.88,107.78 614.47,111.07 615.26,114.36 616.22,117.65 617.35,120.94 618.6,124.23 619.97,127.52 621.43,130.81 622.96,134.1 624.56,137.39 626.22,140.68 627.92,143.97 629.66,147.26 631.44,150.55 633.24,153.84 635.07,157.13 636.92,160.42 638.78,163.71 640.67,167" fill="none" stroke="#2ea8dc" stroke-width="1.1" stroke-linejoin="round"/>
<circle cx="596.2" cy="103.4" r="13.6" fill="#f3f8f3" stroke="#a3424b" stroke-width="0.8"/>
<polygon points="587,95 587.98,96.18 588.75,96.33 589.27,95.21 589.69,93.6 590.24,92.63 591.05,92.96 592.04,94.21 593,95.29 593.74,95.26 594.23,94.02 594.66,92.43 595.24,91.62 596.08,92.11 597.08,93.41 598.02,94.39 598.72,94.17 599.19,92.81 599.63,91.27 600.24,90.63 601.11,91.28 602.12,92.61 602.08,92.42 601.59,93.68 600.86,93.74 599.9,92.66 598.91,91.41 598.1,91.06 597.54,92.01 597.12,93.62 596.61,94.75 595.84,94.62 594.86,93.46 593.88,92.27 593.11,92.1 592.58,93.19 592.16,94.8 591.62,95.79 590.81,95.49 589.82,94.25 588.86,93.15 588.12,93.16 587.62,94.39 587.2,95.98" fill="#6cc07a" stroke="none"/>
<polyline points="587.2,95.98 587.62,94.39 588.12,93.16 588.86,93.15 589.82,94.25 590.81,95.49 591.62,95.79 592.16,94.8 592.58,93.19 593.11,92.1 593.88,92.27 594.86,93.46 595.84,94.62 596.61,94.75 597.12,93.62 597.54,92.01 598.1,91.06 598.91,91.41 599.9,92.66 600.86,93.74 601.59,93.68 602.08,92.42" fill="none" stroke="#3f9a55" stroke-width="0.63" stroke-linejoin="round"/>
<polyline points="587,95 587.98,96.18 588.75,96.33 589.27,95.21 589.69,93.6 590.24,92.63 591.05,92.96 592.04,94.21 593,95.29 593.74,95.26 594.23,94.02 594.66,92.43 595.24,91.62 596.08,92.11 597.08,93.41 598.02,94.39 598.72,94.17 599.19,92.81 599.63,91.27 600.24,90.63 601.11,91.28 602.12,92.61" fill="none" stroke="#2e7a40" stroke-width="0.7" stroke-linejoin="round"/>
<polygon points="589,101 589.91,102.2 590.67,102.42 591.23,101.41 591.7,99.84 592.26,98.81 593.01,99.01 593.92,100.19 594.83,101.4 595.59,101.64 596.16,100.65 596.63,99.09 597.19,98.04 597.94,98.21 598.84,99.39 599.76,100.61 600.52,100.87 601.09,99.9 601.56,98.34 602.11,97.27 602.86,97.42 603.76,98.58 604.68,99.81 605.45,100.1 606.02,99.15 606.49,97.58 607.04,96.5 607.78,96.62 608.27,99.68 607.46,99.14 606.53,97.83 605.65,96.81 604.95,96.94 604.42,98.19 603.94,99.72 603.34,100.46 602.54,99.94 601.61,98.63 600.72,97.6 600.02,97.7 599.49,98.94 599.01,100.48 598.41,101.23 597.61,100.74 596.69,99.44 595.8,98.39 595.09,98.47 594.56,99.69 594.09,101.23 593.49,102.01 592.69,101.53 591.77,100.24 590.88,99.18 590.16,99.24 589.63,100.45 589.16,101.99" fill="#6cc07a" stroke="none"/>
<polyline points="589.16,101.99 589.63,100.45 590.16,99.24 590.88,99.18 591.77,100.24 592.69,101.53 593.49,102.01 594.09,101.23 594.56,99.69 595.09,98.47 595.8,98.39 596.69,99.44 597.61,100.74 598.41,101.23 599.01,100.48 599.49,98.94 600.02,97.7 600.72,97.6 601.61,98.63 602.54,99.94 603.34,100.46 603.94,99.72 604.42,98.19 604.95,96.94 605.65,96.81 606.53,97.83 607.46,99.14 608.27,99.68" fill="none" stroke="#3f9a55" stroke-width="0.63" stroke-linejoin="round"/>
<polyline points="589,101 589.91,102.2 590.67,102.42 591.23,101.41 591.7,99.84 592.26,98.81 593.01,99.01 593.92,100.19 594.83,101.4 595.59,101.64 596.16,100.65 596.63,99.09 597.19,98.04 597.94,98.21 598.84,99.39 599.76,100.61 600.52,100.87 601.09,99.9 601.56,98.34 602.11,97.27 602.86,97.42 603.76,98.58 604.68,99.81 605.45,100.1 606.02,99.15 606.49,97.58 607.04,96.5 607.78,96.62" fill="none" stroke="#2e7a40" stroke-width="0.7" stroke-linejoin="round"/>
<polygon points="587,108 587.98,109.16 588.75,109.32 589.26,108.25 589.66,106.65 590.17,105.63 590.96,105.85 591.94,107.03 592.91,108.16 593.67,108.27 594.17,107.15 594.57,105.55 595.1,104.58 595.89,104.86 596.88,106.07 597.85,107.17 598.59,107.21 599.08,106.04 599.48,104.45 600.02,103.53 600.83,103.87 601.82,105.1 602.78,106.17 603.51,106.15 603.99,104.94 604.39,103.36 604.95,102.49 605.77,102.89 606.34,105.63 605.57,105.43 604.58,104.25 603.61,103.11 602.85,102.99 602.34,104.09 601.95,105.69 601.42,106.68 600.63,106.42 599.64,105.22 598.67,104.11 597.93,104.04 597.43,105.19 597.03,106.79 596.5,107.72 595.69,107.41 594.7,106.18 593.74,105.1 593,105.1 592.52,106.29 592.12,107.88 591.57,108.77 590.76,108.39 589.76,107.15 588.81,106.11 588.08,106.17 587.61,107.4 587.21,108.98" fill="#6cc07a" stroke="none"/>
<polyline points="587.21,108.98 587.61,107.4 588.08,106.17 588.81,106.11 589.76,107.15 590.76,108.39 591.57,108.77 592.12,107.88 592.52,106.29 593,105.1 593.74,105.1 594.7,106.18 595.69,107.41 596.5,107.72 597.03,106.79 597.43,105.19 597.93,104.04 598.67,104.11 599.64,105.22 600.63,106.42 601.42,106.68 601.95,105.69 602.34,104.09 602.85,102.99 603.61,103.11 604.58,104.25 605.57,105.43 606.34,105.63" fill="none" stroke="#3f9a55" stroke-width="0.63" stroke-linejoin="round"/>
<polyline points="587,108 587.98,109.16 588.75,109.32 589.26,108.25 589.66,106.65 590.17,105.63 590.96,105.85 591.94,107.03 592.91,108.16 593.67,108.27 594.17,107.15 594.57,105.55 595.1,104.58 595.89,104.86 596.88,106.07 597.85,107.17 598.59,107.21 599.08,106.04 599.48,104.45 600.02,103.53 600.83,103.87 601.82,105.1 602.78,106.17 603.51,106.15 603.99,104.94 604.39,103.36 604.95,102.49 605.77,102.89" fill="none" stroke="#2e7a40" stroke-width="0.7" stroke-linejoin="round"/>
<polygon points="590,112 590.89,113.21 591.64,113.45 592.21,112.47 592.7,110.92 593.27,109.88 594,110.03 594.88,111.19 595.78,112.44 596.54,112.77 597.12,111.86 597.62,110.32 598.17,109.21 598.9,109.27 599.77,110.39 600.67,111.66 601.44,112.08 602.04,111.25 602.53,109.72 603.08,108.55 603.79,108.52 604.24,111.67 603.42,110.97 602.52,109.64 601.67,108.71 600.99,108.96 600.47,110.28 599.96,111.75 599.34,112.38 598.54,111.76 597.63,110.44 596.78,109.45 596.09,109.61 595.55,110.87 595.05,112.37 594.44,113.08 593.65,112.55 592.75,111.24 591.89,110.2 591.18,110.26 590.64,111.47 590.14,112.99" fill="#6cc07a" stroke="none"/>
<polyline points="590.14,112.99 590.64,111.47 591.18,110.26 591.89,110.2 592.75,111.24 593.65,112.55 594.44,113.08 595.05,112.37 595.55,110.87 596.09,109.61 596.78,109.45 597.63,110.44 598.54,111.76 599.34,112.38 599.96,111.75 600.47,110.28 600.99,108.96 601.67,108.71 602.52,109.64 603.42,110.97 604.24,111.67" fill="none" stroke="#3f9a55" stroke-width="0.63" stroke-linejoin="round"/>
<polyline points="590,112 590.89,113.21 591.64,113.45 592.21,112.47 592.7,110.92 593.27,109.88 594,110.03 594.88,111.19 595.78,112.44 596.54,112.77 597.12,111.86 597.62,110.32 598.17,109.21 598.9,109.27 599.77,110.39 600.67,111.66 601.44,112.08 602.04,111.25 602.53,109.72 603.08,108.55 603.79,108.52" fill="none" stroke="#2e7a40" stroke-width="0.7" stroke-linejoin="round"/>
<polygon points="594,94 592.56,94.41 592.07,95.02 592.79,95.91 594.07,96.92 594.84,97.82 594.41,98.45 593,98.86 591.53,99.26 590.98,99.87 591.65,100.74 592.92,101.75 593.74,102.66 593.38,103.31 591.99,103.73 590.5,104.12 589.89,104.71 590.51,105.57 591.77,106.58 592.64,107.5 592.34,108.16 590.99,108.59 589.48,108.98 588.81,109.56 589.37,110.41 590.63,111.41 591.53,112.34 589.13,111.81 590.71,111.43 591.87,110.96 591.88,110.24 590.83,109.28 589.62,108.28 589.27,107.48 590.14,106.95 591.71,106.57 592.92,106.11 592.99,105.4 591.98,104.45 590.75,103.45 590.34,102.63 591.16,102.09 592.72,101.71 593.97,101.26 594.1,100.56 593.13,99.62 591.89,98.62 591.42,97.79 592.18,97.23 593.72,96.84 595.01,96.4 595.21,95.72 594.28,94.79 593.02,93.78" fill="#6cc07a" stroke="none"/>
<polyline points="593.02,93.78 594.28,94.79 595.21,95.72 595.01,96.4 593.72,96.84 592.18,97.23 591.42,97.79 591.89,98.62 593.13,99.62 594.1,100.56 593.97,101.26 592.72,101.71 591.16,102.09 590.34,102.63 590.75,103.45 591.98,104.45 592.99,105.4 592.92,106.11 591.71,106.57 590.14,106.95 589.27,107.48 589.62,108.28 590.83,109.28 591.88,110.24 591.87,110.96 590.71,111.43 589.13,111.81" fill="none" stroke="#3f9a55" stroke-width="0.63" stroke-linejoin="round"/>
<polyline points="594,94 592.56,94.41 592.07,95.02 592.79,95.91 594.07,96.92 594.84,97.82 594.41,98.45 593,98.86 591.53,99.26 590.98,99.87 591.65,100.74 592.92,101.75 593.74,102.66 593.38,103.31 591.99,103.73 590.5,104.12 589.89,104.71 590.51,105.57 591.77,106.58 592.64,107.5 592.34,108.16 590.99,108.59 589.48,108.98 588.81,109.56 589.37,110.41 590.63,111.41 591.53,112.34" fill="none" stroke="#2e7a40" stroke-width="0.7" stroke-linejoin="round"/>
<polygon points="600,96 599.05,97.2 599.06,97.98 600.24,98.27 601.9,98.34 602.97,98.67 602.85,99.51 601.85,100.73 600.96,101.9 601.1,102.63 602.38,102.87 604.03,102.95 604.99,103.33 604.74,104.23 603.7,105.46 602.89,106.6 603.16,107.27 604.53,107.48 606.15,107.57 606.99,108 606.62,108.94 605.55,110.19 605.48,110.22 604.23,109.97 604.13,109.22 605.03,108.05 606.02,106.83 606.11,106.01 605,105.69 603.34,105.62 602.19,105.32 602.22,104.52 603.19,103.32 604.12,102.13 604.07,101.36 602.87,101.08 601.21,101.01 600.16,100.66 600.32,99.81 601.34,98.58 602.2,97.42 602.02,96.71 600.72,96.48 599.08,96.39" fill="#6cc07a" stroke="none"/>
<polyline points="599.08,96.39 600.72,96.48 602.02,96.71 602.2,97.42 601.34,98.58 600.32,99.81 600.16,100.66 601.21,101.01 602.87,101.08 604.07,101.36 604.12,102.13 603.19,103.32 602.22,104.52 602.19,105.32 603.34,105.62 605,105.69 606.11,106.01 606.02,106.83 605.03,108.05 604.13,109.22 604.23,109.97 605.48,110.22" fill="none" stroke="#3f9a55" stroke-width="0.63" stroke-linejoin="round"/>
<polyline points="600,96 599.05,97.2 599.06,97.98 600.24,98.27 601.9,98.34 602.97,98.67 602.85,99.51 601.85,100.73 600.96,101.9 601.1,102.63 602.38,102.87 604.03,102.95 604.99,103.33 604.74,104.23 603.7,105.46 602.89,106.6 603.16,107.27 604.53,107.48 606.15,107.57 606.99,108 606.62,108.94 605.55,110.19" fill="none" stroke="#2e7a40" stroke-width="0.7" stroke-linejoin="round"/>
<polygon points="591,104 591.98,105.15 592.75,105.32 593.25,104.26 593.64,102.67 594.15,101.63 594.92,101.81 595.91,102.97 596.88,104.12 597.65,104.26 598.15,103.19 598.54,101.6 599.05,100.57 599.83,100.78 600.81,101.95 601.79,103.08 602.54,103.21 603.04,102.12 603.43,100.52 603.95,99.52 604.73,99.74 605.35,102.66 604.54,102.29 603.55,101.06 602.59,100.01 601.87,100.05 601.39,101.26 601,102.84 600.46,103.71 599.64,103.32 598.64,102.09 597.69,101.05 596.97,101.11 596.5,102.33 596.11,103.91 595.56,104.76 594.74,104.36 593.74,103.12 592.79,102.09 592.07,102.17 591.6,103.4 591.21,104.98" fill="#6cc07a" stroke="none"/>
<polyline points="591.21,104.98 591.6,103.4 592.07,102.17 592.79,102.09 593.74,103.12 594.74,104.36 595.56,104.76 596.11,103.91 596.5,102.33 596.97,101.11 597.69,101.05 598.64,102.09 599.64,103.32 600.46,103.71 601,102.84 601.39,101.26 601.87,100.05 602.59,100.01 603.55,101.06 604.54,102.29 605.35,102.66" fill="none" stroke="#3f9a55" stroke-width="0.63" stroke-linejoin="round"/>
<polyline points="591,104 591.98,105.15 592.75,105.32 593.25,104.26 593.64,102.67 594.15,101.63 594.92,101.81 595.91,102.97 596.88,104.12 597.65,104.26 598.15,103.19 598.54,101.6 599.05,100.57 599.83,100.78 600.81,101.95 601.79,103.08 602.54,103.21 603.04,102.12 603.43,100.52 603.95,99.52 604.73,99.74" fill="none" stroke="#2e7a40" stroke-width="0.7" stroke-linejoin="round"/>
<circle cx="588" cy="98" r="1.6" fill="#d9707a" stroke="none" stroke-width="1"/>
<circle cx="598" cy="101" r="1.6" fill="#d9707a" stroke="none" stroke-width="1"/>
<circle cx="591" cy="112" r="1.6" fill="#d9707a" stroke="none" stroke-width="1"/>
<circle cx="603" cy="106" r="1.6" fill="#d9707a" stroke="none" stroke-width="1"/>
<polygon points="601.5,54.4 602.76,55.06 603.53,54.96 603.68,53.9 603.53,52.37 603.62,51.21 604.32,50.99 605.54,51.6 606.83,52.3 607.68,52.31 607.89,51.35 607.75,49.84 607.79,48.6 608.4,48.26 609.58,48.79 610.9,49.53 611.81,49.65 612.1,48.8 611.97,47.31 611.96,45.99 612.5,45.54 613.63,45.99 614.95,46.75 615.94,46.98 616.29,46.24 616.19,44.78 616.14,43.4 616.6,42.83 617.68,43.2 619.01,43.96 620.06,44.29 620.49,43.66 618.93,41.26 618.64,42.1 618.76,43.58 618.78,44.91 618.25,45.38 617.13,44.94 615.8,44.18 614.81,43.93 614.44,44.66 614.54,46.11 614.6,47.49 614.15,48.09 613.08,47.73 611.75,46.97 610.69,46.62 610.25,47.23 610.32,48.63 610.41,50.07 610.03,50.78 609.03,50.52 607.7,49.76 606.59,49.33 606.07,49.82 606.09,51.15 606.21,52.64 605.91,53.46 604.97,53.3 603.66,52.56 602.49,52.05 601.89,52.42 601.87,53.68 602.01,55.19" fill="#a9d9aa" stroke="none"/>
<polyline points="602.01,55.19 601.87,53.68 601.89,52.42 602.49,52.05 603.66,52.56 604.97,53.3 605.91,53.46 606.21,52.64 606.09,51.15 606.07,49.82 606.59,49.33 607.7,49.76 609.03,50.52 610.03,50.78 610.41,50.07 610.32,48.63 610.25,47.23 610.69,46.62 611.75,46.97 613.08,47.73 614.15,48.09 614.6,47.49 614.54,46.11 614.44,44.66 614.81,43.93 615.8,44.18 617.13,44.94 618.25,45.38 618.78,44.91 618.76,43.58 618.64,42.1 618.93,41.26" fill="none" stroke="#5aa86c" stroke-width="0.63" stroke-linejoin="round"/>
<polyline points="601.5,54.4 602.76,55.06 603.53,54.96 603.68,53.9 603.53,52.37 603.62,51.21 604.32,50.99 605.54,51.6 606.83,52.3 607.68,52.31 607.89,51.35 607.75,49.84 607.79,48.6 608.4,48.26 609.58,48.79 610.9,49.53 611.81,49.65 612.1,48.8 611.97,47.31 611.96,45.99 612.5,45.54 613.63,45.99 614.95,46.75 615.94,46.98 616.29,46.24 616.19,44.78 616.14,43.4 616.6,42.83 617.68,43.2 619.01,43.96 620.06,44.29 620.49,43.66" fill="none" stroke="#2a6c3c" stroke-width="0.7" stroke-linejoin="round"/>
<circle cx="607.8" cy="44.3" r="2.4" fill="#f28b8b" stroke="#913a44" stroke-width="0.7"/>
<circle cx="611.8" cy="44.3" r="2.4" fill="#f28b8b" stroke="#913a44" stroke-width="0.7"/>
<circle cx="607.8" cy="48.3" r="2.4" fill="#f28b8b" stroke="#913a44" stroke-width="0.7"/>
<circle cx="611.8" cy="48.3" r="2.4" fill="#f28b8b" stroke="#913a44" stroke-width="0.7"/>
<circle cx="578" cy="140.6" r="2.2" fill="#f28b8b" stroke="#913a44" stroke-width="0.7"/>
<circle cx="581.6" cy="140.6" r="2.2" fill="#f28b8b" stroke="#913a44" stroke-width="0.7"/>
<circle cx="578" cy="144.2" r="2.2" fill="#f28b8b" stroke="#913a44" stroke-width="0.7"/>
<circle cx="581.6" cy="144.2" r="2.2" fill="#f28b8b" stroke="#913a44" stroke-width="0.7"/>
<polygon points="597,161.5 598.42,162.16 599.2,162.01 599.17,160.82 598.77,159.16 598.71,157.94 599.46,157.73 600.86,158.37 602.3,159.06 603.12,158.95 603.12,157.8 602.72,156.14 602.63,154.88 603.34,154.63 604.73,155.25 606.18,155.95 607.03,155.88 607.06,154.77 606.67,153.12 606.55,151.83 607.22,151.53 608.59,152.12 610.06,152.84 610.94,152.82 611.01,151.75 610.61,150.1 610.47,148.77 611.1,148.43 612.45,149 613.93,149.73 614.85,149.75 614.95,148.72 613.24,146.56 612.81,147.15 613.06,148.62 613.41,150.22 613.17,151.06 612.11,150.86 610.6,150.09 609.35,149.65 608.88,150.19 609.11,151.64 609.47,153.25 609.27,154.14 608.24,153.98 606.74,153.21 605.46,152.74 604.95,153.23 605.17,154.66 605.53,156.28 605.37,157.21 604.37,157.09 602.87,156.34 601.57,155.83 601.02,156.28 601.22,157.67 601.59,159.3 601.46,160.28 600.5,160.21 599.01,159.46 597.69,158.93 597.1,159.33 597.27,160.69 597.65,162.33" fill="#a9d9aa" stroke="none"/>
<polyline points="597.65,162.33 597.27,160.69 597.1,159.33 597.69,158.93 599.01,159.46 600.5,160.21 601.46,160.28 601.59,159.3 601.22,157.67 601.02,156.28 601.57,155.83 602.87,156.34 604.37,157.09 605.37,157.21 605.53,156.28 605.17,154.66 604.95,153.23 605.46,152.74 606.74,153.21 608.24,153.98 609.27,154.14 609.47,153.25 609.11,151.64 608.88,150.19 609.35,149.65 610.6,150.09 612.11,150.86 613.17,151.06 613.41,150.22 613.06,148.62 612.81,147.15 613.24,146.56" fill="none" stroke="#5aa86c" stroke-width="0.63" stroke-linejoin="round"/>
<polyline points="597,161.5 598.42,162.16 599.2,162.01 599.17,160.82 598.77,159.16 598.71,157.94 599.46,157.73 600.86,158.37 602.3,159.06 603.12,158.95 603.12,157.8 602.72,156.14 602.63,154.88 603.34,154.63 604.73,155.25 606.18,155.95 607.03,155.88 607.06,154.77 606.67,153.12 606.55,151.83 607.22,151.53 608.59,152.12 610.06,152.84 610.94,152.82 611.01,151.75 610.61,150.1 610.47,148.77 611.1,148.43 612.45,149 613.93,149.73 614.85,149.75 614.95,148.72" fill="none" stroke="#2a6c3c" stroke-width="0.7" stroke-linejoin="round"/>
<text x="598" y="182.4" font-size="14" text-anchor="middle">Dual color</text>
<text x="598" y="198.7" font-size="14" text-anchor="middle">cross-correlation</text>
<text x="699.5" y="35.5" font-size="16">(iii)</text>
<line x1="729.2" y1="182" x2="729.2" y2="27" stroke="#444" stroke-width="1.1"/>
<polygon points="729.2,21 732.4,28 726,28" fill="#111"/>
<line x1="711.2" y1="167.2" x2="883" y2="167.2" stroke="#444" stroke-width="1.1"/>
<polygon points="889,167.2 882,170.4 882,164" fill="#111"/>
<path d="M730.2 53.6 C735.15 53.92 750.72 53.85 759.9 55.5 C769.08 57.15 778.25 59.35 785.3 63.5 C792.35 67.65 797.8 72.98 802.2 80.4 C806.6 87.82 808.53 99.53 811.7 108 C814.87 116.47 817.48 124.5 821.2 131.2 C824.92 137.9 829.05 143.6 834 148.2 C838.95 152.8 843.15 156.5 850.9 158.8 C858.65 161.1 875.57 161.47 880.5 162" fill="none" stroke="#a3424b" stroke-width="1.3"/>
<path d="M730.2 53.6 C732.67 53.92 740.05 53.5 745 55.5 C749.95 57.5 756.02 60.73 759.9 65.6 C763.78 70.47 766.02 76.93 768.3 84.7 C770.58 92.47 771.48 103.38 773.6 112.2 C775.72 121.02 778 131.6 781 137.6 C784 143.6 787.02 145.2 791.6 148.2 C796.18 151.2 800.73 153.48 808.5 155.6 C816.27 157.72 826.2 159.83 838.2 160.9 C850.2 161.97 873.45 161.82 880.5 162" fill="none" stroke="#111" stroke-width="1.1"/>
<line x1="780" y1="112.6" x2="803" y2="112.6" stroke="#111" stroke-width="1.2"/>
<polygon points="808,112.6 801.5,115.6 801.5,109.6" fill="#111"/>
<text x="822.3" y="98.9" font-size="14">DPIC size</text>
<line x1="893.2" y1="101.5" x2="893.2" y2="92" stroke="#222" stroke-width="1.1"/>
<polygon points="893.2,89.5 895.5,94 890.9,94" fill="#222"/>
<text x="721.5" y="97.4" font-size="14" text-anchor="middle" transform="rotate(-90 721.5 97.4)"><tspan font-style="italic">G</tspan>(<tspan font-style="italic">t</tspan>)</text>
<text x="808.5" y="186" font-size="14" text-anchor="middle">t (s)</text>
<text x="41" y="253.2" font-size="20" font-weight="bold">B</text>
<text x="68.3" y="282" font-size="16">(i)</text>
<line x1="90.6" y1="287" x2="90.6" y2="471.7" stroke="#231f20" stroke-width="1.6"/>
<line x1="90.6" y1="463.7" x2="93.9" y2="463.7" stroke="#231f20" stroke-width="1.3"/>
<text x="87.6" y="468" font-size="12.2" text-anchor="end">0.0</text>
<line x1="90.6" y1="435.52" x2="93.9" y2="435.52" stroke="#231f20" stroke-width="1.3"/>
<text x="87.6" y="439.82" font-size="12.2" text-anchor="end">0.2</text>
<line x1="90.6" y1="407.34" x2="93.9" y2="407.34" stroke="#231f20" stroke-width="1.3"/>
<text x="87.6" y="411.64" font-size="12.2" text-anchor="end">0.4</text>
<line x1="90.6" y1="379.16" x2="93.9" y2="379.16" stroke="#231f20" stroke-width="1.3"/>
<text x="87.6" y="383.46" font-size="12.2" text-anchor="end">0.6</text>
<line x1="90.6" y1="350.98" x2="93.9" y2="350.98" stroke="#231f20" stroke-width="1.3"/>
<text x="87.6" y="355.28" font-size="12.2" text-anchor="end">0.8</text>
<line x1="90.6" y1="322.8" x2="93.9" y2="322.8" stroke="#231f20" stroke-width="1.3"/>
<text x="87.6" y="327.1" font-size="12.2" text-anchor="end">1.0</text>
<line x1="90.6" y1="294.62" x2="93.9" y2="294.62" stroke="#231f20" stroke-width="1.3"/>
<text x="87.6" y="298.92" font-size="12.2" text-anchor="end">1.2</text>
<line x1="90.6" y1="449.61" x2="92.6" y2="449.61" stroke="#231f20" stroke-width="1"/>
<line x1="90.6" y1="421.43" x2="92.6" y2="421.43" stroke="#231f20" stroke-width="1"/>
<line x1="90.6" y1="393.25" x2="92.6" y2="393.25" stroke="#231f20" stroke-width="1"/>
<line x1="90.6" y1="365.07" x2="92.6" y2="365.07" stroke="#231f20" stroke-width="1"/>
<line x1="90.6" y1="336.89" x2="92.6" y2="336.89" stroke="#231f20" stroke-width="1"/>
<line x1="90.6" y1="308.71" x2="92.6" y2="308.71" stroke="#231f20" stroke-width="1"/>
<line x1="89.8" y1="471" x2="319.5" y2="471" stroke="#231f20" stroke-width="1.6"/>
<line x1="90.6" y1="471" x2="90.6" y2="467.2" stroke="#231f20" stroke-width="1.2"/>
<line x1="102.08" y1="471" x2="102.08" y2="468.8" stroke="#231f20" stroke-width="0.9"/>
<line x1="108.8" y1="471" x2="108.8" y2="468.8" stroke="#231f20" stroke-width="0.9"/>
<line x1="113.57" y1="471" x2="113.57" y2="468.8" stroke="#231f20" stroke-width="0.9"/>
<line x1="117.27" y1="471" x2="117.27" y2="468.8" stroke="#231f20" stroke-width="0.9"/>
<line x1="120.29" y1="471" x2="120.29" y2="468.8" stroke="#231f20" stroke-width="0.9"/>
<line x1="122.84" y1="471" x2="122.84" y2="468.8" stroke="#231f20" stroke-width="0.9"/>
<line x1="125.05" y1="471" x2="125.05" y2="468.8" stroke="#231f20" stroke-width="0.9"/>
<line x1="127" y1="471" x2="127" y2="468.8" stroke="#231f20" stroke-width="0.9"/>
<line x1="128.75" y1="471" x2="128.75" y2="467.2" stroke="#231f20" stroke-width="1.2"/>
<line x1="140.23" y1="471" x2="140.23" y2="468.8" stroke="#231f20" stroke-width="0.9"/>
<line x1="146.95" y1="471" x2="146.95" y2="468.8" stroke="#231f20" stroke-width="0.9"/>
<line x1="151.72" y1="471" x2="151.72" y2="468.8" stroke="#231f20" stroke-width="0.9"/>
<line x1="155.42" y1="471" x2="155.42" y2="468.8" stroke="#231f20" stroke-width="0.9"/>
<line x1="158.44" y1="471" x2="158.44" y2="468.8" stroke="#231f20" stroke-width="0.9"/>
<line x1="160.99" y1="471" x2="160.99" y2="468.8" stroke="#231f20" stroke-width="0.9"/>
<line x1="163.2" y1="471" x2="163.2" y2="468.8" stroke="#231f20" stroke-width="0.9"/>
<line x1="165.15" y1="471" x2="165.15" y2="468.8" stroke="#231f20" stroke-width="0.9"/>
<line x1="166.9" y1="471" x2="166.9" y2="467.2" stroke="#231f20" stroke-width="1.2"/>
<line x1="178.38" y1="471" x2="178.38" y2="468.8" stroke="#231f20" stroke-width="0.9"/>
<line x1="185.1" y1="471" x2="185.1" y2="468.8" stroke="#231f20" stroke-width="0.9"/>
<line x1="189.87" y1="471" x2="189.87" y2="468.8" stroke="#231f20" stroke-width="0.9"/>
<line x1="193.57" y1="471" x2="193.57" y2="468.8" stroke="#231f20" stroke-width="0.9"/>
<line x1="196.59" y1="471" x2="196.59" y2="468.8" stroke="#231f20" stroke-width="0.9"/>
<line x1="199.14" y1="471" x2="199.14" y2="468.8" stroke="#231f20" stroke-width="0.9"/>
<line x1="201.35" y1="471" x2="201.35" y2="468.8" stroke="#231f20" stroke-width="0.9"/>
<line x1="203.3" y1="471" x2="203.3" y2="468.8" stroke="#231f20" stroke-width="0.9"/>
<line x1="205.05" y1="471" x2="205.05" y2="467.2" stroke="#231f20" stroke-width="1.2"/>
<line x1="216.53" y1="471" x2="216.53" y2="468.8" stroke="#231f20" stroke-width="0.9"/>
<line x1="223.25" y1="471" x2="223.25" y2="468.8" stroke="#231f20" stroke-width="0.9"/>
<line x1="228.02" y1="471" x2="228.02" y2="468.8" stroke="#231f20" stroke-width="0.9"/>
<line x1="231.72" y1="471" x2="231.72" y2="468.8" stroke="#231f20" stroke-width="0.9"/>
<line x1="234.74" y1="471" x2="234.74" y2="468.8" stroke="#231f20" stroke-width="0.9"/>
<line x1="237.29" y1="471" x2="237.29" y2="468.8" stroke="#231f20" stroke-width="0.9"/>
<line x1="239.5" y1="471" x2="239.5" y2="468.8" stroke="#231f20" stroke-width="0.9"/>
<line x1="241.45" y1="471" x2="241.45" y2="468.8" stroke="#231f20" stroke-width="0.9"/>
<line x1="243.2" y1="471" x2="243.2" y2="467.2" stroke="#231f20" stroke-width="1.2"/>
<line x1="254.68" y1="471" x2="254.68" y2="468.8" stroke="#231f20" stroke-width="0.9"/>
<line x1="261.4" y1="471" x2="261.4" y2="468.8" stroke="#231f20" stroke-width="0.9"/>
<line x1="266.17" y1="471" x2="266.17" y2="468.8" stroke="#231f20" stroke-width="0.9"/>
<line x1="269.87" y1="471" x2="269.87" y2="468.8" stroke="#231f20" stroke-width="0.9"/>
<line x1="272.89" y1="471" x2="272.89" y2="468.8" stroke="#231f20" stroke-width="0.9"/>
<line x1="275.44" y1="471" x2="275.44" y2="468.8" stroke="#231f20" stroke-width="0.9"/>
<line x1="277.65" y1="471" x2="277.65" y2="468.8" stroke="#231f20" stroke-width="0.9"/>
<line x1="279.6" y1="471" x2="279.6" y2="468.8" stroke="#231f20" stroke-width="0.9"/>
<line x1="281.35" y1="471" x2="281.35" y2="467.2" stroke="#231f20" stroke-width="1.2"/>
<line x1="292.83" y1="471" x2="292.83" y2="468.8" stroke="#231f20" stroke-width="0.9"/>
<line x1="299.55" y1="471" x2="299.55" y2="468.8" stroke="#231f20" stroke-width="0.9"/>
<line x1="304.32" y1="471" x2="304.32" y2="468.8" stroke="#231f20" stroke-width="0.9"/>
<line x1="308.02" y1="471" x2="308.02" y2="468.8" stroke="#231f20" stroke-width="0.9"/>
<line x1="311.04" y1="471" x2="311.04" y2="468.8" stroke="#231f20" stroke-width="0.9"/>
<line x1="313.59" y1="471" x2="313.59" y2="468.8" stroke="#231f20" stroke-width="0.9"/>
<line x1="315.8" y1="471" x2="315.8" y2="468.8" stroke="#231f20" stroke-width="0.9"/>
<line x1="317.75" y1="471" x2="317.75" y2="468.8" stroke="#231f20" stroke-width="0.9"/>
<line x1="319.5" y1="471" x2="319.5" y2="467.2" stroke="#231f20" stroke-width="1.2"/>
<text x="90.9" y="484.8" font-size="12.2" text-anchor="middle">10<tspan font-size="6.6" dy="-4.6">-5</tspan></text>
<text x="123.53" y="484.8" font-size="12.2" text-anchor="middle">10<tspan font-size="6.6" dy="-4.6">-4</tspan></text>
<text x="156.16" y="484.8" font-size="12.2" text-anchor="middle">10<tspan font-size="6.6" dy="-4.6">-3</tspan></text>
<text x="188.79" y="484.8" font-size="12.2" text-anchor="middle">10<tspan font-size="6.6" dy="-4.6">-2</tspan></text>
<text x="221.42" y="484.8" font-size="12.2" text-anchor="middle">10<tspan font-size="6.6" dy="-4.6">-1</tspan></text>
<text x="254.05" y="484.8" font-size="12.2" text-anchor="middle">10<tspan font-size="6.6" dy="-4.6">0</tspan></text>
<text x="286.68" y="484.8" font-size="12.2" text-anchor="middle">10<tspan font-size="6.6" dy="-4.6">1</tspan></text>
<text x="319.31" y="484.8" font-size="12.2" text-anchor="middle">10<tspan font-size="6.6" dy="-4.6">2</tspan></text>
<text x="203.41" y="500.9" font-size="14" text-anchor="middle">Time (s)</text>
<text x="64" y="382.5" font-size="14" text-anchor="middle" transform="rotate(-90 64 382.5)">Normalized <tspan font-style="italic">G</tspan>(<tspan font-style="italic">t</tspan>)</text>
<g clip-path="url(#clipB1)">
<polyline points="90.6,322.8 94.19,320.14 97.78,315.79 101.37,326.42 104.96,332.16 108.55,323.26 112.14,319.43 115.73,315.06 119.31,332.77 122.9,335.25 126.49,322.12 127.02,324.36 127.54,315.68 128.06,320.62 128.58,330.07 129.1,331.81 129.63,308.04 130.15,332.65 130.67,337.33 131.19,340.8 131.71,330.85 132.24,330.91 132.76,335.54 133.28,333.63 133.8,331.28 134.32,328.22 134.85,325.28 135.37,333.26 135.89,350.65 136.41,330.07 136.93,348.49 137.46,338.42 137.98,349.91 138.5,337.92 139.02,345 139.55,337.09 140.07,311.49 140.59,340.28 141.11,333.23 141.63,352.02 142.16,343.75 142.68,336.2 143.2,343.07 143.72,339.64 144.24,342.38 144.77,352.24 145.29,339.45 145.81,351.56 146.33,329.36 146.85,349.94 147.38,340.35 147.9,346.61 148.42,338.94 148.94,352.39 149.46,339.17 149.99,348.97 150.51,337.56 151.03,343.28 151.55,347.67 152.07,355.78 152.6,343 153.12,345.85 153.64,336.24 154.16,353.62 154.69,346.06 155.21,346.76 155.73,348.98 156.25,349.92 156.77,350.46 157.3,357.37 157.82,361.2 158.34,356.29 158.86,348.26 159.38,340.79 159.91,345.75 160.43,345.94 160.95,349.11 161.47,350.61 161.99,355.81 162.52,351.67 163.04,344.04 163.56,362.64 164.08,366.57 164.6,344.97 165.13,360.31 165.65,355.01 166.17,356.67 166.69,374.49 167.22,345.16 167.74,351.55 168.26,365.91 168.78,361.88 169.3,368.01 169.83,377.39 170.35,371.7 170.87,368.43 171.39,362.96 171.91,367.16 172.44,373.4 172.96,363.21 173.48,381.84 174,369.46 174.52,367.52 175.05,380.14 175.57,393.56 176.09,386.84 176.61,377.93 177.13,376.23 177.66,368.35 178.18,390.68 178.7,382.94 179.29,380.51 179.88,385.44 180.46,397.51 181.05,382.25 181.64,375.46 182.23,382.94 182.81,393.52 183.4,391.77 183.99,389.37 184.57,378.68 185.16,388.98 185.75,392.34 186.34,385.83 186.92,394.96 187.51,385.91 188.1,399.64 188.69,399.38 189.27,394.13 189.86,391.37 190.45,396.09 191.04,398.68 191.62,410.26 192.21,405.45 192.8,405.74 193.38,406.16 193.97,401.29 194.56,406.82 195.15,402.08 195.73,406.62 196.32,409.68 196.91,408.35 197.5,407.73 198.08,406.51 198.67,414.24 199.26,413.96 199.85,420.65 200.43,406.55 201.02,408.28 201.61,417.51 202.19,419.98 202.78,424.78 203.37,418.61 203.96,419.38 204.54,410.32 205.13,421.09 205.72,427.24 206.31,436.42 206.89,417.56 207.48,424.44 208.07,434.25 208.66,425.86 209.24,435.63 209.83,410.5 210.42,423.17 211,426.64 211.59,431.12 212.18,441.77 212.77,432.25 213.35,440.19 213.94,429.97 214.53,444.53 215.12,438.98 215.7,428.88 216.29,427.41 216.88,442.44 217.47,444.91 218.05,433.18 218.64,433.79 219.23,443.6 219.81,442.59 220.4,443.07 220.99,446.06 221.58,443.38 222.23,435.75 222.88,438.65 223.53,433.41 224.19,443 224.84,443.73 225.49,447.85 226.15,444.75 226.8,450.31 227.45,452.8 228.1,442.87 228.76,440.26 229.41,443.15 230.06,441.3 230.71,446.12 231.37,450.47 232.02,447.32 232.67,449.52 233.32,452.89 233.98,455.59 234.63,454.96 235.28,448.96 235.93,448.55 236.59,451.45 237.24,443.65 237.89,449.19 238.54,447.73 239.2,445.29 239.85,454.16 240.5,459.27 241.15,448.12 241.81,454.61 242.46,446.56 243.11,451.08 243.77,448.66 244.42,450.09 245.07,462.51 245.72,451.08 246.38,457.37 247.03,458.12 247.68,457.17 248.33,452.48 248.99,452.39 249.64,452.26 250.29,463.95 250.94,459.84 251.6,467.78 252.25,458.52 252.9,455.65 253.55,461.52 254.21,457.36 254.86,457.52 255.51,454.34 256.16,462.17 256.82,462.31 257.47,462.13 258.12,451.6 258.78,454.5 259.43,459.73 260.08,458.36 260.73,458.93 261.39,458.66 262.04,460.5 262.69,461.14 263.34,465.14 264,462.64 264.65,453.06 265.3,457.87 265.95,459.96 266.61,461.25 267.26,460.18 267.91,459.05 268.56,463.38 269.22,459.92 269.87,459.84 270.52,464.06 271.17,464.25 271.83,465.16 272.48,465.45 273.13,457.21 273.78,470.97 274.44,462.14 275.09,463.61 275.74,463.67 276.4,460.65 277.05,456.32 277.7,460.78 278.35,461.71 279.01,463.73 279.66,461.7 280.31,457.32 280.96,462.86 281.62,466.06 282.27,466.58 282.92,465.93 283.57,467.15 284.23,456.64 284.88,459.81 285.53,462.33 286.18,455.18 286.84,464.15 287.49,458.2 288.14,458.02 288.79,467.96 289.45,468.02 290.1,465.38 290.75,457.64 291.41,456.02 292.06,466.7 292.71,457.1 293.36,463.17 294.02,463.23 294.67,463.92 295.32,462.98 295.97,469.31 296.63,465.88 297.28,466.89 297.93,459.61 298.58,452.87 299.24,450.17 299.89,463.16 300.54,469.04 301.19,463.5 301.85,465.77 302.5,453.43 303.15,459.42 303.8,464.93 304.46,457.92 305.11,459.63 305.76,468.78 306.41,464.18 307.07,462.96 307.72,461.89 308.37,461.43 309.03,463.44 309.68,461.22 310.33,464.52 310.98,465.85 311.64,455.67 312.29,460.57 312.94,460.26 313.59,468.88 314.25,462.86 314.9,458.71 315.55,467.65 316.2,457.57 316.86,463.88 317.51,460.55 318.16,462.83 318.81,461.36" fill="none" stroke="#9b9ba6" stroke-width="1" stroke-linejoin="round"/>
<polyline points="90.6,322.8 94.19,320.83 97.78,325.15 101.37,326.86 104.96,314.63 108.55,322.24 112.14,325.12 115.73,307.56 119.31,328.39 122.9,336.82 126.49,341.64 127.02,333.55 127.54,297.42 128.06,310.66 128.58,332.66 129.1,337.74 129.63,326.31 130.15,329.77 130.67,306.14 131.19,315.32 131.71,336.21 132.24,329.48 132.76,313.65 133.28,319.79 133.8,341.61 134.32,327.71 134.85,336 135.37,332.98 135.89,320.65 136.41,337.65 136.93,341.36 137.46,350.11 137.98,344.53 138.5,328.33 139.02,319.65 139.55,334.92 140.07,336.78 140.59,328.78 141.11,329.51 141.63,332.43 142.16,332.64 142.68,338.98 143.2,330.89 143.72,338.18 144.24,366.76 144.77,338.88 145.29,331.93 145.81,324 146.33,331.87 146.85,366.09 147.38,339.77 147.9,339.08 148.42,310.2 148.94,336.5 149.46,341.87 149.99,364.63 150.51,357.9 151.03,349.06 151.55,327.71 152.07,354.65 152.6,342.52 153.12,354.09 153.64,353.84 154.16,363.55 154.69,349.8 155.21,334.7 155.73,342.18 156.25,357.02 156.77,338.06 157.3,352.53 157.82,335.01 158.34,355.47 158.86,337.7 159.38,362.3 159.91,363.5 160.43,323.14 160.95,339.76 161.47,365.13 161.99,372.93 162.52,360.57 163.04,362.77 163.56,351.66 164.08,372.59 164.6,363.69 165.13,363.99 165.65,371.21 166.17,369.34 166.69,350.06 167.22,370.14 167.74,351.1 168.26,342.04 168.78,370.59 169.3,361.39 169.83,355.29 170.35,373.29 170.87,364.07 171.39,382.06 171.91,350.82 172.44,363.18 172.96,372.8 173.48,375.23 174,368.26 174.52,381.85 175.05,373.4 175.57,366.87 176.09,383.45 176.61,380.41 177.13,384.84 177.66,393.17 178.18,377.82 178.7,379.07 179.29,386.13 179.88,394.49 180.46,381.17 181.05,382.84 181.64,389.48 182.23,396.36 182.81,389.83 183.4,395.28 183.99,383.67 184.57,398.11 185.16,404.26 185.75,399.95 186.34,395.29 186.92,398.79 187.51,386.18 188.1,397.81 188.69,389.3 189.27,399.63 189.86,393.29 190.45,395.21 191.04,395.61 191.62,403.95 192.21,401.66 192.8,391 193.38,399.01 193.97,405.94 194.56,390.18 195.15,409.45 195.73,409.04 196.32,397.76 196.91,416.57 197.5,409.82 198.08,406.68 198.67,417.61 199.26,420.18 199.85,420.37 200.43,419.81 201.02,421.23 201.61,410.9 202.19,416.65 202.78,411.08 203.37,422.3 203.96,415.02 204.54,428.64 205.13,414.6 205.72,419.95 206.31,419.1 206.89,423.76 207.48,408.24 208.07,426.61 208.66,425.65 209.24,419.91 209.83,437.09 210.42,425.03 211,433.16 211.59,429.31 212.18,434.54 212.77,422.49 213.35,421.89 213.94,429.55 214.53,435.81 215.12,432 215.7,434.56 216.29,434.69 216.88,434.14 217.47,434.04 218.05,433.12 218.64,437.76 219.23,442.03 219.81,436.27 220.4,434.63 220.99,443.09 221.58,430.01 222.23,441.42 222.88,441.58 223.53,443.12 224.19,446.83 224.84,447.48 225.49,440.36 226.15,447.95 226.8,450.56 227.45,450.88 228.1,444.64 228.76,451.79 229.41,443.85 230.06,449.43 230.71,442.49 231.37,453.8 232.02,447.09 232.67,448.53 233.32,435.74 233.98,456.72 234.63,446.77 235.28,452.05 235.93,459.27 236.59,450.17 237.24,453.02 237.89,454.13 238.54,445.02 239.2,448.8 239.85,458.71 240.5,448.32 241.15,448.61 241.81,448.68 242.46,449.4 243.11,450.5 243.77,451.28 244.42,451.9 245.07,449.89 245.72,455.41 246.38,459.38 247.03,441.27 247.68,456.6 248.33,454.57 248.99,466.78 249.64,451.63 250.29,454.91 250.94,450.92 251.6,458.84 252.25,454.44 252.9,448.79 253.55,462.35 254.21,454.13 254.86,458.56 255.51,453.83 256.16,451.54 256.82,453.88 257.47,443.63 258.12,461.84 258.78,456.6 259.43,469.23 260.08,460.59 260.73,454.85 261.39,452.19 262.04,461.3 262.69,458.7 263.34,459.1 264,457.76 264.65,453.01 265.3,459.82 265.95,467.98 266.61,458.72 267.26,463.52 267.91,466.36 268.56,452.59 269.22,453.67 269.87,459.81 270.52,457.14 271.17,453.01 271.83,464.08 272.48,460.59 273.13,458.97 273.78,454.75 274.44,461.55 275.09,461.28 275.74,471.4 276.4,462.75 277.05,459.79 277.7,463.45 278.35,461.71 279.01,458.61 279.66,460.32 280.31,466.72 280.96,456.89 281.62,454.31 282.27,465.16 282.92,463.51 283.57,462.93 284.23,456.94 284.88,470.37 285.53,446.39 286.18,462.76 286.84,454.86 287.49,462.92 288.14,459.24 288.79,462.71 289.45,458.06 290.1,462.12 290.75,455.83 291.41,466.92 292.06,450.69 292.71,461.41 293.36,455.9 294.02,462.89 294.67,464.33 295.32,467.29 295.97,460.92 296.63,453.65 297.28,456.97 297.93,457.26 298.58,458.07 299.24,454.85 299.89,474.19 300.54,461.75 301.19,463.05 301.85,464.11 302.5,458.89 303.15,458.48 303.8,463.46 304.46,458.13 305.11,453.85 305.76,464.79 306.41,465.52 307.07,472.9 307.72,458.9 308.37,471.78 309.03,457.6 309.68,464.9 310.33,457.16 310.98,465.61 311.64,454.63 312.29,460.65 312.94,464.35 313.59,468.56 314.25,462.04 314.9,468.03 315.55,460.85 316.2,466.62 316.86,466.03 317.51,463.43 318.16,457.53 318.81,450.63" fill="none" stroke="#8cc63f" stroke-width="1.1" stroke-linejoin="round"/>
<polyline points="90.6,322.8 94.19,307.83 97.78,330.52 101.37,340.37 104.96,319.99 108.55,316.23 112.14,318.56 115.73,317.18 119.31,324.73 122.9,331.33 126.49,334.32 127.02,329.61 127.54,331.34 128.06,319.58 128.58,322.65 129.1,340.18 129.63,322.45 130.15,329.37 130.67,319.09 131.19,315.79 131.71,324.75 132.24,346.52 132.76,324.36 133.28,345.04 133.8,316.42 134.32,337.23 134.85,333.15 135.37,314.84 135.89,348.23 136.41,331.91 136.93,342.37 137.46,337.51 137.98,340.35 138.5,326.91 139.02,336.27 139.55,330.54 140.07,328.07 140.59,350.12 141.11,321.56 141.63,337.06 142.16,350.4 142.68,341.41 143.2,327.47 143.72,326.53 144.24,342.46 144.77,335.38 145.29,334.36 145.81,327.24 146.33,338.36 146.85,328.26 147.38,345.92 147.9,344.6 148.42,331.99 148.94,331.76 149.46,339.25 149.99,333.49 150.51,337.5 151.03,332.58 151.55,329.21 152.07,335.52 152.6,333.02 153.12,344.67 153.64,346.51 154.16,363.57 154.69,338.12 155.21,341.95 155.73,337.59 156.25,360.34 156.77,347.72 157.3,348.7 157.82,360.66 158.34,335.65 158.86,333.03 159.38,356.64 159.91,341.04 160.43,329.92 160.95,358.2 161.47,338.47 161.99,333.7 162.52,331.93 163.04,362.96 163.56,361 164.08,349.93 164.6,341.47 165.13,365.33 165.65,361.43 166.17,365.68 166.69,345.72 167.22,362.14 167.74,352.38 168.26,352.54 168.78,348.55 169.3,356.34 169.83,357.92 170.35,351.07 170.87,358.31 171.39,375.41 171.91,369.36 172.44,356.59 172.96,364.53 173.48,369.89 174,365.05 174.52,337 175.05,369.32 175.57,365.07 176.09,366.07 176.61,373.65 177.13,360.67 177.66,364.57 178.18,369.62 178.7,382.17 179.29,368.3 179.88,371.94 180.46,377.56 181.05,393.12 181.64,379.12 182.23,386.48 182.81,381.77 183.4,384.16 183.99,386.77 184.57,377.2 185.16,383.08 185.75,377.56 186.34,390.78 186.92,387.23 187.51,379.27 188.1,385.93 188.69,392.68 189.27,394.42 189.86,393.55 190.45,391.49 191.04,387.94 191.62,391.81 192.21,389.19 192.8,389.52 193.38,394.39 193.97,388.6 194.56,392.57 195.15,398.73 195.73,399.58 196.32,399.71 196.91,404.73 197.5,409.09 198.08,402.27 198.67,406.33 199.26,401.08 199.85,408.72 200.43,405.75 201.02,406.14 201.61,410.88 202.19,408.09 202.78,414.22 203.37,413.51 203.96,407.53 204.54,410.82 205.13,413.99 205.72,419.36 206.31,411.72 206.89,405.08 207.48,429.31 208.07,411.79 208.66,417.19 209.24,412.9 209.83,413.21 210.42,426.22 211,411.37 211.59,425.21 212.18,423.97 212.77,419.71 213.35,424.42 213.94,423.13 214.53,428.24 215.12,431.87 215.7,426.61 216.29,433.56 216.88,420.52 217.47,427.41 218.05,421.36 218.64,436.8 219.23,441.98 219.81,443.59 220.4,433.34 220.99,438.95 221.58,430.57 222.23,439.65 222.88,439.84 223.53,432.54 224.19,436.24 224.84,431.73 225.49,431.65 226.15,434.31 226.8,442.23 227.45,441.12 228.1,426.93 228.76,439.18 229.41,437.07 230.06,438.11 230.71,439.07 231.37,440 232.02,442.1 232.67,442.13 233.32,449.42 233.98,432.36 234.63,440.96 235.28,446.87 235.93,438.52 236.59,438.07 237.24,448.24 237.89,444.14 238.54,434.93 239.2,439.65 239.85,440.45 240.5,438.03 241.15,443.65 241.81,444.78 242.46,436.27 243.11,444.98 243.77,444.85 244.42,441.85 245.07,445.05 245.72,451.37 246.38,437.04 247.03,446.63 247.68,438.23 248.33,444.63 248.99,451.65 249.64,440.48 250.29,448.92 250.94,452.51 251.6,448.96 252.25,459.21 252.9,447.34 253.55,452.76 254.21,450.62 254.86,453.74 255.51,446.47 256.16,448.07 256.82,444.78 257.47,442.15 258.12,448.74 258.78,449.73 259.43,448.83 260.08,454.19 260.73,453.04 261.39,447.03 262.04,454.71 262.69,459.88 263.34,452.54 264,449.79 264.65,444.19 265.3,454.55 265.95,455.68 266.61,450.95 267.26,452.23 267.91,450.44 268.56,454.13 269.22,450.88 269.87,454.63 270.52,447.35 271.17,450.68 271.83,449.32 272.48,454.08 273.13,458.76 273.78,452 274.44,452.33 275.09,446.95 275.74,447.6 276.4,452.31 277.05,452.37 277.7,456.81 278.35,452.39 279.01,451.23 279.66,454.18 280.31,457.33 280.96,446.29 281.62,456.63 282.27,444.58 282.92,446.81 283.57,445.14 284.23,456.34 284.88,449.47 285.53,458.91 286.18,454.13 286.84,459.59 287.49,455.9 288.14,454.85 288.79,448.04 289.45,447.5 290.1,454.29 290.75,453.91 291.41,457 292.06,457.95 292.71,460.97 293.36,453.67 294.02,449.92 294.67,456.28 295.32,451.02 295.97,458.12 296.63,457.45 297.28,455.28 297.93,448.7 298.58,455.28 299.24,449.29 299.89,454.51 300.54,458.05 301.19,462.25 301.85,455.14 302.5,457.42 303.15,448.77 303.8,450.95 304.46,460.63 305.11,449.13 305.76,450.59 306.41,466.56 307.07,457.95 307.72,451.99 308.37,460.54 309.03,456.54 309.68,450.77 310.33,452.05 310.98,451.14 311.64,450.41 312.29,457.35 312.94,442.22 313.59,450.88 314.25,443.41 314.9,454.57 315.55,450.77 316.2,451.8 316.86,454.09 317.51,451.97 318.16,452.25 318.81,449.7" fill="none" stroke="#f7941d" stroke-width="1.1" stroke-linejoin="round"/>
<polyline points="90.6,322.8 94.19,322.39 97.78,323.38 101.37,323.62 104.96,322.84 108.55,322.48 112.14,322.86 115.73,323.42 119.31,323.01 122.9,322.19 126.49,323.97 127.02,321.91 127.54,322.36 128.06,322.39 128.58,322.15 129.1,323.26 129.63,322.9 130.15,321.28 130.67,323.13 131.19,323.15 131.71,323.98 132.24,323.2 132.76,322.17 133.28,321.74 133.8,322.25 134.32,322.26 134.85,322.3 135.37,322.51 135.89,321.95 136.41,322.92 136.93,321.89 137.46,322.85 137.98,324.14 138.5,323.87 139.02,322.96 139.55,323.18 140.07,323.91 140.59,323.62 141.11,322.91 141.63,322.82 142.16,322.54 142.68,324.06 143.2,323.12 143.72,322.66 144.24,323.32 144.77,322.23 145.29,324.19 145.81,323.89 146.33,323.83 146.85,324.41 147.38,324.2 147.9,324.06 148.42,324.37 148.94,324.85 149.46,324.9 149.99,324.68 150.51,325.98 151.03,324.64 151.55,325.8 152.07,325.18 152.6,325.97 153.12,325.08 153.64,325.57 154.16,325.56 154.69,326.05 155.21,325.43 155.73,324.29 156.25,327.21 156.77,325.37 157.3,325.7 157.82,326.3 158.34,327.13 158.86,324.85 159.38,326.1 159.91,325.57 160.43,327.05 160.95,327.71 161.47,326.51 161.99,327.13 162.52,328.32 163.04,328.59 163.56,328.23 164.08,329.74 164.6,330.1 165.13,329.78 165.65,329.24 166.17,329.7 166.69,330.59 167.22,329.97 167.74,331.54 168.26,332.16 168.78,330.14 169.3,332.83 169.83,332.25 170.35,332.62 170.87,333.32 171.39,333.56 171.91,333.51 172.44,333.96 172.96,335.23 173.48,335.08 174,334.28 174.52,335.15 175.05,336.44 175.57,336.37 176.09,337.57 176.61,338.15 177.13,337.86 177.66,336.44 178.18,338.69 178.7,339.85 179.29,339.71 179.88,340.77 180.46,340.85 181.05,341.38 181.64,342.93 182.23,343.49 182.81,344.77 183.4,344.51 183.99,346.24 184.57,346.65 185.16,346.27 185.75,348.68 186.34,348.91 186.92,349.8 187.51,350.32 188.1,351.1 188.69,351.38 189.27,352.65 189.86,353.37 190.45,355.06 191.04,355.03 191.62,356.66 192.21,356.21 192.8,357.73 193.38,358.12 193.97,359.73 194.56,360.27 195.15,361.23 195.73,361.9 196.32,363.11 196.91,364.25 197.5,365.03 198.08,366.06 198.67,367.09 199.26,368.13 199.85,369.15 200.43,368.39 201.02,370.58 201.61,371.65 202.19,371.51 202.78,372.75 203.37,373.85 203.96,374.12 204.54,374.66 205.13,376.89 205.72,376.66 206.31,378.59 206.89,379.89 207.48,382.32 208.07,382.82 208.66,384.67 209.24,388.12 209.83,387.8 210.42,389.35 211,392.29 211.59,393.04 212.18,394.88 212.77,396.27 213.35,398.4 213.94,399.25 214.53,400.8 215.12,402.8 215.7,404.41 216.29,406.86 216.88,407.37 217.47,409.89 218.05,410.88 218.64,412.92 219.23,412.87 219.81,415.79 220.4,416.66 220.99,419.07 221.58,420.7 222.23,422.19 222.88,424.32 223.53,425.15 224.19,428 224.84,428.47 225.49,430.58 226.15,431.41 226.8,431.72 227.45,433.51 228.1,433.09 228.76,434.63 229.41,435.77 230.06,436.02 230.71,437.92 231.37,438.97 232.02,440.68 232.67,441.36 233.32,441.64 233.98,443.24 234.63,442.62 235.28,443.08 235.93,443.85 236.59,445.26 237.24,445.49 237.89,446.26 238.54,445.95 239.2,446.36 239.85,447.43 240.5,447.86 241.15,448.35 241.81,448.68 242.46,449.91 243.11,450.49 243.77,450.31 244.42,450.98 245.07,451.54 245.72,452.27 246.38,452.52 247.03,453.19 247.68,454.1 248.33,453.24 248.99,453.6 249.64,454.26 250.29,454.3 250.94,454.66 251.6,455.04 252.25,455 252.9,455.26 253.55,455.04 254.21,454.74 254.86,455 255.51,455.67 256.16,455.26 256.82,455.54 257.47,455.84 258.12,455.03 258.78,456.02 259.43,455.31 260.08,456.5 260.73,455.78 261.39,456.29 262.04,455.7 262.69,456.03 263.34,456.63 264,456.14 264.65,455.97 265.3,456.06 265.95,456.1 266.61,456.96 267.26,456.02 267.91,457.26 268.56,457.18 269.22,457.86 269.87,457.41 270.52,457.99 271.17,457.39 271.83,458.21 272.48,456.75 273.13,457.23 273.78,456.96 274.44,457.18 275.09,457.65 275.74,457.56 276.4,457.72 277.05,458.64 277.7,458.39 278.35,458.11 279.01,457.6 279.66,458.62 280.31,458.01 280.96,458.38 281.62,457.87 282.27,457.91 282.92,458.71 283.57,458.8 284.23,457.75 284.88,457.98 285.53,458.48 286.18,458.16 286.84,458.53 287.49,458.41 288.14,458.82 288.79,458.47 289.45,458.04 290.1,458.18 290.75,458.31 291.41,458.83 292.06,458.53 292.71,459.16 293.36,459.15 294.02,459.01 294.67,459.58 295.32,459.09 295.97,459.94 296.63,458.57 297.28,458.95 297.93,459.23 298.58,459.7 299.24,459.7 299.89,459.66 300.54,460.24 301.19,459.77 301.85,460.02 302.5,459.33 303.15,459.17 303.8,459.17 304.46,460.39 305.11,460.45 305.76,459.32 306.41,459.64 307.07,459.57 307.72,459.78 308.37,460.01 309.03,459.26 309.68,459.83 310.33,459.96 310.98,460.71 311.64,460.28 312.29,459.82 312.94,460.2 313.59,460.1 314.25,460.61 314.9,460.28 315.55,460.86 316.2,460.75 316.86,460.27 317.51,460.05 318.16,460.95 318.81,460.95" fill="none" stroke="#29abe2" stroke-width="1.1" stroke-linejoin="round"/>
<polyline points="90.6,322.8 94.19,322.89 97.78,322.97 101.37,323.27 104.96,323.01 108.55,323.17 112.14,322.77 115.73,323.75 119.31,322.29 122.9,324.83 126.49,323.48 127.02,322.78 127.54,323.73 128.06,324.23 128.58,323.62 129.1,322.98 129.63,322.52 130.15,324.95 130.67,323.44 131.19,324.2 131.71,322.74 132.24,324.11 132.76,323.55 133.28,322.74 133.8,323.98 134.32,323.53 134.85,324.43 135.37,324.03 135.89,325.49 136.41,324.56 136.93,324.27 137.46,324.44 137.98,321.96 138.5,325.86 139.02,325.82 139.55,323.67 140.07,323.35 140.59,323.76 141.11,322.89 141.63,322.08 142.16,324.34 142.68,325.11 143.2,324.1 143.72,322.92 144.24,323.6 144.77,324.16 145.29,323.72 145.81,323.75 146.33,325.52 146.85,323.63 147.38,324.76 147.9,324.26 148.42,324.51 148.94,324 149.46,323.25 149.99,324.26 150.51,323.95 151.03,323.3 151.55,323.71 152.07,324.71 152.6,323.43 153.12,324.5 153.64,324.39 154.16,323.98 154.69,322.85 155.21,324.94 155.73,324.54 156.25,324.07 156.77,324.97 157.3,324.12 157.82,323.13 158.34,325.82 158.86,324.23 159.38,324.9 159.91,322.51 160.43,323.91 160.95,324.03 161.47,324.8 161.99,325.72 162.52,324.88 163.04,324.77 163.56,325.18 164.08,323.76 164.6,324.78 165.13,326.38 165.65,326.06 166.17,325.59 166.69,327.03 167.22,326.27 167.74,326.78 168.26,326.2 168.78,326.37 169.3,327.17 169.83,325.63 170.35,327.39 170.87,326.41 171.39,328.05 171.91,328.1 172.44,327.94 172.96,327.87 173.48,326.93 174,329.09 174.52,326.45 175.05,329.08 175.57,326.85 176.09,328.12 176.61,328.85 177.13,327.81 177.66,329.09 178.18,328.8 178.7,328.87 179.29,327.54 179.88,329.71 180.46,328.33 181.05,329.64 181.64,330.01 182.23,330.04 182.81,329.33 183.4,330.42 183.99,331.05 184.57,330.65 185.16,331.16 185.75,331.08 186.34,332.56 186.92,331.51 187.51,331.98 188.1,333.33 188.69,333.46 189.27,333.37 189.86,334.07 190.45,333.86 191.04,334.3 191.62,334.94 192.21,335.86 192.8,336.65 193.38,335.77 193.97,336.91 194.56,335.99 195.15,335.98 195.73,337.17 196.32,337.11 196.91,337.24 197.5,337.8 198.08,339.14 198.67,339.41 199.26,339.48 199.85,339.5 200.43,340.32 201.02,340.1 201.61,340.08 202.19,341.66 202.78,342.13 203.37,343.34 203.96,343.57 204.54,343.71 205.13,344.17 205.72,345.43 206.31,346.66 206.89,345.89 207.48,348.69 208.07,348.53 208.66,349.38 209.24,349.66 209.83,350.04 210.42,351.26 211,349.83 211.59,351.31 212.18,352.62 212.77,354.02 213.35,355.25 213.94,354.5 214.53,355.35 215.12,356.25 215.7,356.69 216.29,358.23 216.88,360.26 217.47,361.55 218.05,361.78 218.64,362.54 219.23,363.32 219.81,364.53 220.4,365.81 220.99,367.17 221.58,367.53 222.23,368.6 222.88,370.32 223.53,371.64 224.19,372.54 224.84,373.83 225.49,374.25 226.15,375.83 226.8,376.13 227.45,377.6 228.1,377.98 228.76,378.09 229.41,380.61 230.06,381.03 230.71,380.98 231.37,382.6 232.02,383.88 232.67,384.69 233.32,386.01 233.98,387.38 234.63,388.38 235.28,388.03 235.93,388.45 236.59,388.17 237.24,389.01 237.89,390.3 238.54,389.88 239.2,391.08 239.85,390.28 240.5,391.55 241.15,391 241.81,391.6 242.46,392.52 243.11,393.95 243.77,396.64 244.42,399.76 245.07,400.61 245.72,403.34 246.38,405.22 247.03,407.06 247.68,408.96 248.33,411.33 248.99,413.99 249.64,415.97 250.29,418.06 250.94,419.3 251.6,421.12 252.25,422.11 252.9,424.39 253.55,425.29 254.21,426.54 254.86,428.76 255.51,430.69 256.16,431.71 256.82,434.26 257.47,435.53 258.12,436.54 258.78,438.51 259.43,440.28 260.08,440.99 260.73,441.75 261.39,441.53 262.04,441.97 262.69,442.85 263.34,444.14 264,444.67 264.65,445.85 265.3,446.63 265.95,446.51 266.61,447.17 267.26,448.69 267.91,449.33 268.56,449.29 269.22,450.7 269.87,450.28 270.52,450.89 271.17,452.3 271.83,452.2 272.48,451.91 273.13,452.13 273.78,452.85 274.44,453.16 275.09,453.48 275.74,453.37 276.4,453.62 277.05,454.24 277.7,454.63 278.35,454.71 279.01,455.01 279.66,455.37 280.31,456.01 280.96,455.67 281.62,455.6 282.27,456.17 282.92,455.94 283.57,456.57 284.23,456.67 284.88,456.88 285.53,458.4 286.18,457.46 286.84,457.55 287.49,458.68 288.14,459.08 288.79,458.78 289.45,458.57 290.1,458.37 290.75,459.29 291.41,458.78 292.06,459.3 292.71,458.77 293.36,459.02 294.02,458.95 294.67,459.37 295.32,459.42 295.97,458.91 296.63,459.89 297.28,459.49 297.93,459.82 298.58,459.78 299.24,460.07 299.89,459.29 300.54,459.47 301.19,460.11 301.85,459.19 302.5,460.07 303.15,459.58 303.8,460.81 304.46,460.66 305.11,460.78 305.76,459.67 306.41,460.25 307.07,460.91 307.72,460.71 308.37,460.97 309.03,461.06 309.68,461.5 310.33,460.77 310.98,461.1 311.64,461.69 312.29,461.27 312.94,461.12 313.59,461.5 314.25,461.83 314.9,461.5 315.55,461.53 316.2,461.08 316.86,462.27 317.51,461.96 318.16,462.21 318.81,462.5" fill="none" stroke="#b03a48" stroke-width="1.1" stroke-linejoin="round"/>
</g>
<line x1="218.7" y1="296" x2="240.9" y2="296" stroke="#8cc63f" stroke-width="1.1" stroke-opacity="0.8"/>
<text x="262.5" y="299.8" font-size="10.6" text-anchor="middle">0.25</text>
<text x="338.7" y="299.8" font-size="10.6" text-anchor="middle">0.008</text>
<line x1="218.7" y1="311.85" x2="240.9" y2="311.85" stroke="#9b9ba6" stroke-width="1.1" stroke-opacity="0.8"/>
<text x="262.5" y="315.65" font-size="10.6" text-anchor="middle">0.5</text>
<text x="338.7" y="315.65" font-size="10.6" text-anchor="middle">0.015</text>
<line x1="218.7" y1="327.7" x2="240.9" y2="327.7" stroke="#f7941d" stroke-width="1.1" stroke-opacity="0.8"/>
<text x="262.5" y="331.5" font-size="10.6" text-anchor="middle">0.75</text>
<text x="338.7" y="331.5" font-size="10.6" text-anchor="middle">0.023</text>
<line x1="218.7" y1="343.55" x2="240.9" y2="343.55" stroke="#29abe2" stroke-width="1.1" stroke-opacity="0.8"/>
<text x="262.5" y="347.35" font-size="10.6" text-anchor="middle">1</text>
<text x="338.7" y="347.35" font-size="10.6" text-anchor="middle">0.03</text>
<line x1="218.7" y1="359.4" x2="240.9" y2="359.4" stroke="#b03a48" stroke-width="1.1" stroke-opacity="0.8"/>
<text x="262.5" y="363.2" font-size="10.6" text-anchor="middle">2</text>
<text x="338.7" y="363.2" font-size="10.6" text-anchor="middle">0.06</text>
<text x="262.5" y="268.7" font-size="10.6" text-anchor="middle">p53<tspan font-size="5.3" dy="-4.77">4M</tspan><tspan dy="4.77"> ΔTAD</tspan></text>
<text x="262.5" y="282.9" font-size="10.6" text-anchor="middle">(μM)</text>
<text x="297.8" y="280" font-size="14" text-anchor="middle">+</text>
<text x="338.7" y="268.7" font-size="10.6" text-anchor="middle">400-bp random</text>
<text x="338.7" y="282.9" font-size="10.6" text-anchor="middle">DNA (μM)</text>
<text x="41" y="546" font-size="20" font-weight="bold">C</text>
<text x="59.2" y="600" font-size="16">(i)</text>
<line x1="90.6" y1="590" x2="90.6" y2="774.5" stroke="#231f20" stroke-width="1.6"/>
<line x1="90.6" y1="766.6" x2="93.9" y2="766.6" stroke="#231f20" stroke-width="1.3"/>
<text x="87.6" y="770.9" font-size="12.2" text-anchor="end">0.0</text>
<line x1="90.6" y1="738.28" x2="93.9" y2="738.28" stroke="#231f20" stroke-width="1.3"/>
<text x="87.6" y="742.58" font-size="12.2" text-anchor="end">0.2</text>
<line x1="90.6" y1="709.96" x2="93.9" y2="709.96" stroke="#231f20" stroke-width="1.3"/>
<text x="87.6" y="714.26" font-size="12.2" text-anchor="end">0.4</text>
<line x1="90.6" y1="681.64" x2="93.9" y2="681.64" stroke="#231f20" stroke-width="1.3"/>
<text x="87.6" y="685.94" font-size="12.2" text-anchor="end">0.6</text>
<line x1="90.6" y1="653.32" x2="93.9" y2="653.32" stroke="#231f20" stroke-width="1.3"/>
<text x="87.6" y="657.62" font-size="12.2" text-anchor="end">0.8</text>
<line x1="90.6" y1="625" x2="93.9" y2="625" stroke="#231f20" stroke-width="1.3"/>
<text x="87.6" y="629.3" font-size="12.2" text-anchor="end">1.0</text>
<line x1="90.6" y1="596.68" x2="93.9" y2="596.68" stroke="#231f20" stroke-width="1.3"/>
<text x="87.6" y="600.98" font-size="12.2" text-anchor="end">1.2</text>
<line x1="90.6" y1="752.44" x2="92.6" y2="752.44" stroke="#231f20" stroke-width="1"/>
<line x1="90.6" y1="724.12" x2="92.6" y2="724.12" stroke="#231f20" stroke-width="1"/>
<line x1="90.6" y1="695.8" x2="92.6" y2="695.8" stroke="#231f20" stroke-width="1"/>
<line x1="90.6" y1="667.48" x2="92.6" y2="667.48" stroke="#231f20" stroke-width="1"/>
<line x1="90.6" y1="639.16" x2="92.6" y2="639.16" stroke="#231f20" stroke-width="1"/>
<line x1="90.6" y1="610.84" x2="92.6" y2="610.84" stroke="#231f20" stroke-width="1"/>
<line x1="89.8" y1="773.8" x2="319.5" y2="773.8" stroke="#231f20" stroke-width="1.6"/>
<line x1="90.6" y1="773.8" x2="90.6" y2="770" stroke="#231f20" stroke-width="1.2"/>
<line x1="102.08" y1="773.8" x2="102.08" y2="771.6" stroke="#231f20" stroke-width="0.9"/>
<line x1="108.8" y1="773.8" x2="108.8" y2="771.6" stroke="#231f20" stroke-width="0.9"/>
<line x1="113.57" y1="773.8" x2="113.57" y2="771.6" stroke="#231f20" stroke-width="0.9"/>
<line x1="117.27" y1="773.8" x2="117.27" y2="771.6" stroke="#231f20" stroke-width="0.9"/>
<line x1="120.29" y1="773.8" x2="120.29" y2="771.6" stroke="#231f20" stroke-width="0.9"/>
<line x1="122.84" y1="773.8" x2="122.84" y2="771.6" stroke="#231f20" stroke-width="0.9"/>
<line x1="125.05" y1="773.8" x2="125.05" y2="771.6" stroke="#231f20" stroke-width="0.9"/>
<line x1="127" y1="773.8" x2="127" y2="771.6" stroke="#231f20" stroke-width="0.9"/>
<line x1="128.75" y1="773.8" x2="128.75" y2="770" stroke="#231f20" stroke-width="1.2"/>
<line x1="140.23" y1="773.8" x2="140.23" y2="771.6" stroke="#231f20" stroke-width="0.9"/>
<line x1="146.95" y1="773.8" x2="146.95" y2="771.6" stroke="#231f20" stroke-width="0.9"/>
<line x1="151.72" y1="773.8" x2="151.72" y2="771.6" stroke="#231f20" stroke-width="0.9"/>
<line x1="155.42" y1="773.8" x2="155.42" y2="771.6" stroke="#231f20" stroke-width="0.9"/>
<line x1="158.44" y1="773.8" x2="158.44" y2="771.6" stroke="#231f20" stroke-width="0.9"/>
<line x1="160.99" y1="773.8" x2="160.99" y2="771.6" stroke="#231f20" stroke-width="0.9"/>
<line x1="163.2" y1="773.8" x2="163.2" y2="771.6" stroke="#231f20" stroke-width="0.9"/>
<line x1="165.15" y1="773.8" x2="165.15" y2="771.6" stroke="#231f20" stroke-width="0.9"/>
<line x1="166.9" y1="773.8" x2="166.9" y2="770" stroke="#231f20" stroke-width="1.2"/>
<line x1="178.38" y1="773.8" x2="178.38" y2="771.6" stroke="#231f20" stroke-width="0.9"/>
<line x1="185.1" y1="773.8" x2="185.1" y2="771.6" stroke="#231f20" stroke-width="0.9"/>
<line x1="189.87" y1="773.8" x2="189.87" y2="771.6" stroke="#231f20" stroke-width="0.9"/>
<line x1="193.57" y1="773.8" x2="193.57" y2="771.6" stroke="#231f20" stroke-width="0.9"/>
<line x1="196.59" y1="773.8" x2="196.59" y2="771.6" stroke="#231f20" stroke-width="0.9"/>
<line x1="199.14" y1="773.8" x2="199.14" y2="771.6" stroke="#231f20" stroke-width="0.9"/>
<line x1="201.35" y1="773.8" x2="201.35" y2="771.6" stroke="#231f20" stroke-width="0.9"/>
<line x1="203.3" y1="773.8" x2="203.3" y2="771.6" stroke="#231f20" stroke-width="0.9"/>
<line x1="205.05" y1="773.8" x2="205.05" y2="770" stroke="#231f20" stroke-width="1.2"/>
<line x1="216.53" y1="773.8" x2="216.53" y2="771.6" stroke="#231f20" stroke-width="0.9"/>
<line x1="223.25" y1="773.8" x2="223.25" y2="771.6" stroke="#231f20" stroke-width="0.9"/>
<line x1="228.02" y1="773.8" x2="228.02" y2="771.6" stroke="#231f20" stroke-width="0.9"/>
<line x1="231.72" y1="773.8" x2="231.72" y2="771.6" stroke="#231f20" stroke-width="0.9"/>
<line x1="234.74" y1="773.8" x2="234.74" y2="771.6" stroke="#231f20" stroke-width="0.9"/>
<line x1="237.29" y1="773.8" x2="237.29" y2="771.6" stroke="#231f20" stroke-width="0.9"/>
<line x1="239.5" y1="773.8" x2="239.5" y2="771.6" stroke="#231f20" stroke-width="0.9"/>
<line x1="241.45" y1="773.8" x2="241.45" y2="771.6" stroke="#231f20" stroke-width="0.9"/>
<line x1="243.2" y1="773.8" x2="243.2" y2="770" stroke="#231f20" stroke-width="1.2"/>
<line x1="254.68" y1="773.8" x2="254.68" y2="771.6" stroke="#231f20" stroke-width="0.9"/>
<line x1="261.4" y1="773.8" x2="261.4" y2="771.6" stroke="#231f20" stroke-width="0.9"/>
<line x1="266.17" y1="773.8" x2="266.17" y2="771.6" stroke="#231f20" stroke-width="0.9"/>
<line x1="269.87" y1="773.8" x2="269.87" y2="771.6" stroke="#231f20" stroke-width="0.9"/>
<line x1="272.89" y1="773.8" x2="272.89" y2="771.6" stroke="#231f20" stroke-width="0.9"/>
<line x1="275.44" y1="773.8" x2="275.44" y2="771.6" stroke="#231f20" stroke-width="0.9"/>
<line x1="277.65" y1="773.8" x2="277.65" y2="771.6" stroke="#231f20" stroke-width="0.9"/>
<line x1="279.6" y1="773.8" x2="279.6" y2="771.6" stroke="#231f20" stroke-width="0.9"/>
<line x1="281.35" y1="773.8" x2="281.35" y2="770" stroke="#231f20" stroke-width="1.2"/>
<line x1="292.83" y1="773.8" x2="292.83" y2="771.6" stroke="#231f20" stroke-width="0.9"/>
<line x1="299.55" y1="773.8" x2="299.55" y2="771.6" stroke="#231f20" stroke-width="0.9"/>
<line x1="304.32" y1="773.8" x2="304.32" y2="771.6" stroke="#231f20" stroke-width="0.9"/>
<line x1="308.02" y1="773.8" x2="308.02" y2="771.6" stroke="#231f20" stroke-width="0.9"/>
<line x1="311.04" y1="773.8" x2="311.04" y2="771.6" stroke="#231f20" stroke-width="0.9"/>
<line x1="313.59" y1="773.8" x2="313.59" y2="771.6" stroke="#231f20" stroke-width="0.9"/>
<line x1="315.8" y1="773.8" x2="315.8" y2="771.6" stroke="#231f20" stroke-width="0.9"/>
<line x1="317.75" y1="773.8" x2="317.75" y2="771.6" stroke="#231f20" stroke-width="0.9"/>
<line x1="319.5" y1="773.8" x2="319.5" y2="770" stroke="#231f20" stroke-width="1.2"/>
<text x="90.9" y="786.9" font-size="12.2" text-anchor="middle">10<tspan font-size="6.6" dy="-4.6">-5</tspan></text>
<text x="123.53" y="786.9" font-size="12.2" text-anchor="middle">10<tspan font-size="6.6" dy="-4.6">-4</tspan></text>
<text x="156.16" y="786.9" font-size="12.2" text-anchor="middle">10<tspan font-size="6.6" dy="-4.6">-3</tspan></text>
<text x="188.79" y="786.9" font-size="12.2" text-anchor="middle">10<tspan font-size="6.6" dy="-4.6">-2</tspan></text>
<text x="221.42" y="786.9" font-size="12.2" text-anchor="middle">10<tspan font-size="6.6" dy="-4.6">-1</tspan></text>
<text x="254.05" y="786.9" font-size="12.2" text-anchor="middle">10<tspan font-size="6.6" dy="-4.6">0</tspan></text>
<text x="286.68" y="786.9" font-size="12.2" text-anchor="middle">10<tspan font-size="6.6" dy="-4.6">1</tspan></text>
<text x="319.31" y="786.9" font-size="12.2" text-anchor="middle">10<tspan font-size="6.6" dy="-4.6">2</tspan></text>
<text x="203.41" y="807.9" font-size="14" text-anchor="middle">Time (s)</text>
<text x="64" y="685.5" font-size="14" text-anchor="middle" transform="rotate(-90 64 685.5)">Normalized <tspan font-style="italic">G</tspan>(<tspan font-style="italic">t</tspan>)</text>
<g clip-path="url(#clipC1)">
<polyline points="90.6,625 94.19,625.51 97.78,612.29 101.37,623.1 104.96,624.28 108.55,623.36 112.14,626.89 115.73,627.65 119.31,623.02 122.9,628.68 126.49,624.12 127.02,631.3 127.54,642.15 128.06,639.39 128.58,636.7 129.1,644.62 129.63,632.23 130.15,634.01 130.67,626.18 131.19,638.56 131.71,634.7 132.24,629.68 132.76,628.94 133.28,641.07 133.8,624.44 134.32,639.14 134.85,627.34 135.37,637.68 135.89,638.85 136.41,644.71 136.93,637.49 137.46,620.96 137.98,641.42 138.5,627.16 139.02,628.81 139.55,640.54 140.07,630.74 140.59,629.18 141.11,640.73 141.63,642.51 142.16,631.75 142.68,637.1 143.2,625.54 143.72,637.08 144.24,647.95 144.77,640.82 145.29,648.67 145.81,635.99 146.33,636.57 146.85,644.29 147.38,647.72 147.9,636.07 148.42,644.84 148.94,634.39 149.46,649.39 149.99,644.92 150.51,646.98 151.03,650.54 151.55,625.65 152.07,632.87 152.6,648.57 153.12,639.31 153.64,656.93 154.16,636.75 154.69,638.13 155.21,647.94 155.73,648.27 156.25,644.52 156.77,643.36 157.3,649.1 157.82,652.63 158.34,648.94 158.86,650.32 159.38,642.47 159.91,647.41 160.43,646.84 160.95,659.97 161.47,651.83 161.99,652.32 162.52,653.58 163.04,651.31 163.56,652.97 164.08,661.56 164.6,645.5 165.13,646.06 165.65,656.08 166.17,648.87 166.69,659.71 167.22,662.33 167.74,655.67 168.26,644.33 168.78,655.83 169.3,665.8 169.83,654.37 170.35,660.23 170.87,661.61 171.39,654.86 171.91,669.32 172.44,670.06 172.96,668.24 173.48,651.62 174,658.64 174.52,663.77 175.05,664.69 175.57,656.13 176.09,652.58 176.61,666.23 177.13,660.02 177.66,646.38 178.18,658.55 178.7,664.46 179.29,662.25 179.88,663.65 180.46,661.87 181.05,663.61 181.64,667.49 182.23,666.46 182.81,665.13 183.4,670.44 183.99,668.43 184.57,673.43 185.16,665.83 185.75,665.58 186.34,676.37 186.92,670.5 187.51,674.27 188.1,675.63 188.69,678.05 189.27,677 189.86,675.08 190.45,685.07 191.04,677.12 191.62,683.3 192.21,687.68 192.8,684.51 193.38,682.8 193.97,686.75 194.56,686.22 195.15,689.7 195.73,691.45 196.32,686.23 196.91,694.93 197.5,688.14 198.08,691.73 198.67,695.14 199.26,695.87 199.85,697.08 200.43,697.01 201.02,698 201.61,699.32 202.19,707.44 202.78,709.08 203.37,700.23 203.96,705.06 204.54,705.76 205.13,705.11 205.72,709.79 206.31,700.27 206.89,707.5 207.48,709.25 208.07,713.82 208.66,707.16 209.24,708.86 209.83,706.88 210.42,710.3 211,718.17 211.59,721.02 212.18,711.61 212.77,720.8 213.35,719.6 213.94,720.85 214.53,719.31 215.12,720.17 215.7,727.52 216.29,727.03 216.88,732.43 217.47,724.38 218.05,728.09 218.64,734.96 219.23,724.98 219.81,729.87 220.4,734.74 220.99,733.19 221.58,734.35 222.23,732.98 222.88,733.56 223.53,737.04 224.19,734.65 224.84,745.53 225.49,739.01 226.15,736.66 226.8,736.57 227.45,737.98 228.1,744.96 228.76,748 229.41,744.28 230.06,736.19 230.71,743.35 231.37,747.18 232.02,750.78 232.67,745.32 233.32,747.8 233.98,745.21 234.63,746.75 235.28,755.6 235.93,748.83 236.59,746.37 237.24,751.43 237.89,753.94 238.54,754.34 239.2,755.42 239.85,744.41 240.5,747.49 241.15,754.47 241.81,748.26 242.46,756.53 243.11,755.1 243.77,756.06 244.42,754.51 245.07,752.03 245.72,747.82 246.38,752.34 247.03,755.4 247.68,754.8 248.33,756.35 248.99,754.68 249.64,759.01 250.29,755.64 250.94,755.25 251.6,753.93 252.25,760.02 252.9,756.22 253.55,756.96 254.21,760.82 254.86,764.9 255.51,760.54 256.16,756.17 256.82,760.22 257.47,751.97 258.12,757.58 258.78,761.78 259.43,759.77 260.08,757.96 260.73,757.91 261.39,760.27 262.04,758.02 262.69,749.87 263.34,756.55 264,759.01 264.65,761.11 265.3,765.4 265.95,759.03 266.61,760.95 267.26,759.79 267.91,761.43 268.56,757.15 269.22,756.18 269.87,761.97 270.52,764.18 271.17,758.7 271.83,755.23 272.48,758.41 273.13,758.2 273.78,764.34 274.44,761.6 275.09,757.93 275.74,758.63 276.4,759.88 277.05,758 277.7,757.1 278.35,759.61 279.01,762.22 279.66,764.5 280.31,759.27 280.96,760.51 281.62,760.55 282.27,756.39 282.92,762.14 283.57,760.9 284.23,757.92 284.88,762.93 285.53,767.04 286.18,761.86 286.84,757.46 287.49,762.07 288.14,760.92 288.79,766.16 289.45,756.29 290.1,765.84 290.75,762.35 291.41,760.78 292.06,753.92 292.71,759.87 293.36,762.58 294.02,765.1 294.67,761.28 295.32,764.27 295.97,762.32 296.63,760.17 297.28,756.4 297.93,763.93 298.58,755.96 299.24,766.67 299.89,754.13 300.54,762.52 301.19,761.64 301.85,761.98 302.5,759.72 303.15,760.66 303.8,761.56 304.46,762.76 305.11,762.29 305.76,760.35 306.41,762.28 307.07,762.8 307.72,765.25 308.37,760.51 309.03,759.03 309.68,763.93 310.33,757.43 310.98,760.78 311.64,760.35 312.29,766.19 312.94,758.71 313.59,756.67 314.25,754.49 314.9,762.72 315.55,760.95 316.2,758.39 316.86,759.08 317.51,762.86 318.16,760.62 318.81,757.69" fill="none" stroke="#8cc63f" stroke-width="1.1" stroke-linejoin="round"/>
<polyline points="90.6,625 94.19,629.71 97.78,623.62 101.37,626.11 104.96,628.74 108.55,627.44 112.14,627.2 115.73,625.42 119.31,623.36 122.9,623.24 126.49,629.39 127.02,624.21 127.54,628.9 128.06,631.61 128.58,634.13 129.1,639.38 129.63,643.72 130.15,634.66 130.67,635.68 131.19,633.04 131.71,633.44 132.24,643.96 132.76,640.96 133.28,643.99 133.8,631.06 134.32,638.57 134.85,637.54 135.37,644.47 135.89,647.24 136.41,643.34 136.93,640.62 137.46,637.39 137.98,650.19 138.5,638.85 139.02,646.66 139.55,644.87 140.07,643.97 140.59,644.91 141.11,639.63 141.63,637.31 142.16,641.01 142.68,646.86 143.2,641.14 143.72,641.73 144.24,638.99 144.77,643.03 145.29,655.19 145.81,650.12 146.33,648.19 146.85,640.18 147.38,647.15 147.9,640.89 148.42,645.09 148.94,654.71 149.46,647.27 149.99,644.39 150.51,645.63 151.03,657.81 151.55,646.14 152.07,652.82 152.6,662.69 153.12,653.33 153.64,662.46 154.16,658.39 154.69,641.65 155.21,635.55 155.73,644.67 156.25,648.92 156.77,640.03 157.3,650.13 157.82,658.75 158.34,668.33 158.86,647.51 159.38,667.7 159.91,671.9 160.43,658.59 160.95,654.63 161.47,661.03 161.99,649.61 162.52,657.29 163.04,655.98 163.56,655.05 164.08,662.11 164.6,657.66 165.13,644.85 165.65,666.02 166.17,659.63 166.69,657.91 167.22,665.21 167.74,662.66 168.26,673.75 168.78,666.25 169.3,663.79 169.83,657.56 170.35,659.18 170.87,669.39 171.39,673.33 171.91,655.26 172.44,661.78 172.96,680.08 173.48,670.69 174,674.83 174.52,673.52 175.05,681.12 175.57,673.46 176.09,674.63 176.61,673.42 177.13,665.87 177.66,671.62 178.18,681.34 178.7,680.66 179.29,676.7 179.88,670.93 180.46,672.36 181.05,678.83 181.64,672.79 182.23,676.2 182.81,680.93 183.4,678.02 183.99,681.01 184.57,686.01 185.16,684.46 185.75,683.23 186.34,679.85 186.92,689.89 187.51,686.07 188.1,687.95 188.69,689.26 189.27,694.78 189.86,686.34 190.45,687.24 191.04,687.14 191.62,692.51 192.21,689.68 192.8,694.32 193.38,693.61 193.97,699.75 194.56,698.71 195.15,702 195.73,705.98 196.32,704.79 196.91,708.61 197.5,709.78 198.08,708.18 198.67,710.18 199.26,701.13 199.85,703.44 200.43,707.28 201.02,709.57 201.61,717.09 202.19,713.92 202.78,721.71 203.37,719.77 203.96,720.39 204.54,721.13 205.13,717.61 205.72,725.13 206.31,713.68 206.89,725.72 207.48,721.29 208.07,731.44 208.66,722.67 209.24,731.7 209.83,727.02 210.42,728.61 211,726.23 211.59,727.85 212.18,729.51 212.77,732.38 213.35,725.09 213.94,735.2 214.53,734.18 215.12,736.85 215.7,735.32 216.29,740.36 216.88,739.05 217.47,736.33 218.05,741.11 218.64,737.7 219.23,742.33 219.81,735.21 220.4,741.79 220.99,735.11 221.58,740.87 222.23,743.55 222.88,740.74 223.53,740.71 224.19,740.22 224.84,741.32 225.49,743.58 226.15,750.86 226.8,744.78 227.45,748.72 228.1,747.8 228.76,745.7 229.41,752.55 230.06,746.28 230.71,743.18 231.37,749.39 232.02,752.49 232.67,747.38 233.32,751.52 233.98,749.03 234.63,748.69 235.28,757.88 235.93,752.3 236.59,758.54 237.24,756.22 237.89,752.32 238.54,758.41 239.2,757.2 239.85,756.67 240.5,754.5 241.15,754.7 241.81,754.71 242.46,758.06 243.11,759.16 243.77,755.74 244.42,760.16 245.07,760.29 245.72,755.75 246.38,760.86 247.03,761.52 247.68,755.31 248.33,759.38 248.99,766.71 249.64,762.28 250.29,753.92 250.94,751.39 251.6,761.74 252.25,758.79 252.9,758.69 253.55,760.06 254.21,766.92 254.86,757.9 255.51,760.22 256.16,761.89 256.82,766.33 257.47,763.19 258.12,761.54 258.78,762 259.43,760.48 260.08,762.45 260.73,758.04 261.39,759.25 262.04,764.96 262.69,763.22 263.34,759.95 264,763.08 264.65,756.85 265.3,763.07 265.95,760.57 266.61,759.43 267.26,765.01 267.91,757.4 268.56,762.08 269.22,763.71 269.87,763.66 270.52,766.88 271.17,765.83 271.83,756.7 272.48,761.92 273.13,762.42 273.78,760.91 274.44,759.7 275.09,764.1 275.74,762.24 276.4,760.71 277.05,758.37 277.7,760.8 278.35,756.32 279.01,762.33 279.66,762.73 280.31,766.11 280.96,761.82 281.62,759.64 282.27,762.5 282.92,762.28 283.57,764.86 284.23,763.63 284.88,763.19 285.53,762.07 286.18,758.37 286.84,760.18 287.49,758.9 288.14,758.08 288.79,763.33 289.45,757.6 290.1,761.73 290.75,766.1 291.41,763.84 292.06,762.2 292.71,766.84 293.36,754.6 294.02,762.13 294.67,759.25 295.32,765.85 295.97,761.7 296.63,761.2 297.28,764.47 297.93,761.25 298.58,762.08 299.24,760.9 299.89,765.95 300.54,760.47 301.19,763.04 301.85,764.87 302.5,769.17 303.15,762.79 303.8,763.38 304.46,754.64 305.11,766.07 305.76,757.49 306.41,758.26 307.07,760.95 307.72,761.49 308.37,760.7 309.03,767.02 309.68,757.81 310.33,763.37 310.98,764.71 311.64,762.38 312.29,771.14 312.94,766.63 313.59,766.17 314.25,767.43 314.9,760.58 315.55,757.37 316.2,762.43 316.86,763.52 317.51,761.47 318.16,764.13 318.81,762.12" fill="none" stroke="#9b9ba6" stroke-width="1" stroke-linejoin="round"/>
<polyline points="90.6,625 94.19,616.35 97.78,631.68 101.37,633.07 104.96,625.01 108.55,616.06 112.14,625.99 115.73,639.16 119.31,639.54 122.9,637.63 126.49,633.14 127.02,640.08 127.54,642.77 128.06,642.09 128.58,639.58 129.1,646.19 129.63,641.26 130.15,639.67 130.67,630.4 131.19,642.43 131.71,635.58 132.24,649.69 132.76,636.84 133.28,641.93 133.8,647.04 134.32,643.73 134.85,637.56 135.37,646.32 135.89,637.2 136.41,634.02 136.93,633.57 137.46,633.84 137.98,654.16 138.5,643.22 139.02,650.58 139.55,639.54 140.07,645.84 140.59,645.05 141.11,643.66 141.63,651.23 142.16,646.7 142.68,652.63 143.2,633.42 143.72,651.31 144.24,648.28 144.77,660.9 145.29,659.16 145.81,654.97 146.33,643.87 146.85,644.31 147.38,647.96 147.9,654.62 148.42,637.72 148.94,658.17 149.46,657.45 149.99,648.59 150.51,659.35 151.03,651.04 151.55,646.62 152.07,654.3 152.6,651.45 153.12,654.47 153.64,659.89 154.16,677.73 154.69,664.62 155.21,656.64 155.73,668.49 156.25,661.44 156.77,656.54 157.3,649.15 157.82,668.43 158.34,663.06 158.86,658.26 159.38,656.63 159.91,670.39 160.43,648.26 160.95,667.39 161.47,654.56 161.99,664.02 162.52,660.23 163.04,651.9 163.56,659.05 164.08,663.56 164.6,671.94 165.13,669.96 165.65,675.81 166.17,652.22 166.69,677.64 167.22,685.25 167.74,656.21 168.26,659.23 168.78,671.15 169.3,663.23 169.83,675.32 170.35,674.05 170.87,666.97 171.39,668.3 171.91,675 172.44,661.18 172.96,668.13 173.48,673.06 174,683.06 174.52,674.56 175.05,678.49 175.57,677.55 176.09,672.15 176.61,682.53 177.13,677.39 177.66,674.4 178.18,678.26 178.7,671.92 179.29,689.76 179.88,683.52 180.46,689.08 181.05,685.22 181.64,675.18 182.23,693.52 182.81,688.76 183.4,685.83 183.99,689.26 184.57,686.86 185.16,698.34 185.75,688.73 186.34,697.94 186.92,700.1 187.51,693.64 188.1,695.09 188.69,701.24 189.27,702.67 189.86,701.13 190.45,701.39 191.04,703.13 191.62,707.76 192.21,714.33 192.8,700.07 193.38,705.94 193.97,712.97 194.56,715.54 195.15,713.25 195.73,713.5 196.32,722.15 196.91,708.67 197.5,714.19 198.08,718.76 198.67,717.34 199.26,719.26 199.85,717.17 200.43,722.41 201.02,719.15 201.61,719.36 202.19,728.62 202.78,730.62 203.37,733.86 203.96,732.52 204.54,736.02 205.13,734.33 205.72,734.49 206.31,733.96 206.89,741.44 207.48,732.31 208.07,738.52 208.66,738.01 209.24,740.04 209.83,746.64 210.42,737.44 211,746.34 211.59,734.5 212.18,739.33 212.77,733.24 213.35,737.41 213.94,737.51 214.53,734.89 215.12,741.31 215.7,734.95 216.29,742.32 216.88,741.02 217.47,745.29 218.05,740.82 218.64,741 219.23,746.68 219.81,750.69 220.4,746.15 220.99,744.93 221.58,748 222.23,751.68 222.88,751.59 223.53,750.78 224.19,759.9 224.84,753.51 225.49,747.19 226.15,757.57 226.8,754.62 227.45,748.7 228.1,752.95 228.76,753.01 229.41,757.33 230.06,761.83 230.71,747.34 231.37,756.75 232.02,757.3 232.67,752.7 233.32,755.96 233.98,758.94 234.63,763.37 235.28,760.36 235.93,760.67 236.59,762.86 237.24,763.86 237.89,764.67 238.54,761.89 239.2,763.9 239.85,760.7 240.5,758.9 241.15,761.7 241.81,763.07 242.46,757.98 243.11,761.44 243.77,768.95 244.42,766.27 245.07,763.06 245.72,766.84 246.38,761.07 247.03,769.92 247.68,770.47 248.33,760.29 248.99,761.7 249.64,769.39 250.29,763.48 250.94,759.01 251.6,767.68 252.25,767.94 252.9,768.04 253.55,767.22 254.21,769.87 254.86,765.46 255.51,768.86 256.16,763.54 256.82,755.88 257.47,767.45 258.12,760.56 258.78,759.64 259.43,771.9 260.08,763.37 260.73,763.8 261.39,764.94 262.04,760.94 262.69,765.31 263.34,762.51 264,765.13 264.65,764.24 265.3,766.52 265.95,755.74 266.61,763.96 267.26,767.71 267.91,756.89 268.56,758.2 269.22,764.45 269.87,766.07 270.52,766.36 271.17,759.41 271.83,764.91 272.48,766.27 273.13,760.79 273.78,764.71 274.44,763.95 275.09,756.93 275.74,760.72 276.4,759.37 277.05,762.29 277.7,759.22 278.35,764.36 279.01,760.36 279.66,760.07 280.31,765.21 280.96,768.29 281.62,761.87 282.27,764.19 282.92,761.62 283.57,765.88 284.23,761.9 284.88,760.37 285.53,755.42 286.18,757.46 286.84,762.38 287.49,758.7 288.14,765.97 288.79,759.62 289.45,763.27 290.1,759.07 290.75,762.58 291.41,764.57 292.06,766.27 292.71,759.33 293.36,763.56 294.02,761.25 294.67,762.06 295.32,770.97 295.97,761.63 296.63,765.07 297.28,762.38 297.93,762.06 298.58,770.12 299.24,764.87 299.89,763.97 300.54,762.39 301.19,760.45 301.85,766.16 302.5,764.58 303.15,761.56 303.8,770.22 304.46,757.22 305.11,767.09 305.76,759.12 306.41,763.25 307.07,757.13 307.72,760.09 308.37,763.88 309.03,769.74 309.68,763.3 310.33,762.62 310.98,761.84 311.64,768.2 312.29,766.68 312.94,766.51 313.59,762.77 314.25,766.83 314.9,764.18 315.55,760.49 316.2,765.24 316.86,759.02 317.51,762.72 318.16,764.63 318.81,759.91" fill="none" stroke="#e5398e" stroke-width="1.3" stroke-linejoin="round"/>
<polyline points="90.6,625 94.19,625.53 97.78,624.58 101.37,624.08 104.96,624.85 108.55,624.6 112.14,624.6 115.73,624.74 119.31,624.74 122.9,624.64 126.49,625.15 127.02,625.95 127.54,626.06 128.06,624.59 128.58,624.72 129.1,625.02 129.63,626.42 130.15,625.15 130.67,625.04 131.19,625.61 131.71,625.47 132.24,623.68 132.76,624.18 133.28,624.51 133.8,624.82 134.32,625.28 134.85,625.22 135.37,624.57 135.89,625.52 136.41,625.14 136.93,623.99 137.46,625.8 137.98,625.49 138.5,623.9 139.02,624.77 139.55,624.89 140.07,625.63 140.59,626.09 141.11,624.59 141.63,627.03 142.16,625.26 142.68,626 143.2,625.83 143.72,627.16 144.24,625.44 144.77,625.73 145.29,626.03 145.81,626.06 146.33,627.26 146.85,626.43 147.38,626.35 147.9,626.8 148.42,628.81 148.94,627.04 149.46,627.02 149.99,627.89 150.51,627.27 151.03,626.61 151.55,627.58 152.07,626.82 152.6,628.08 153.12,628.3 153.64,627.8 154.16,628.62 154.69,629.23 155.21,628.08 155.73,628.4 156.25,628.15 156.77,629.16 157.3,629 157.82,628.54 158.34,629.25 158.86,629.19 159.38,629.02 159.91,629.77 160.43,629.35 160.95,630.62 161.47,629.6 161.99,628.45 162.52,629.91 163.04,630.76 163.56,631.72 164.08,631.64 164.6,631.3 165.13,631.8 165.65,631.22 166.17,631.64 166.69,631.46 167.22,632.27 167.74,631.84 168.26,631.69 168.78,633.3 169.3,633.01 169.83,633.22 170.35,633.4 170.87,632.84 171.39,633.96 171.91,634.5 172.44,634.98 172.96,635.27 173.48,634.62 174,634.21 174.52,634.93 175.05,635.66 175.57,635.47 176.09,636.13 176.61,635.15 177.13,635.9 177.66,635.27 178.18,636.05 178.7,636.74 179.29,637.91 179.88,637.96 180.46,638.88 181.05,639.52 181.64,639.84 182.23,639.89 182.81,640.89 183.4,640.92 183.99,642 184.57,643.34 185.16,643.61 185.75,643.31 186.34,644.37 186.92,645.14 187.51,645.93 188.1,646.28 188.69,646.77 189.27,647.67 189.86,648.12 190.45,648.58 191.04,649.67 191.62,649.95 192.21,650.71 192.8,651.26 193.38,651.94 193.97,652.43 194.56,653.29 195.15,653.56 195.73,655.46 196.32,656.46 196.91,658.09 197.5,658.95 198.08,660.04 198.67,660.82 199.26,661.97 199.85,663.96 200.43,664.36 201.02,666.18 201.61,666.96 202.19,668.63 202.78,669.54 203.37,671.04 203.96,672.7 204.54,673.2 205.13,674.72 205.72,675.86 206.31,676.77 206.89,677.71 207.48,678.03 208.07,680.35 208.66,681.18 209.24,682.37 209.83,682.61 210.42,684.2 211,685.35 211.59,686 212.18,687.17 212.77,688.04 213.35,689.8 213.94,690.3 214.53,691.12 215.12,692.58 215.7,692.95 216.29,694.47 216.88,695.75 217.47,696.65 218.05,697.69 218.64,698.92 219.23,700.89 219.81,701.93 220.4,703.68 220.99,705.3 221.58,706.69 222.23,707.75 222.88,709.68 223.53,711.08 224.19,712.21 224.84,713.98 225.49,715.98 226.15,717.51 226.8,718.93 227.45,721.21 228.1,721.96 228.76,723.95 229.41,724.09 230.06,724.11 230.71,723.58 231.37,722.82 232.02,722.45 232.67,721.69 233.32,721.95 233.98,721.57 234.63,720.21 235.28,719.62 235.93,719.26 236.59,718.18 237.24,717.05 237.89,716.45 238.54,716.36 239.2,717.53 239.85,719.03 240.5,720.4 241.15,722.07 241.81,723.78 242.46,725.88 243.11,727.7 243.77,729.66 244.42,731.21 245.07,733.14 245.72,735.99 246.38,737.29 247.03,739.21 247.68,740.95 248.33,742.74 248.99,744.25 249.64,746.02 250.29,747.75 250.94,749.26 251.6,750.8 252.25,752.69 252.9,752.93 253.55,753.09 254.21,753.99 254.86,754.02 255.51,755.15 256.16,755.25 256.82,756.11 257.47,756.06 258.12,756.66 258.78,757.08 259.43,757.62 260.08,758.21 260.73,758.53 261.39,759.3 262.04,760.26 262.69,759.52 263.34,759.44 264,760.31 264.65,759.31 265.3,759.71 265.95,759.41 266.61,759.84 267.26,759.73 267.91,760.07 268.56,759.92 269.22,760.35 269.87,759.84 270.52,760.07 271.17,760.18 271.83,760.24 272.48,760.34 273.13,760.09 273.78,760.15 274.44,760.24 275.09,759.77 275.74,760.53 276.4,760.37 277.05,760.67 277.7,760.39 278.35,760.39 279.01,760.91 279.66,760.3 280.31,761.05 280.96,760.63 281.62,760.59 282.27,760.92 282.92,760.16 283.57,760.55 284.23,761.03 284.88,760.55 285.53,760.58 286.18,760.9 286.84,761.01 287.49,760.51 288.14,760.13 288.79,760.79 289.45,760.25 290.1,761.44 290.75,761.45 291.41,760.96 292.06,761.21 292.71,760.98 293.36,760.53 294.02,761.43 294.67,761.02 295.32,761.19 295.97,761.6 296.63,761.31 297.28,761.62 297.93,761.38 298.58,760.9 299.24,761.06 299.89,761.09 300.54,761.4 301.19,761.62 301.85,760.88 302.5,761.53 303.15,761.43 303.8,761.28 304.46,761.67 305.11,761.52 305.76,761.7 306.41,761.62 307.07,761.49 307.72,762.19 308.37,761.79 309.03,762.02 309.68,761.95 310.33,761.81 310.98,761.51 311.64,762.61 312.29,761.5 312.94,762.23 313.59,762.34 314.25,762.33 314.9,762.09 315.55,762.13 316.2,762.74 316.86,762.74 317.51,761.99 318.16,762.35 318.81,762.92" fill="none" stroke="#f7941d" stroke-width="1" stroke-linejoin="round"/>
<polyline points="90.6,625 94.19,624.55 97.78,624.89 101.37,625.16 104.96,624.72 108.55,625.29 112.14,624.32 115.73,624.82 119.31,625.01 122.9,624.76 126.49,625.67 127.02,624.65 127.54,624.39 128.06,624.39 128.58,624.66 129.1,625.59 129.63,624.78 130.15,625.76 130.67,624.84 131.19,625.32 131.71,625.4 132.24,624.51 132.76,623.79 133.28,624.07 133.8,625.17 134.32,625.19 134.85,625.51 135.37,625.29 135.89,624.88 136.41,624.69 136.93,625.21 137.46,624.95 137.98,625.63 138.5,625.26 139.02,624.19 139.55,624.17 140.07,624.74 140.59,625.06 141.11,625.06 141.63,625.66 142.16,626.01 142.68,625.11 143.2,626.12 143.72,625.32 144.24,626.31 144.77,625.75 145.29,624.83 145.81,625.51 146.33,625.99 146.85,625.85 147.38,626.97 147.9,625.6 148.42,626.67 148.94,626.77 149.46,626.78 149.99,626.41 150.51,626.92 151.03,626.96 151.55,626.41 152.07,626.64 152.6,626.11 153.12,626.43 153.64,626.27 154.16,627.69 154.69,627.06 155.21,626.88 155.73,626.74 156.25,627.51 156.77,627.05 157.3,626.85 157.82,628.08 158.34,628.11 158.86,628.16 159.38,627.63 159.91,628.5 160.43,628.02 160.95,628.47 161.47,628.94 161.99,629.56 162.52,627.41 163.04,628.15 163.56,628.44 164.08,630.11 164.6,628.88 165.13,629.75 165.65,630.43 166.17,630.21 166.69,630.32 167.22,629.3 167.74,630.3 168.26,630.58 168.78,630.46 169.3,630.62 169.83,631.77 170.35,630.57 170.87,631.27 171.39,630.99 171.91,630.77 172.44,632.09 172.96,630.75 173.48,632.42 174,632.57 174.52,633.83 175.05,631.95 175.57,633.02 176.09,633.4 176.61,633.57 177.13,633.09 177.66,632.96 178.18,633.34 178.7,634.01 179.29,634.35 179.88,634.95 180.46,634.72 181.05,634.53 181.64,635.01 182.23,634.4 182.81,635.04 183.4,636.02 183.99,636.3 184.57,636.95 185.16,637.83 185.75,638.23 186.34,639.19 186.92,639.33 187.51,639.41 188.1,640.48 188.69,640.28 189.27,641.49 189.86,641.71 190.45,642.36 191.04,643.29 191.62,644.01 192.21,644.02 192.8,644.45 193.38,645.28 193.97,645.87 194.56,647.34 195.15,647.14 195.73,647.15 196.32,647.66 196.91,648.44 197.5,649.38 198.08,649.37 198.67,650.32 199.26,650.5 199.85,650.83 200.43,652.18 201.02,652.51 201.61,653.1 202.19,653.93 202.78,654.9 203.37,655.52 203.96,656.38 204.54,657.76 205.13,658.48 205.72,658.97 206.31,660.57 206.89,661.27 207.48,662.67 208.07,663.13 208.66,663.05 209.24,663.87 209.83,665.59 210.42,665.72 211,667.04 211.59,667.95 212.18,669 212.77,669.45 213.35,671.21 213.94,671.1 214.53,672.39 215.12,673.34 215.7,675.17 216.29,675.11 216.88,676.97 217.47,678.5 218.05,679.9 218.64,680.93 219.23,682.77 219.81,683.83 220.4,685.01 220.99,686.84 221.58,688.15 222.23,689.11 222.88,691.18 223.53,692.66 224.19,693.76 224.84,695.11 225.49,697.09 226.15,699.79 226.8,700.84 227.45,703.72 228.1,705.38 228.76,707.06 229.41,708.82 230.06,710.78 230.71,712.77 231.37,715.35 232.02,717.2 232.67,718.66 233.32,720.43 233.98,722.33 234.63,723.67 235.28,724.56 235.93,725.52 236.59,727.78 237.24,727.74 237.89,728.76 238.54,730.21 239.2,731.74 239.85,732.71 240.5,733.85 241.15,734.43 241.81,736.07 242.46,737.09 243.11,738.13 243.77,739.19 244.42,740.24 245.07,741.36 245.72,741.9 246.38,742.32 247.03,743.13 247.68,744.73 248.33,745.13 248.99,745.84 249.64,746.45 250.29,747.61 250.94,748.43 251.6,749.15 252.25,749.85 252.9,750.65 253.55,751.54 254.21,752.06 254.86,752.62 255.51,753.48 256.16,754.03 256.82,754.71 257.47,755.75 258.12,755.47 258.78,756.67 259.43,757.08 260.08,757.43 260.73,758.54 261.39,759.53 262.04,759.62 262.69,759.99 263.34,760.03 264,759.88 264.65,760.45 265.3,760.24 265.95,760.49 266.61,760.28 267.26,760.73 267.91,760.79 268.56,761.01 269.22,761.47 269.87,761.59 270.52,761.93 271.17,762.14 271.83,761.38 272.48,762.42 273.13,761.96 273.78,762.41 274.44,762.69 275.09,762.38 275.74,762.17 276.4,762.17 277.05,762.13 277.7,762.49 278.35,762.37 279.01,762.7 279.66,762.76 280.31,762.36 280.96,762.32 281.62,762.66 282.27,762.62 282.92,762.81 283.57,762.65 284.23,763.01 284.88,762.66 285.53,762.73 286.18,762.79 286.84,762.18 287.49,763 288.14,762.73 288.79,762.63 289.45,763.07 290.1,762.61 290.75,763.14 291.41,762.79 292.06,762.88 292.71,762.53 293.36,763.44 294.02,762.55 294.67,762.22 295.32,762.85 295.97,763.35 296.63,763.03 297.28,763.44 297.93,762.88 298.58,763.08 299.24,763.48 299.89,762.67 300.54,763.26 301.19,762.78 301.85,763.33 302.5,763.36 303.15,763.62 303.8,763.2 304.46,763.36 305.11,763.6 305.76,762.85 306.41,763.42 307.07,762.82 307.72,763.33 308.37,763.95 309.03,763.89 309.68,763.41 310.33,763.02 310.98,763.58 311.64,763.82 312.29,763.79 312.94,763.28 313.59,763.17 314.25,763.68 314.9,763.91 315.55,764 316.2,763.47 316.86,764.02 317.51,763.74 318.16,763.82 318.81,763.28" fill="none" stroke="#29abe2" stroke-width="1.1" stroke-linejoin="round"/>
<polyline points="90.6,625 94.19,625.26 97.78,625.04 101.37,624.85 104.96,624.83 108.55,625.2 112.14,625.43 115.73,625.6 119.31,625.72 122.9,625.97 126.49,626.66 127.02,626.8 127.54,625.18 128.06,625.82 128.58,625.22 129.1,626.61 129.63,625.66 130.15,625.83 130.67,625.45 131.19,625.98 131.71,625.32 132.24,625.3 132.76,625.11 133.28,627.08 133.8,626.58 134.32,625.1 134.85,624.44 135.37,625.63 135.89,626.12 136.41,625.25 136.93,625.83 137.46,625.84 137.98,625.2 138.5,625.94 139.02,626.96 139.55,626.39 140.07,625.66 140.59,626.5 141.11,625.82 141.63,626.36 142.16,625.74 142.68,626.36 143.2,625.56 143.72,626.29 144.24,626.71 144.77,625.81 145.29,625.91 145.81,626.05 146.33,627 146.85,626.4 147.38,625.61 147.9,626.01 148.42,626.86 148.94,625.47 149.46,625.96 149.99,626.23 150.51,626.48 151.03,626.31 151.55,625.96 152.07,627.58 152.6,626.47 153.12,627 153.64,626.04 154.16,626.24 154.69,626.3 155.21,626.09 155.73,625.38 156.25,625.28 156.77,627.07 157.3,625.36 157.82,626.31 158.34,627.36 158.86,625.65 159.38,626.86 159.91,626.81 160.43,626.05 160.95,626.8 161.47,626.72 161.99,626.23 162.52,626.86 163.04,628.68 163.56,627.52 164.08,628.19 164.6,628.27 165.13,628.41 165.65,627.69 166.17,627.86 166.69,628.18 167.22,627.57 167.74,628.21 168.26,628.57 168.78,627.95 169.3,628.34 169.83,628.64 170.35,628.27 170.87,628.57 171.39,629.03 171.91,629.24 172.44,629.64 172.96,630.05 173.48,628.3 174,629.57 174.52,631.21 175.05,629.92 175.57,630.55 176.09,630.82 176.61,630.58 177.13,630.33 177.66,630.02 178.18,630.87 178.7,630.93 179.29,630.82 179.88,631.94 180.46,631.82 181.05,631.92 181.64,631.19 182.23,631.81 182.81,632.21 183.4,632.28 183.99,632.56 184.57,632.15 185.16,632.42 185.75,632.36 186.34,632.45 186.92,632.54 187.51,632.82 188.1,633.49 188.69,633.53 189.27,634.01 189.86,634.31 190.45,634.2 191.04,635.28 191.62,635.16 192.21,635.55 192.8,636.03 193.38,636.58 193.97,636.74 194.56,637.17 195.15,637.8 195.73,638.13 196.32,638.7 196.91,638.62 197.5,637.89 198.08,639.52 198.67,639.13 199.26,639.72 199.85,639.78 200.43,640.17 201.02,640.83 201.61,641.45 202.19,642.56 202.78,643.57 203.37,644.58 203.96,645.31 204.54,647.13 205.13,647.57 205.72,648.51 206.31,649.72 206.89,650.42 207.48,650.78 208.07,652.42 208.66,652.83 209.24,653.85 209.83,655.34 210.42,656.34 211,657.18 211.59,658.24 212.18,658.32 212.77,660.01 213.35,661.05 213.94,662.3 214.53,663.21 215.12,664.21 215.7,664.97 216.29,665.56 216.88,666.14 217.47,667.29 218.05,668.47 218.64,668.21 219.23,669.43 219.81,670.27 220.4,671.46 220.99,671.82 221.58,672.62 222.23,673.39 222.88,674.4 223.53,675.15 224.19,676.12 224.84,676.11 225.49,678.43 226.15,678.68 226.8,680.26 227.45,680.42 228.1,681.43 228.76,682.49 229.41,683.11 230.06,685.09 230.71,686.88 231.37,688 232.02,689.61 232.67,691.54 233.32,692.1 233.98,694.15 234.63,695.7 235.28,697.69 235.93,698.25 236.59,700.14 237.24,701.54 237.89,703.05 238.54,705.13 239.2,706.5 239.85,707.59 240.5,709.4 241.15,710.46 241.81,712.54 242.46,713.63 243.11,714.89 243.77,715.71 244.42,715.87 245.07,715.92 245.72,716.39 246.38,716.57 247.03,716.78 247.68,717.88 248.33,720.41 248.99,722.72 249.64,725.51 250.29,728.33 250.94,730.83 251.6,733.2 252.25,735.78 252.9,737.2 253.55,738.5 254.21,739.39 254.86,741.25 255.51,742.62 256.16,743.54 256.82,745.02 257.47,746.45 258.12,747.86 258.78,749.1 259.43,750.23 260.08,751.48 260.73,753.23 261.39,754.97 262.04,754.78 262.69,756.06 263.34,756.6 264,757.61 264.65,758.72 265.3,759.28 265.95,760.03 266.61,760.55 267.26,761.15 267.91,761.89 268.56,762.65 269.22,762.99 269.87,764.1 270.52,764.58 271.17,765.08 271.83,765.64 272.48,765.75 273.13,765.25 273.78,765.73 274.44,765.46 275.09,766.05 275.74,766.47 276.4,766.33 277.05,766.27 277.7,766.67 278.35,766.18 279.01,766.53 279.66,766.68 280.31,767.08 280.96,766.36 281.62,766.93 282.27,767.45 282.92,766.91 283.57,767.54 284.23,767.28 284.88,767.91 285.53,767.93 286.18,767.53 286.84,768.15 287.49,768.21 288.14,767.68 288.79,767.93 289.45,768.37 290.1,767.54 290.75,767.82 291.41,767.57 292.06,767.99 292.71,767.68 293.36,767.6 294.02,768.21 294.67,767.79 295.32,767.62 295.97,767.9 296.63,767.36 297.28,767.48 297.93,767.81 298.58,767.68 299.24,767.63 299.89,767.33 300.54,767.58 301.19,767.34 301.85,767.47 302.5,767.45 303.15,766.92 303.8,766.73 304.46,766.98 305.11,767.18 305.76,767.32 306.41,767.15 307.07,767.51 307.72,766.65 308.37,767.04 309.03,767.3 309.68,767.19 310.33,766.84 310.98,766.83 311.64,767.14 312.29,766.87 312.94,767.6 313.59,766.93 314.25,766.42 314.9,766.65 315.55,767.08 316.2,766.52 316.86,766.8 317.51,766.93 318.16,766.59 318.81,766.78" fill="none" stroke="#b03a48" stroke-width="1.4" stroke-linejoin="round"/>
</g>
<line x1="219.4" y1="583.4" x2="241.7" y2="583.4" stroke="#e5398e" stroke-width="1.1" stroke-opacity="0.8"/>
<text x="265.7" y="587.2" font-size="10.6" text-anchor="middle">0.125</text>
<text x="342" y="587.2" font-size="10.6" text-anchor="middle">0.004</text>
<line x1="219.4" y1="599.2" x2="241.7" y2="599.2" stroke="#8cc63f" stroke-width="1.1" stroke-opacity="0.8"/>
<text x="265.7" y="603" font-size="10.6" text-anchor="middle">0.25</text>
<text x="342" y="603" font-size="10.6" text-anchor="middle">0.008</text>
<line x1="219.4" y1="615" x2="241.7" y2="615" stroke="#9b9ba6" stroke-width="1.1" stroke-opacity="0.8"/>
<text x="265.7" y="618.8" font-size="10.6" text-anchor="middle">0.5</text>
<text x="342" y="618.8" font-size="10.6" text-anchor="middle">0.015</text>
<line x1="219.4" y1="630.8" x2="241.7" y2="630.8" stroke="#f7941d" stroke-width="1.1" stroke-opacity="0.8"/>
<text x="265.7" y="634.6" font-size="10.6" text-anchor="middle">0.75</text>
<text x="342" y="634.6" font-size="10.6" text-anchor="middle">0.023</text>
<line x1="219.4" y1="646.6" x2="241.7" y2="646.6" stroke="#29abe2" stroke-width="1.1" stroke-opacity="0.8"/>
<text x="265.7" y="650.4" font-size="10.6" text-anchor="middle">1</text>
<text x="342" y="650.4" font-size="10.6" text-anchor="middle">0.03</text>
<line x1="219.4" y1="662.4" x2="241.7" y2="662.4" stroke="#b03a48" stroke-width="1.1" stroke-opacity="0.8"/>
<text x="265.7" y="666.2" font-size="10.6" text-anchor="middle">2</text>
<text x="342" y="666.2" font-size="10.6" text-anchor="middle">0.06</text>
<text x="265.7" y="557.5" font-size="10.6" text-anchor="middle">p53<tspan font-size="5.3" dy="-4.77">4M</tspan><tspan dy="4.77"> ΔTAD</tspan></text>
<text x="265.7" y="570.8" font-size="10.6" text-anchor="middle">(μM)</text>
<text x="301.7" y="567" font-size="14" text-anchor="middle">+</text>
<text x="342" y="557.5" font-size="10.6" text-anchor="middle">400-bp 3× p21</text>
<text x="342" y="570.8" font-size="10.6" text-anchor="middle">DNA (μM)</text>
<text x="512" y="258" font-size="14.2" text-anchor="middle">p53<tspan font-size="7.1" dy="-6.39">4M</tspan><tspan dy="6.39"> ΔTAD</tspan> + 400-bp random DNA</text>
<text x="372" y="282" font-size="16">(ii)</text>
<rect x="409" y="422.3" width="27" height="47.9" fill="#9dc4b0" stroke="#222" stroke-width="1.4"/>
<rect x="450.55" y="421.3" width="27" height="48.9" fill="#9dc4b0" stroke="#222" stroke-width="1.4"/>
<rect x="492.1" y="404.8" width="27" height="65.4" fill="#9dc4b0" stroke="#222" stroke-width="1.4"/>
<rect x="533.65" y="368.2" width="27" height="102" fill="#9dc4b0" stroke="#222" stroke-width="1.4"/>
<rect x="575.2" y="369.2" width="27" height="101" fill="#9dc4b0" stroke="#222" stroke-width="1.4"/>
<circle cx="419.5" cy="421" r="1.9" fill="#111" stroke="none" stroke-width="1"/>
<circle cx="424.5" cy="420.5" r="1.9" fill="#111" stroke="none" stroke-width="1"/>
<circle cx="427.5" cy="421.5" r="1.9" fill="#111" stroke="none" stroke-width="1"/>
<circle cx="421.5" cy="424.5" r="1.9" fill="#111" stroke="none" stroke-width="1"/>
<circle cx="422.5" cy="422" r="1.9" fill="#111" stroke="none" stroke-width="1"/>
<circle cx="464.05" cy="412" r="1.9" fill="#111" stroke="none" stroke-width="1"/>
<circle cx="464.05" cy="414.5" r="1.9" fill="#111" stroke="none" stroke-width="1"/>
<circle cx="464.05" cy="419" r="1.9" fill="#111" stroke="none" stroke-width="1"/>
<circle cx="464.05" cy="429" r="1.9" fill="#111" stroke="none" stroke-width="1"/>
<circle cx="464.05" cy="433.9" r="1.9" fill="#111" stroke="none" stroke-width="1"/>
<circle cx="505.6" cy="378.4" r="1.9" fill="#111" stroke="none" stroke-width="1"/>
<circle cx="505.6" cy="409.8" r="1.9" fill="#111" stroke="none" stroke-width="1"/>
<circle cx="503.6" cy="417.4" r="1.9" fill="#111" stroke="none" stroke-width="1"/>
<circle cx="507.6" cy="417.4" r="1.9" fill="#111" stroke="none" stroke-width="1"/>
<circle cx="505.6" cy="426" r="1.9" fill="#111" stroke="none" stroke-width="1"/>
<circle cx="547.15" cy="353.4" r="1.9" fill="#111" stroke="none" stroke-width="1"/>
<circle cx="547.15" cy="355.8" r="1.9" fill="#111" stroke="none" stroke-width="1"/>
<circle cx="547.15" cy="359" r="1.9" fill="#111" stroke="none" stroke-width="1"/>
<circle cx="547.15" cy="363.9" r="1.9" fill="#111" stroke="none" stroke-width="1"/>
<circle cx="547.15" cy="378.4" r="1.9" fill="#111" stroke="none" stroke-width="1"/>
<circle cx="547.15" cy="380.8" r="1.9" fill="#111" stroke="none" stroke-width="1"/>
<circle cx="547.15" cy="396.9" r="1.9" fill="#111" stroke="none" stroke-width="1"/>
<circle cx="588.7" cy="356.6" r="1.9" fill="#111" stroke="none" stroke-width="1"/>
<circle cx="588.7" cy="360.6" r="1.9" fill="#111" stroke="none" stroke-width="1"/>
<circle cx="588.7" cy="364.7" r="1.9" fill="#111" stroke="none" stroke-width="1"/>
<circle cx="588.7" cy="379.7" r="1.9" fill="#111" stroke="none" stroke-width="1"/>
<circle cx="590.7" cy="378.7" r="1.9" fill="#111" stroke="none" stroke-width="1"/>
<circle cx="588.7" cy="402.1" r="1.9" fill="#111" stroke="none" stroke-width="1"/>
<line x1="422.5" y1="419.5" x2="422.5" y2="423.5" stroke="#111" stroke-width="1.3"/>
<line x1="415.5" y1="419.5" x2="429.5" y2="419.5" stroke="#111" stroke-width="1.5"/>
<line x1="415.5" y1="423.5" x2="429.5" y2="423.5" stroke="#111" stroke-width="1.5"/>
<line x1="464.05" y1="417.4" x2="464.05" y2="423.9" stroke="#111" stroke-width="1.3"/>
<line x1="457.05" y1="417.4" x2="471.05" y2="417.4" stroke="#111" stroke-width="1.5"/>
<line x1="457.05" y1="423.9" x2="471.05" y2="423.9" stroke="#111" stroke-width="1.5"/>
<line x1="505.6" y1="395.8" x2="505.6" y2="417.4" stroke="#111" stroke-width="1.3"/>
<line x1="498.6" y1="395.8" x2="512.6" y2="395.8" stroke="#111" stroke-width="1.5"/>
<line x1="498.6" y1="417.4" x2="512.6" y2="417.4" stroke="#111" stroke-width="1.5"/>
<line x1="547.15" y1="362.6" x2="547.15" y2="373.9" stroke="#111" stroke-width="1.3"/>
<line x1="540.15" y1="362.6" x2="554.15" y2="362.6" stroke="#111" stroke-width="1.5"/>
<line x1="540.15" y1="373.9" x2="554.15" y2="373.9" stroke="#111" stroke-width="1.5"/>
<line x1="588.7" y1="363.9" x2="588.7" y2="374.7" stroke="#111" stroke-width="1.3"/>
<line x1="581.7" y1="363.9" x2="595.7" y2="363.9" stroke="#111" stroke-width="1.5"/>
<line x1="581.7" y1="374.7" x2="595.7" y2="374.7" stroke="#111" stroke-width="1.5"/>
<line x1="389" y1="470.2" x2="617" y2="470.2" stroke="#231f20" stroke-width="1.5"/>
<line x1="422.5" y1="470.2" x2="422.5" y2="475.2" stroke="#231f20" stroke-width="1.5"/>
<line x1="464.05" y1="470.2" x2="464.05" y2="475.2" stroke="#231f20" stroke-width="1.5"/>
<line x1="505.6" y1="470.2" x2="505.6" y2="475.2" stroke="#231f20" stroke-width="1.5"/>
<line x1="547.15" y1="470.2" x2="547.15" y2="475.2" stroke="#231f20" stroke-width="1.5"/>
<line x1="588.7" y1="470.2" x2="588.7" y2="475.2" stroke="#231f20" stroke-width="1.5"/>
<line x1="394.8" y1="321.9" x2="394.8" y2="470.2" stroke="#231f20" stroke-width="1.5"/>
<line x1="389.3" y1="322.6" x2="394.8" y2="322.6" stroke="#231f20" stroke-width="1.4"/>
<line x1="390.6" y1="356.99" x2="394.8" y2="356.99" stroke="#231f20" stroke-width="1.1"/>
<line x1="390.6" y1="348.33" x2="394.8" y2="348.33" stroke="#231f20" stroke-width="1.1"/>
<line x1="390.6" y1="342.18" x2="394.8" y2="342.18" stroke="#231f20" stroke-width="1.1"/>
<line x1="390.6" y1="337.41" x2="394.8" y2="337.41" stroke="#231f20" stroke-width="1.1"/>
<line x1="390.6" y1="333.51" x2="394.8" y2="333.51" stroke="#231f20" stroke-width="1.1"/>
<line x1="390.6" y1="330.22" x2="394.8" y2="330.22" stroke="#231f20" stroke-width="1.1"/>
<line x1="390.6" y1="327.37" x2="394.8" y2="327.37" stroke="#231f20" stroke-width="1.1"/>
<line x1="390.6" y1="324.85" x2="394.8" y2="324.85" stroke="#231f20" stroke-width="1.1"/>
<line x1="389.3" y1="371.8" x2="394.8" y2="371.8" stroke="#231f20" stroke-width="1.4"/>
<line x1="390.6" y1="406.19" x2="394.8" y2="406.19" stroke="#231f20" stroke-width="1.1"/>
<line x1="390.6" y1="397.53" x2="394.8" y2="397.53" stroke="#231f20" stroke-width="1.1"/>
<line x1="390.6" y1="391.38" x2="394.8" y2="391.38" stroke="#231f20" stroke-width="1.1"/>
<line x1="390.6" y1="386.61" x2="394.8" y2="386.61" stroke="#231f20" stroke-width="1.1"/>
<line x1="390.6" y1="382.71" x2="394.8" y2="382.71" stroke="#231f20" stroke-width="1.1"/>
<line x1="390.6" y1="379.42" x2="394.8" y2="379.42" stroke="#231f20" stroke-width="1.1"/>
<line x1="390.6" y1="376.57" x2="394.8" y2="376.57" stroke="#231f20" stroke-width="1.1"/>
<line x1="390.6" y1="374.05" x2="394.8" y2="374.05" stroke="#231f20" stroke-width="1.1"/>
<line x1="389.3" y1="421" x2="394.8" y2="421" stroke="#231f20" stroke-width="1.4"/>
<line x1="390.6" y1="455.39" x2="394.8" y2="455.39" stroke="#231f20" stroke-width="1.1"/>
<line x1="390.6" y1="446.73" x2="394.8" y2="446.73" stroke="#231f20" stroke-width="1.1"/>
<line x1="390.6" y1="440.58" x2="394.8" y2="440.58" stroke="#231f20" stroke-width="1.1"/>
<line x1="390.6" y1="435.81" x2="394.8" y2="435.81" stroke="#231f20" stroke-width="1.1"/>
<line x1="390.6" y1="431.91" x2="394.8" y2="431.91" stroke="#231f20" stroke-width="1.1"/>
<line x1="390.6" y1="428.62" x2="394.8" y2="428.62" stroke="#231f20" stroke-width="1.1"/>
<line x1="390.6" y1="425.77" x2="394.8" y2="425.77" stroke="#231f20" stroke-width="1.1"/>
<line x1="390.6" y1="423.25" x2="394.8" y2="423.25" stroke="#231f20" stroke-width="1.1"/>
<line x1="389.3" y1="470.2" x2="394.8" y2="470.2" stroke="#231f20" stroke-width="1.4"/>
<text x="387.3" y="326.74" font-size="11.5" text-anchor="end">10<tspan font-size="5.98" dy="-4.6">1</tspan></text>
<text x="387.3" y="375.94" font-size="11.5" text-anchor="end">10<tspan font-size="5.98" dy="-4.6">0</tspan></text>
<text x="387.3" y="425.14" font-size="11.5" text-anchor="end">10<tspan font-size="5.98" dy="-4.6">-1</tspan></text>
<text x="387.3" y="474.34" font-size="11.5" text-anchor="end">10<tspan font-size="5.98" dy="-4.6">-2</tspan></text>
<text x="422.5" y="488.7" font-size="12.3" text-anchor="middle">0.25</text>
<text x="464.05" y="488.7" font-size="12.3" text-anchor="middle">0.5</text>
<text x="505.6" y="488.7" font-size="12.3" text-anchor="middle">0.75</text>
<text x="547.15" y="488.7" font-size="12.3" text-anchor="middle">1</text>
<text x="588.7" y="488.7" font-size="12.3" text-anchor="middle">2</text>
<line x1="422.9" y1="379.8" x2="462.4" y2="379.8" stroke="#231f20" stroke-width="1.4"/>
<text x="442.65" y="374" font-size="10.5" text-anchor="middle">ns</text>
<text x="442.65" y="393.5" font-size="10.5" text-anchor="middle">p = 0.7258</text>
<line x1="464.8" y1="348.4" x2="504.4" y2="348.4" stroke="#231f20" stroke-width="1.4"/>
<text x="484.6" y="342.7" font-size="10.5" text-anchor="middle">ns</text>
<text x="484.6" y="362" font-size="10.5" text-anchor="middle">p = 0.3040</text>
<line x1="506.6" y1="322.7" x2="547.4" y2="322.7" stroke="#231f20" stroke-width="1.4"/>
<polygon points="527,312.9 528.12,315.16 530.61,315.53 528.81,317.29 529.23,319.77 527,318.6 524.77,319.77 525.19,317.29 523.39,315.53 525.88,315.16" fill="#111"/>
<text x="527" y="334.8" font-size="10.5" text-anchor="middle">p = 0.0278</text>
<line x1="551" y1="296.1" x2="591.3" y2="296.1" stroke="#231f20" stroke-width="1.4"/>
<text x="571.15" y="289.7" font-size="10.5" text-anchor="middle">ns</text>
<text x="571.15" y="309.8" font-size="10.5" text-anchor="middle">p = 0.8910</text>
<text x="422.9" y="412.6" font-size="10.5" text-anchor="middle">n = 6</text>
<text x="464" y="406.5" font-size="10.5" text-anchor="middle">n = 6</text>
<text x="505" y="372.7" font-size="10.5" text-anchor="middle">n = 6</text>
<text x="547.7" y="347" font-size="10.5" text-anchor="middle">n = 6</text>
<text x="589.2" y="351.8" font-size="10.5" text-anchor="middle">n = 6</text>
<text x="514" y="502.2" font-size="14.3" text-anchor="middle">The concentration of p53<tspan font-size="7.15" dy="-6.44">4M</tspan><tspan dy="6.44"> ΔTAD</tspan> (μM)</text>
<text x="369" y="382" font-size="13.5" text-anchor="middle" transform="rotate(-90 369 382)">A<tspan font-size="8.37" dy="4.05">X</tspan><tspan dy="-4.05"> / A</tspan><tspan font-size="8.1" dy="4.86">488</tspan><tspan dy="-4.86"></tspan></text>
<text x="682.6" y="282" font-size="16">(iii)</text>
<rect x="728.3" y="415.3" width="27" height="54.9" fill="#fad2a2" stroke="#222" stroke-width="1.4"/>
<rect x="770" y="414.2" width="27" height="56" fill="#fad2a2" stroke="#222" stroke-width="1.4"/>
<rect x="811.7" y="404.8" width="27" height="65.4" fill="#fad2a2" stroke="#222" stroke-width="1.4"/>
<rect x="853.4" y="377.2" width="27" height="93" fill="#fad2a2" stroke="#222" stroke-width="1.4"/>
<rect x="895.1" y="375.4" width="27" height="94.8" fill="#fad2a2" stroke="#222" stroke-width="1.4"/>
<circle cx="741.8" cy="410.5" r="1.9" fill="#111" stroke="none" stroke-width="1"/>
<circle cx="741.8" cy="412.9" r="1.9" fill="#111" stroke="none" stroke-width="1"/>
<circle cx="741.8" cy="416.1" r="1.9" fill="#111" stroke="none" stroke-width="1"/>
<circle cx="741.8" cy="420.2" r="1.9" fill="#111" stroke="none" stroke-width="1"/>
<circle cx="738.8" cy="414" r="1.9" fill="#111" stroke="none" stroke-width="1"/>
<circle cx="744.8" cy="415" r="1.9" fill="#111" stroke="none" stroke-width="1"/>
<circle cx="783.5" cy="404" r="1.9" fill="#111" stroke="none" stroke-width="1"/>
<circle cx="783.5" cy="409.7" r="1.9" fill="#111" stroke="none" stroke-width="1"/>
<circle cx="783.5" cy="411.3" r="1.9" fill="#111" stroke="none" stroke-width="1"/>
<circle cx="780.5" cy="428.2" r="1.9" fill="#111" stroke="none" stroke-width="1"/>
<circle cx="786.5" cy="428.2" r="1.9" fill="#111" stroke="none" stroke-width="1"/>
<circle cx="825.2" cy="383.9" r="1.9" fill="#111" stroke="none" stroke-width="1"/>
<circle cx="825.2" cy="402.4" r="1.9" fill="#111" stroke="none" stroke-width="1"/>
<circle cx="825.2" cy="411.3" r="1.9" fill="#111" stroke="none" stroke-width="1"/>
<circle cx="822.2" cy="415.3" r="1.9" fill="#111" stroke="none" stroke-width="1"/>
<circle cx="828.2" cy="415.3" r="1.9" fill="#111" stroke="none" stroke-width="1"/>
<circle cx="866.9" cy="367.6" r="1.9" fill="#111" stroke="none" stroke-width="1"/>
<circle cx="866.9" cy="376.5" r="1.9" fill="#111" stroke="none" stroke-width="1"/>
<circle cx="866.9" cy="383.6" r="1.9" fill="#111" stroke="none" stroke-width="1"/>
<circle cx="864.9" cy="379" r="1.9" fill="#111" stroke="none" stroke-width="1"/>
<circle cx="868.9" cy="381" r="1.9" fill="#111" stroke="none" stroke-width="1"/>
<circle cx="908.6" cy="365.8" r="1.9" fill="#111" stroke="none" stroke-width="1"/>
<circle cx="908.6" cy="370" r="1.9" fill="#111" stroke="none" stroke-width="1"/>
<circle cx="908.6" cy="380.7" r="1.9" fill="#111" stroke="none" stroke-width="1"/>
<circle cx="908.6" cy="390" r="1.9" fill="#111" stroke="none" stroke-width="1"/>
<circle cx="905.6" cy="377" r="1.9" fill="#111" stroke="none" stroke-width="1"/>
<line x1="741.8" y1="412.9" x2="741.8" y2="417" stroke="#111" stroke-width="1.3"/>
<line x1="734.8" y1="412.9" x2="748.8" y2="412.9" stroke="#111" stroke-width="1.5"/>
<line x1="734.8" y1="417" x2="748.8" y2="417" stroke="#111" stroke-width="1.5"/>
<line x1="783.5" y1="410.5" x2="783.5" y2="417.7" stroke="#111" stroke-width="1.3"/>
<line x1="776.5" y1="410.5" x2="790.5" y2="410.5" stroke="#111" stroke-width="1.5"/>
<line x1="776.5" y1="417.7" x2="790.5" y2="417.7" stroke="#111" stroke-width="1.5"/>
<line x1="825.2" y1="397.9" x2="825.2" y2="411.3" stroke="#111" stroke-width="1.3"/>
<line x1="818.2" y1="397.9" x2="832.2" y2="397.9" stroke="#111" stroke-width="1.5"/>
<line x1="818.2" y1="411.3" x2="832.2" y2="411.3" stroke="#111" stroke-width="1.5"/>
<line x1="866.9" y1="374.7" x2="866.9" y2="380.7" stroke="#111" stroke-width="1.3"/>
<line x1="859.9" y1="374.7" x2="873.9" y2="374.7" stroke="#111" stroke-width="1.5"/>
<line x1="859.9" y1="380.7" x2="873.9" y2="380.7" stroke="#111" stroke-width="1.5"/>
<line x1="908.6" y1="371.8" x2="908.6" y2="378.2" stroke="#111" stroke-width="1.3"/>
<line x1="901.6" y1="371.8" x2="915.6" y2="371.8" stroke="#111" stroke-width="1.5"/>
<line x1="901.6" y1="378.2" x2="915.6" y2="378.2" stroke="#111" stroke-width="1.5"/>
<line x1="708.2" y1="470.2" x2="936.3" y2="470.2" stroke="#231f20" stroke-width="1.5"/>
<line x1="741.8" y1="470.2" x2="741.8" y2="475.2" stroke="#231f20" stroke-width="1.5"/>
<line x1="783.5" y1="470.2" x2="783.5" y2="475.2" stroke="#231f20" stroke-width="1.5"/>
<line x1="825.2" y1="470.2" x2="825.2" y2="475.2" stroke="#231f20" stroke-width="1.5"/>
<line x1="866.9" y1="470.2" x2="866.9" y2="475.2" stroke="#231f20" stroke-width="1.5"/>
<line x1="908.6" y1="470.2" x2="908.6" y2="475.2" stroke="#231f20" stroke-width="1.5"/>
<line x1="713.9" y1="321.9" x2="713.9" y2="470.2" stroke="#231f20" stroke-width="1.5"/>
<line x1="708.4" y1="322.6" x2="713.9" y2="322.6" stroke="#231f20" stroke-width="1.4"/>
<line x1="709.7" y1="356.99" x2="713.9" y2="356.99" stroke="#231f20" stroke-width="1.1"/>
<line x1="709.7" y1="348.33" x2="713.9" y2="348.33" stroke="#231f20" stroke-width="1.1"/>
<line x1="709.7" y1="342.18" x2="713.9" y2="342.18" stroke="#231f20" stroke-width="1.1"/>
<line x1="709.7" y1="337.41" x2="713.9" y2="337.41" stroke="#231f20" stroke-width="1.1"/>
<line x1="709.7" y1="333.51" x2="713.9" y2="333.51" stroke="#231f20" stroke-width="1.1"/>
<line x1="709.7" y1="330.22" x2="713.9" y2="330.22" stroke="#231f20" stroke-width="1.1"/>
<line x1="709.7" y1="327.37" x2="713.9" y2="327.37" stroke="#231f20" stroke-width="1.1"/>
<line x1="709.7" y1="324.85" x2="713.9" y2="324.85" stroke="#231f20" stroke-width="1.1"/>
<line x1="708.4" y1="371.8" x2="713.9" y2="371.8" stroke="#231f20" stroke-width="1.4"/>
<line x1="709.7" y1="406.19" x2="713.9" y2="406.19" stroke="#231f20" stroke-width="1.1"/>
<line x1="709.7" y1="397.53" x2="713.9" y2="397.53" stroke="#231f20" stroke-width="1.1"/>
<line x1="709.7" y1="391.38" x2="713.9" y2="391.38" stroke="#231f20" stroke-width="1.1"/>
<line x1="709.7" y1="386.61" x2="713.9" y2="386.61" stroke="#231f20" stroke-width="1.1"/>
<line x1="709.7" y1="382.71" x2="713.9" y2="382.71" stroke="#231f20" stroke-width="1.1"/>
<line x1="709.7" y1="379.42" x2="713.9" y2="379.42" stroke="#231f20" stroke-width="1.1"/>
<line x1="709.7" y1="376.57" x2="713.9" y2="376.57" stroke="#231f20" stroke-width="1.1"/>
<line x1="709.7" y1="374.05" x2="713.9" y2="374.05" stroke="#231f20" stroke-width="1.1"/>
<line x1="708.4" y1="421" x2="713.9" y2="421" stroke="#231f20" stroke-width="1.4"/>
<line x1="709.7" y1="455.39" x2="713.9" y2="455.39" stroke="#231f20" stroke-width="1.1"/>
<line x1="709.7" y1="446.73" x2="713.9" y2="446.73" stroke="#231f20" stroke-width="1.1"/>
<line x1="709.7" y1="440.58" x2="713.9" y2="440.58" stroke="#231f20" stroke-width="1.1"/>
<line x1="709.7" y1="435.81" x2="713.9" y2="435.81" stroke="#231f20" stroke-width="1.1"/>
<line x1="709.7" y1="431.91" x2="713.9" y2="431.91" stroke="#231f20" stroke-width="1.1"/>
<line x1="709.7" y1="428.62" x2="713.9" y2="428.62" stroke="#231f20" stroke-width="1.1"/>
<line x1="709.7" y1="425.77" x2="713.9" y2="425.77" stroke="#231f20" stroke-width="1.1"/>
<line x1="709.7" y1="423.25" x2="713.9" y2="423.25" stroke="#231f20" stroke-width="1.1"/>
<line x1="708.4" y1="470.2" x2="713.9" y2="470.2" stroke="#231f20" stroke-width="1.4"/>
<text x="706.4" y="326.74" font-size="11.5" text-anchor="end">10<tspan font-size="5.98" dy="-4.6">1</tspan></text>
<text x="706.4" y="375.94" font-size="11.5" text-anchor="end">10<tspan font-size="5.98" dy="-4.6">0</tspan></text>
<text x="706.4" y="425.14" font-size="11.5" text-anchor="end">10<tspan font-size="5.98" dy="-4.6">-1</tspan></text>
<text x="706.4" y="474.34" font-size="11.5" text-anchor="end">10<tspan font-size="5.98" dy="-4.6">-2</tspan></text>
<text x="741.8" y="488.7" font-size="12.3" text-anchor="middle">0.25</text>
<text x="783.5" y="488.7" font-size="12.3" text-anchor="middle">0.5</text>
<text x="825.2" y="488.7" font-size="12.3" text-anchor="middle">0.75</text>
<text x="866.9" y="488.7" font-size="12.3" text-anchor="middle">1</text>
<text x="908.6" y="488.7" font-size="12.3" text-anchor="middle">2</text>
<line x1="740.5" y1="378.2" x2="780.8" y2="378.2" stroke="#231f20" stroke-width="1.4"/>
<text x="760.65" y="373.4" font-size="10.5" text-anchor="middle">ns</text>
<text x="760.65" y="389.5" font-size="10.5" text-anchor="middle">p = 0.8104</text>
<line x1="784" y1="348.4" x2="824" y2="348.4" stroke="#231f20" stroke-width="1.4"/>
<text x="804" y="343.5" font-size="10.5" text-anchor="middle">ns</text>
<text x="804" y="360.5" font-size="10.5" text-anchor="middle">p = 0.3069</text>
<line x1="827" y1="317.2" x2="867.1" y2="317.2" stroke="#231f20" stroke-width="1.4"/>
<polygon points="838.85,307.4 839.97,309.66 842.46,310.03 840.66,311.79 841.08,314.27 838.85,313.1 836.62,314.27 837.04,311.79 835.24,310.03 837.73,309.66" fill="#111"/>
<polygon points="847.05,307.4 848.17,309.66 850.66,310.03 848.86,311.79 849.28,314.27 847.05,313.1 844.82,314.27 845.24,311.79 843.44,310.03 845.93,309.66" fill="#111"/>
<polygon points="855.25,307.4 856.37,309.66 858.86,310.03 857.06,311.79 857.48,314.27 855.25,313.1 853.02,314.27 853.44,311.79 851.64,310.03 854.13,309.66" fill="#111"/>
<text x="847.05" y="330.3" font-size="10.5" text-anchor="middle">p = 0.0007</text>
<line x1="867" y1="338.5" x2="908" y2="338.5" stroke="#231f20" stroke-width="1.4"/>
<text x="888.4" y="332" font-size="10.5" text-anchor="middle">ns</text>
<text x="887.5" y="349.8" font-size="10.5" text-anchor="middle">p = 0.7400</text>
<text x="741.8" y="404" font-size="10.5" text-anchor="middle">n = 6</text>
<text x="783.5" y="397.6" font-size="10.5" text-anchor="middle">n = 6</text>
<text x="825.2" y="377.4" font-size="10.5" text-anchor="middle">n = 6</text>
<text x="866.9" y="360.5" font-size="10.5" text-anchor="middle">n = 6</text>
<text x="908.6" y="360.5" font-size="10.5" text-anchor="middle">n = 6</text>
<text x="833" y="502.4" font-size="14.3" text-anchor="middle">The concentration of p53<tspan font-size="7.15" dy="-6.44">4M</tspan><tspan dy="6.44"> ΔTAD</tspan> (μM)</text>
<text x="682" y="384" font-size="13.5" text-anchor="middle" transform="rotate(-90 682 384)">A<tspan font-size="8.37" dy="4.05">X</tspan><tspan dy="-4.05"> / A</tspan><tspan font-size="8.1" dy="4.86">640</tspan><tspan dy="-4.86"></tspan></text>
<text x="512" y="545" font-size="14.2" text-anchor="middle">p53<tspan font-size="7.1" dy="-6.39">4M</tspan><tspan dy="6.39"> ΔTAD</tspan> + 400-bp 3× p21 DNA</text>
<text x="361.9" y="600" font-size="16">(ii)</text>
<rect x="408.85" y="732.3" width="27.5" height="42.45" fill="#9dc4b0" stroke="#222" stroke-width="1.4"/>
<rect x="451.75" y="717.4" width="27.5" height="57.35" fill="#9dc4b0" stroke="#222" stroke-width="1.4"/>
<rect x="494.65" y="723.2" width="27.5" height="51.55" fill="#9dc4b0" stroke="#222" stroke-width="1.4"/>
<rect x="537.55" y="688.8" width="27.5" height="85.95" fill="#9dc4b0" stroke="#222" stroke-width="1.4"/>
<rect x="580.45" y="676.8" width="27.5" height="97.95" fill="#9dc4b0" stroke="#222" stroke-width="1.4"/>
<rect x="623.35" y="671.2" width="27.5" height="103.55" fill="#9dc4b0" stroke="#222" stroke-width="1.4"/>
<circle cx="425.6" cy="721" r="1.9" fill="#111" stroke="none" stroke-width="1"/>
<circle cx="422.6" cy="723.5" r="1.9" fill="#111" stroke="none" stroke-width="1"/>
<circle cx="422.6" cy="738" r="1.9" fill="#111" stroke="none" stroke-width="1"/>
<circle cx="419.6" cy="745" r="1.9" fill="#111" stroke="none" stroke-width="1"/>
<circle cx="425.6" cy="745" r="1.9" fill="#111" stroke="none" stroke-width="1"/>
<circle cx="465.5" cy="707.3" r="1.9" fill="#111" stroke="none" stroke-width="1"/>
<circle cx="465.5" cy="712.9" r="1.9" fill="#111" stroke="none" stroke-width="1"/>
<circle cx="465.5" cy="715.3" r="1.9" fill="#111" stroke="none" stroke-width="1"/>
<circle cx="465.5" cy="717.7" r="1.9" fill="#111" stroke="none" stroke-width="1"/>
<circle cx="465.5" cy="724.7" r="1.9" fill="#111" stroke="none" stroke-width="1"/>
<circle cx="508.4" cy="716.1" r="1.9" fill="#111" stroke="none" stroke-width="1"/>
<circle cx="508.4" cy="722.6" r="1.9" fill="#111" stroke="none" stroke-width="1"/>
<circle cx="508.4" cy="726.6" r="1.9" fill="#111" stroke="none" stroke-width="1"/>
<circle cx="508.4" cy="729" r="1.9" fill="#111" stroke="none" stroke-width="1"/>
<circle cx="511.4" cy="724" r="1.9" fill="#111" stroke="none" stroke-width="1"/>
<circle cx="551.3" cy="672.7" r="1.9" fill="#111" stroke="none" stroke-width="1"/>
<circle cx="551.3" cy="682" r="1.9" fill="#111" stroke="none" stroke-width="1"/>
<circle cx="551.3" cy="688.4" r="1.9" fill="#111" stroke="none" stroke-width="1"/>
<circle cx="551.3" cy="697.6" r="1.9" fill="#111" stroke="none" stroke-width="1"/>
<circle cx="551.3" cy="718.9" r="1.9" fill="#111" stroke="none" stroke-width="1"/>
<circle cx="591.2" cy="669" r="1.9" fill="#111" stroke="none" stroke-width="1"/>
<circle cx="597.2" cy="669" r="1.9" fill="#111" stroke="none" stroke-width="1"/>
<circle cx="594.2" cy="672.7" r="1.9" fill="#111" stroke="none" stroke-width="1"/>
<circle cx="594.2" cy="676.4" r="1.9" fill="#111" stroke="none" stroke-width="1"/>
<circle cx="594.2" cy="697.6" r="1.9" fill="#111" stroke="none" stroke-width="1"/>
<circle cx="637.1" cy="665.3" r="1.9" fill="#111" stroke="none" stroke-width="1"/>
<circle cx="637.1" cy="670.9" r="1.9" fill="#111" stroke="none" stroke-width="1"/>
<circle cx="637.1" cy="674.6" r="1.9" fill="#111" stroke="none" stroke-width="1"/>
<line x1="422.6" y1="727.7" x2="422.6" y2="736.3" stroke="#111" stroke-width="1.3"/>
<line x1="415.6" y1="727.7" x2="429.6" y2="727.7" stroke="#111" stroke-width="1.5"/>
<line x1="415.6" y1="736.3" x2="429.6" y2="736.3" stroke="#111" stroke-width="1.5"/>
<line x1="465.5" y1="714.8" x2="465.5" y2="719.4" stroke="#111" stroke-width="1.3"/>
<line x1="458.5" y1="714.8" x2="472.5" y2="714.8" stroke="#111" stroke-width="1.5"/>
<line x1="458.5" y1="719.4" x2="472.5" y2="719.4" stroke="#111" stroke-width="1.5"/>
<line x1="508.4" y1="720.6" x2="508.4" y2="724.2" stroke="#111" stroke-width="1.3"/>
<line x1="501.4" y1="720.6" x2="515.4" y2="720.6" stroke="#111" stroke-width="1.5"/>
<line x1="501.4" y1="724.2" x2="515.4" y2="724.2" stroke="#111" stroke-width="1.5"/>
<line x1="551.3" y1="682.9" x2="551.3" y2="694.3" stroke="#111" stroke-width="1.3"/>
<line x1="544.3" y1="682.9" x2="558.3" y2="682.9" stroke="#111" stroke-width="1.5"/>
<line x1="544.3" y1="694.3" x2="558.3" y2="694.3" stroke="#111" stroke-width="1.5"/>
<line x1="594.2" y1="673.1" x2="594.2" y2="679.7" stroke="#111" stroke-width="1.3"/>
<line x1="587.2" y1="673.1" x2="601.2" y2="673.1" stroke="#111" stroke-width="1.5"/>
<line x1="587.2" y1="679.7" x2="601.2" y2="679.7" stroke="#111" stroke-width="1.5"/>
<line x1="637.1" y1="669" x2="637.1" y2="672.7" stroke="#111" stroke-width="1.3"/>
<line x1="630.1" y1="669" x2="644.1" y2="669" stroke="#111" stroke-width="1.5"/>
<line x1="630.1" y1="672.7" x2="644.1" y2="672.7" stroke="#111" stroke-width="1.5"/>
<line x1="388.2" y1="774.75" x2="667" y2="774.75" stroke="#231f20" stroke-width="1.5"/>
<line x1="422.6" y1="774.75" x2="422.6" y2="779.75" stroke="#231f20" stroke-width="1.5"/>
<line x1="465.5" y1="774.75" x2="465.5" y2="779.75" stroke="#231f20" stroke-width="1.5"/>
<line x1="508.4" y1="774.75" x2="508.4" y2="779.75" stroke="#231f20" stroke-width="1.5"/>
<line x1="551.3" y1="774.75" x2="551.3" y2="779.75" stroke="#231f20" stroke-width="1.5"/>
<line x1="594.2" y1="774.75" x2="594.2" y2="779.75" stroke="#231f20" stroke-width="1.5"/>
<line x1="637.1" y1="774.75" x2="637.1" y2="779.75" stroke="#231f20" stroke-width="1.5"/>
<line x1="393.9" y1="620.3" x2="393.9" y2="774.75" stroke="#231f20" stroke-width="1.5"/>
<line x1="388.4" y1="621" x2="393.9" y2="621" stroke="#231f20" stroke-width="1.4"/>
<line x1="389.7" y1="656.82" x2="393.9" y2="656.82" stroke="#231f20" stroke-width="1.1"/>
<line x1="389.7" y1="647.8" x2="393.9" y2="647.8" stroke="#231f20" stroke-width="1.1"/>
<line x1="389.7" y1="641.39" x2="393.9" y2="641.39" stroke="#231f20" stroke-width="1.1"/>
<line x1="389.7" y1="636.43" x2="393.9" y2="636.43" stroke="#231f20" stroke-width="1.1"/>
<line x1="389.7" y1="632.37" x2="393.9" y2="632.37" stroke="#231f20" stroke-width="1.1"/>
<line x1="389.7" y1="628.94" x2="393.9" y2="628.94" stroke="#231f20" stroke-width="1.1"/>
<line x1="389.7" y1="625.97" x2="393.9" y2="625.97" stroke="#231f20" stroke-width="1.1"/>
<line x1="389.7" y1="623.35" x2="393.9" y2="623.35" stroke="#231f20" stroke-width="1.1"/>
<line x1="388.4" y1="672.25" x2="393.9" y2="672.25" stroke="#231f20" stroke-width="1.4"/>
<line x1="389.7" y1="708.07" x2="393.9" y2="708.07" stroke="#231f20" stroke-width="1.1"/>
<line x1="389.7" y1="699.05" x2="393.9" y2="699.05" stroke="#231f20" stroke-width="1.1"/>
<line x1="389.7" y1="692.64" x2="393.9" y2="692.64" stroke="#231f20" stroke-width="1.1"/>
<line x1="389.7" y1="687.68" x2="393.9" y2="687.68" stroke="#231f20" stroke-width="1.1"/>
<line x1="389.7" y1="683.62" x2="393.9" y2="683.62" stroke="#231f20" stroke-width="1.1"/>
<line x1="389.7" y1="680.19" x2="393.9" y2="680.19" stroke="#231f20" stroke-width="1.1"/>
<line x1="389.7" y1="677.22" x2="393.9" y2="677.22" stroke="#231f20" stroke-width="1.1"/>
<line x1="389.7" y1="674.6" x2="393.9" y2="674.6" stroke="#231f20" stroke-width="1.1"/>
<line x1="388.4" y1="723.5" x2="393.9" y2="723.5" stroke="#231f20" stroke-width="1.4"/>
<line x1="389.7" y1="759.32" x2="393.9" y2="759.32" stroke="#231f20" stroke-width="1.1"/>
<line x1="389.7" y1="750.3" x2="393.9" y2="750.3" stroke="#231f20" stroke-width="1.1"/>
<line x1="389.7" y1="743.89" x2="393.9" y2="743.89" stroke="#231f20" stroke-width="1.1"/>
<line x1="389.7" y1="738.93" x2="393.9" y2="738.93" stroke="#231f20" stroke-width="1.1"/>
<line x1="389.7" y1="734.87" x2="393.9" y2="734.87" stroke="#231f20" stroke-width="1.1"/>
<line x1="389.7" y1="731.44" x2="393.9" y2="731.44" stroke="#231f20" stroke-width="1.1"/>
<line x1="389.7" y1="728.47" x2="393.9" y2="728.47" stroke="#231f20" stroke-width="1.1"/>
<line x1="389.7" y1="725.85" x2="393.9" y2="725.85" stroke="#231f20" stroke-width="1.1"/>
<line x1="388.4" y1="774.75" x2="393.9" y2="774.75" stroke="#231f20" stroke-width="1.4"/>
<text x="386.4" y="625.14" font-size="11.5" text-anchor="end">10<tspan font-size="5.98" dy="-4.6">1</tspan></text>
<text x="386.4" y="676.39" font-size="11.5" text-anchor="end">10<tspan font-size="5.98" dy="-4.6">0</tspan></text>
<text x="386.4" y="727.64" font-size="11.5" text-anchor="end">10<tspan font-size="5.98" dy="-4.6">-1</tspan></text>
<text x="386.4" y="778.89" font-size="11.5" text-anchor="end">10<tspan font-size="5.98" dy="-4.6">-2</tspan></text>
<text x="422.6" y="794.5" font-size="12.3" text-anchor="middle">0.125</text>
<text x="465.5" y="794.5" font-size="12.3" text-anchor="middle">0.25</text>
<text x="508.4" y="794.5" font-size="12.3" text-anchor="middle">0.5</text>
<text x="551.3" y="794.5" font-size="12.3" text-anchor="middle">0.75</text>
<text x="594.2" y="794.5" font-size="12.3" text-anchor="middle">1</text>
<text x="637.1" y="794.5" font-size="12.3" text-anchor="middle">2</text>
<line x1="422.6" y1="674.2" x2="463.2" y2="674.2" stroke="#231f20" stroke-width="1.4"/>
<polygon points="438.8,664.4 439.92,666.66 442.41,667.03 440.61,668.79 441.03,671.27 438.8,670.1 436.57,671.27 436.99,668.79 435.19,667.03 437.68,666.66" fill="#111"/>
<polygon points="447,664.4 448.12,666.66 450.61,667.03 448.81,668.79 449.23,671.27 447,670.1 444.77,671.27 445.19,668.79 443.39,667.03 445.88,666.66" fill="#111"/>
<text x="442.9" y="687.9" font-size="10.5" text-anchor="middle">p = 0.0071</text>
<line x1="467.7" y1="654.8" x2="509.2" y2="654.8" stroke="#231f20" stroke-width="1.4"/>
<polygon points="488.45,645 489.57,647.26 492.06,647.63 490.26,649.39 490.68,651.87 488.45,650.7 486.22,651.87 486.64,649.39 484.84,647.63 487.33,647.26" fill="#111"/>
<text x="488.45" y="669.4" font-size="10.5" text-anchor="middle">p = 0.0967</text>
<line x1="507.8" y1="612.1" x2="549" y2="612.1" stroke="#231f20" stroke-width="1.4"/>
<polygon points="524.3,602.3 525.42,604.56 527.91,604.93 526.11,606.69 526.53,609.17 524.3,608 522.07,609.17 522.49,606.69 520.69,604.93 523.18,604.56" fill="#111"/>
<polygon points="532.5,602.3 533.62,604.56 536.11,604.93 534.31,606.69 534.73,609.17 532.5,608 530.27,609.17 530.69,606.69 528.89,604.93 531.38,604.56" fill="#111"/>
<text x="528.4" y="626.5" font-size="10.5" text-anchor="middle">p = 0.0245</text>
<line x1="550.8" y1="634.3" x2="591.5" y2="634.3" stroke="#231f20" stroke-width="1.4"/>
<polygon points="571.15,624.5 572.27,626.76 574.76,627.13 572.96,628.89 573.38,631.37 571.15,630.2 568.92,631.37 569.34,628.89 567.54,627.13 570.03,626.76" fill="#111"/>
<text x="571.15" y="649.6" font-size="10.5" text-anchor="middle">p = 0.0649</text>
<line x1="594.6" y1="610.3" x2="635.8" y2="610.3" stroke="#231f20" stroke-width="1.4"/>
<polygon points="615.2,600.5 616.32,602.76 618.81,603.13 617.01,604.89 617.43,607.37 615.2,606.2 612.97,607.37 613.39,604.89 611.59,603.13 614.08,602.76" fill="#111"/>
<text x="615.2" y="625.6" font-size="10.5" text-anchor="middle">p = 0.1175</text>
<text x="422.9" y="712.9" font-size="10.5" text-anchor="middle">n = 6</text>
<text x="464.8" y="699.2" font-size="10.5" text-anchor="middle">n = 6</text>
<text x="508.4" y="708" font-size="10.5" text-anchor="middle">n = 6</text>
<text x="549.9" y="665.3" font-size="10.5" text-anchor="middle">n = 6</text>
<text x="593.3" y="661.6" font-size="10.5" text-anchor="middle">n = 6</text>
<text x="636.7" y="656.1" font-size="10.5" text-anchor="middle">n = 5</text>
<text x="529" y="809.2" font-size="14.3" text-anchor="middle">The concentration of p53<tspan font-size="7.15" dy="-6.44">4M</tspan><tspan dy="6.44"> ΔTAD</tspan> (μM)</text>
<text x="366" y="684" font-size="13.5" text-anchor="middle" transform="rotate(-90 366 684)">A<tspan font-size="8.37" dy="4.05">X</tspan><tspan dy="-4.05"> / A</tspan><tspan font-size="8.1" dy="4.86">488</tspan><tspan dy="-4.86"></tspan></text>
<text x="668.3" y="600" font-size="16">(iii)</text>
<rect x="730.1" y="732.7" width="28" height="42.4" fill="#fad2a2" stroke="#222" stroke-width="1.4"/>
<rect x="772.9" y="708.4" width="28" height="66.7" fill="#fad2a2" stroke="#222" stroke-width="1.4"/>
<rect x="815.7" y="715.2" width="28" height="59.9" fill="#fad2a2" stroke="#222" stroke-width="1.4"/>
<rect x="858.6" y="681.4" width="28" height="93.7" fill="#fad2a2" stroke="#222" stroke-width="1.4"/>
<rect x="901.4" y="671.2" width="28" height="103.9" fill="#fad2a2" stroke="#222" stroke-width="1.4"/>
<rect x="944.2" y="655.5" width="28" height="119.6" fill="#fad2a2" stroke="#222" stroke-width="1.4"/>
<circle cx="742.1" cy="725.4" r="1.9" fill="#111" stroke="none" stroke-width="1"/>
<circle cx="746.1" cy="725.4" r="1.9" fill="#111" stroke="none" stroke-width="1"/>
<circle cx="744.1" cy="729" r="1.9" fill="#111" stroke="none" stroke-width="1"/>
<circle cx="744.1" cy="738.3" r="1.9" fill="#111" stroke="none" stroke-width="1"/>
<circle cx="744.1" cy="743.8" r="1.9" fill="#111" stroke="none" stroke-width="1"/>
<circle cx="786.9" cy="702.3" r="1.9" fill="#111" stroke="none" stroke-width="1"/>
<circle cx="786.9" cy="706" r="1.9" fill="#111" stroke="none" stroke-width="1"/>
<circle cx="786.9" cy="709.7" r="1.9" fill="#111" stroke="none" stroke-width="1"/>
<circle cx="786.9" cy="719.8" r="1.9" fill="#111" stroke="none" stroke-width="1"/>
<circle cx="783.9" cy="708" r="1.9" fill="#111" stroke="none" stroke-width="1"/>
<circle cx="829.7" cy="703.2" r="1.9" fill="#111" stroke="none" stroke-width="1"/>
<circle cx="829.7" cy="715.2" r="1.9" fill="#111" stroke="none" stroke-width="1"/>
<circle cx="829.7" cy="718" r="1.9" fill="#111" stroke="none" stroke-width="1"/>
<circle cx="829.7" cy="725.4" r="1.9" fill="#111" stroke="none" stroke-width="1"/>
<circle cx="872.6" cy="665" r="1.9" fill="#111" stroke="none" stroke-width="1"/>
<circle cx="872.6" cy="680.1" r="1.9" fill="#111" stroke="none" stroke-width="1"/>
<circle cx="872.6" cy="684.2" r="1.9" fill="#111" stroke="none" stroke-width="1"/>
<circle cx="872.6" cy="707.8" r="1.9" fill="#111" stroke="none" stroke-width="1"/>
<circle cx="915.4" cy="666.2" r="1.9" fill="#111" stroke="none" stroke-width="1"/>
<circle cx="915.4" cy="669" r="1.9" fill="#111" stroke="none" stroke-width="1"/>
<circle cx="915.4" cy="672.7" r="1.9" fill="#111" stroke="none" stroke-width="1"/>
<circle cx="915.4" cy="675.5" r="1.9" fill="#111" stroke="none" stroke-width="1"/>
<circle cx="915.4" cy="678.2" r="1.9" fill="#111" stroke="none" stroke-width="1"/>
<circle cx="958.2" cy="649.6" r="1.9" fill="#111" stroke="none" stroke-width="1"/>
<circle cx="958.2" cy="656.1" r="1.9" fill="#111" stroke="none" stroke-width="1"/>
<circle cx="958.2" cy="662.5" r="1.9" fill="#111" stroke="none" stroke-width="1"/>
<line x1="744.1" y1="729" x2="744.1" y2="734.6" stroke="#111" stroke-width="1.3"/>
<line x1="737.1" y1="729" x2="751.1" y2="729" stroke="#111" stroke-width="1.5"/>
<line x1="737.1" y1="734.6" x2="751.1" y2="734.6" stroke="#111" stroke-width="1.5"/>
<line x1="786.9" y1="705.6" x2="786.9" y2="710.6" stroke="#111" stroke-width="1.3"/>
<line x1="779.9" y1="705.6" x2="793.9" y2="705.6" stroke="#111" stroke-width="1.5"/>
<line x1="779.9" y1="710.6" x2="793.9" y2="710.6" stroke="#111" stroke-width="1.5"/>
<line x1="829.7" y1="711.9" x2="829.7" y2="718" stroke="#111" stroke-width="1.3"/>
<line x1="822.7" y1="711.9" x2="836.7" y2="711.9" stroke="#111" stroke-width="1.5"/>
<line x1="822.7" y1="718" x2="836.7" y2="718" stroke="#111" stroke-width="1.5"/>
<line x1="872.6" y1="676" x2="872.6" y2="686.2" stroke="#111" stroke-width="1.3"/>
<line x1="865.6" y1="676" x2="879.6" y2="676" stroke="#111" stroke-width="1.5"/>
<line x1="865.6" y1="686.2" x2="879.6" y2="686.2" stroke="#111" stroke-width="1.5"/>
<line x1="915.4" y1="668.6" x2="915.4" y2="673.1" stroke="#111" stroke-width="1.3"/>
<line x1="908.4" y1="668.6" x2="922.4" y2="668.6" stroke="#111" stroke-width="1.5"/>
<line x1="908.4" y1="673.1" x2="922.4" y2="673.1" stroke="#111" stroke-width="1.5"/>
<line x1="958.2" y1="653.3" x2="958.2" y2="657.4" stroke="#111" stroke-width="1.3"/>
<line x1="951.2" y1="653.3" x2="965.2" y2="653.3" stroke="#111" stroke-width="1.5"/>
<line x1="951.2" y1="657.4" x2="965.2" y2="657.4" stroke="#111" stroke-width="1.5"/>
<line x1="709" y1="775.1" x2="978.9" y2="775.1" stroke="#231f20" stroke-width="1.5"/>
<line x1="744.1" y1="775.1" x2="744.1" y2="780.1" stroke="#231f20" stroke-width="1.5"/>
<line x1="786.9" y1="775.1" x2="786.9" y2="780.1" stroke="#231f20" stroke-width="1.5"/>
<line x1="829.7" y1="775.1" x2="829.7" y2="780.1" stroke="#231f20" stroke-width="1.5"/>
<line x1="872.6" y1="775.1" x2="872.6" y2="780.1" stroke="#231f20" stroke-width="1.5"/>
<line x1="915.4" y1="775.1" x2="915.4" y2="780.1" stroke="#231f20" stroke-width="1.5"/>
<line x1="958.2" y1="775.1" x2="958.2" y2="780.1" stroke="#231f20" stroke-width="1.5"/>
<line x1="715.1" y1="619.3" x2="715.1" y2="775.1" stroke="#231f20" stroke-width="1.5"/>
<line x1="709.6" y1="620" x2="715.1" y2="620" stroke="#231f20" stroke-width="1.4"/>
<line x1="710.9" y1="656.14" x2="715.1" y2="656.14" stroke="#231f20" stroke-width="1.1"/>
<line x1="710.9" y1="647.03" x2="715.1" y2="647.03" stroke="#231f20" stroke-width="1.1"/>
<line x1="710.9" y1="640.57" x2="715.1" y2="640.57" stroke="#231f20" stroke-width="1.1"/>
<line x1="710.9" y1="635.56" x2="715.1" y2="635.56" stroke="#231f20" stroke-width="1.1"/>
<line x1="710.9" y1="631.47" x2="715.1" y2="631.47" stroke="#231f20" stroke-width="1.1"/>
<line x1="710.9" y1="628.01" x2="715.1" y2="628.01" stroke="#231f20" stroke-width="1.1"/>
<line x1="710.9" y1="625.01" x2="715.1" y2="625.01" stroke="#231f20" stroke-width="1.1"/>
<line x1="710.9" y1="622.37" x2="715.1" y2="622.37" stroke="#231f20" stroke-width="1.1"/>
<line x1="709.6" y1="671.7" x2="715.1" y2="671.7" stroke="#231f20" stroke-width="1.4"/>
<line x1="710.9" y1="707.84" x2="715.1" y2="707.84" stroke="#231f20" stroke-width="1.1"/>
<line x1="710.9" y1="698.73" x2="715.1" y2="698.73" stroke="#231f20" stroke-width="1.1"/>
<line x1="710.9" y1="692.27" x2="715.1" y2="692.27" stroke="#231f20" stroke-width="1.1"/>
<line x1="710.9" y1="687.26" x2="715.1" y2="687.26" stroke="#231f20" stroke-width="1.1"/>
<line x1="710.9" y1="683.17" x2="715.1" y2="683.17" stroke="#231f20" stroke-width="1.1"/>
<line x1="710.9" y1="679.71" x2="715.1" y2="679.71" stroke="#231f20" stroke-width="1.1"/>
<line x1="710.9" y1="676.71" x2="715.1" y2="676.71" stroke="#231f20" stroke-width="1.1"/>
<line x1="710.9" y1="674.07" x2="715.1" y2="674.07" stroke="#231f20" stroke-width="1.1"/>
<line x1="709.6" y1="723.4" x2="715.1" y2="723.4" stroke="#231f20" stroke-width="1.4"/>
<line x1="710.9" y1="759.54" x2="715.1" y2="759.54" stroke="#231f20" stroke-width="1.1"/>
<line x1="710.9" y1="750.43" x2="715.1" y2="750.43" stroke="#231f20" stroke-width="1.1"/>
<line x1="710.9" y1="743.97" x2="715.1" y2="743.97" stroke="#231f20" stroke-width="1.1"/>
<line x1="710.9" y1="738.96" x2="715.1" y2="738.96" stroke="#231f20" stroke-width="1.1"/>
<line x1="710.9" y1="734.87" x2="715.1" y2="734.87" stroke="#231f20" stroke-width="1.1"/>
<line x1="710.9" y1="731.41" x2="715.1" y2="731.41" stroke="#231f20" stroke-width="1.1"/>
<line x1="710.9" y1="728.41" x2="715.1" y2="728.41" stroke="#231f20" stroke-width="1.1"/>
<line x1="710.9" y1="725.77" x2="715.1" y2="725.77" stroke="#231f20" stroke-width="1.1"/>
<line x1="709.6" y1="775.1" x2="715.1" y2="775.1" stroke="#231f20" stroke-width="1.4"/>
<text x="707.6" y="624.14" font-size="11.5" text-anchor="end">10<tspan font-size="5.98" dy="-4.6">1</tspan></text>
<text x="707.6" y="675.84" font-size="11.5" text-anchor="end">10<tspan font-size="5.98" dy="-4.6">0</tspan></text>
<text x="707.6" y="727.54" font-size="11.5" text-anchor="end">10<tspan font-size="5.98" dy="-4.6">-1</tspan></text>
<text x="707.6" y="779.24" font-size="11.5" text-anchor="end">10<tspan font-size="5.98" dy="-4.6">-2</tspan></text>
<text x="744.1" y="795.6" font-size="12.3" text-anchor="middle">0.125</text>
<text x="786.9" y="795.6" font-size="12.3" text-anchor="middle">0.25</text>
<text x="829.7" y="795.6" font-size="12.3" text-anchor="middle">0.5</text>
<text x="872.6" y="795.6" font-size="12.3" text-anchor="middle">0.75</text>
<text x="915.4" y="795.6" font-size="12.3" text-anchor="middle">1</text>
<text x="958.2" y="795.6" font-size="12.3" text-anchor="middle">2</text>
<line x1="743.5" y1="670.6" x2="784.2" y2="670.6" stroke="#231f20" stroke-width="1.4"/>
<polygon points="755.65,660.8 756.77,663.06 759.26,663.43 757.46,665.19 757.88,667.67 755.65,666.5 753.42,667.67 753.84,665.19 752.04,663.43 754.53,663.06" fill="#111"/>
<polygon points="763.85,660.8 764.97,663.06 767.46,663.43 765.66,665.19 766.08,667.67 763.85,666.5 761.62,667.67 762.04,665.19 760.24,663.43 762.73,663.06" fill="#111"/>
<polygon points="772.05,660.8 773.17,663.06 775.66,663.43 773.86,665.19 774.28,667.67 772.05,666.5 769.82,667.67 770.24,665.19 768.44,663.43 770.93,663.06" fill="#111"/>
<text x="763.85" y="682.9" font-size="10.5" text-anchor="middle">p = 0.0006</text>
<line x1="786.6" y1="645.9" x2="827.5" y2="645.9" stroke="#231f20" stroke-width="1.4"/>
<polygon points="807.05,636.1 808.17,638.36 810.66,638.73 808.86,640.49 809.28,642.97 807.05,641.8 804.82,642.97 805.24,640.49 803.44,638.73 805.93,638.36" fill="#111"/>
<text x="807.05" y="657.9" font-size="10.5" text-anchor="middle">p = 0.1067</text>
<line x1="829.2" y1="611.2" x2="869.9" y2="611.2" stroke="#231f20" stroke-width="1.4"/>
<polygon points="845.45,601.4 846.57,603.66 849.06,604.03 847.26,605.79 847.68,608.27 845.45,607.1 843.22,608.27 843.64,605.79 841.84,604.03 844.33,603.66" fill="#111"/>
<polygon points="853.65,601.4 854.77,603.66 857.26,604.03 855.46,605.79 855.88,608.27 853.65,607.1 851.42,608.27 851.84,605.79 850.04,604.03 852.53,603.66" fill="#111"/>
<text x="849.55" y="623.7" font-size="10.5" text-anchor="middle">p = 0.0174</text>
<line x1="873.6" y1="633.9" x2="914.6" y2="633.9" stroke="#231f20" stroke-width="1.4"/>
<polygon points="894.1,624.1 895.22,626.36 897.71,626.73 895.91,628.49 896.33,630.97 894.1,629.8 891.87,630.97 892.29,628.49 890.49,626.73 892.98,626.36" fill="#111"/>
<text x="894.1" y="645.9" font-size="10.5" text-anchor="middle">p = 0.0708</text>
<line x1="917.9" y1="613.2" x2="958.6" y2="613.2" stroke="#231f20" stroke-width="1.4"/>
<polygon points="934.15,603.4 935.27,605.66 937.76,606.03 935.96,607.79 936.38,610.27 934.15,609.1 931.92,610.27 932.34,607.79 930.54,606.03 933.03,605.66" fill="#111"/>
<polygon points="942.35,603.4 943.47,605.66 945.96,606.03 944.16,607.79 944.58,610.27 942.35,609.1 940.12,610.27 940.54,607.79 938.74,606.03 941.23,605.66" fill="#111"/>
<text x="938.25" y="625.6" font-size="10.5" text-anchor="middle">p = 0.0033</text>
<text x="744" y="709.7" font-size="10.5" text-anchor="middle">n = 6</text>
<text x="786.6" y="696.7" font-size="10.5" text-anchor="middle">n = 6</text>
<text x="829.7" y="698.6" font-size="10.5" text-anchor="middle">n = 6</text>
<text x="873.6" y="659.4" font-size="10.5" text-anchor="middle">n = 6</text>
<text x="915.2" y="659.4" font-size="10.5" text-anchor="middle">n = 6</text>
<text x="957.6" y="644.1" font-size="10.5" text-anchor="middle">n = 5</text>
<text x="854" y="809.8" font-size="14.3" text-anchor="middle">The concentration of p53<tspan font-size="7.15" dy="-6.44">4M</tspan><tspan dy="6.44"> ΔTAD</tspan> (μM)</text>
<text x="682" y="683" font-size="13.5" text-anchor="middle" transform="rotate(-90 682 683)">A<tspan font-size="8.37" dy="4.05">X</tspan><tspan dy="-4.05"> / A</tspan><tspan font-size="8.1" dy="4.86">640</tspan><tspan dy="-4.86"></tspan></text>
<text x="33.3" y="871.6" font-size="20" font-weight="bold">D</text>
<text x="214" y="870" font-size="14.2" text-anchor="middle">p53<tspan font-size="7.1" dy="-6.39">4M</tspan><tspan dy="6.39"> ΔTAD</tspan> + 400-bp random DNA</text>
<text x="70" y="894" font-size="16">(i)</text>
<rect x="106.95" y="1018.2" width="27.3" height="45.15" fill="#abaed4" stroke="#222" stroke-width="1.4"/>
<rect x="149.25" y="1018.2" width="27.3" height="45.15" fill="#abaed4" stroke="#222" stroke-width="1.4"/>
<rect x="191.55" y="1016.3" width="27.3" height="47.05" fill="#abaed4" stroke="#222" stroke-width="1.4"/>
<rect x="233.85" y="989.4" width="27.3" height="73.95" fill="#abaed4" stroke="#222" stroke-width="1.4"/>
<rect x="276.15" y="971.9" width="27.3" height="91.45" fill="#abaed4" stroke="#222" stroke-width="1.4"/>
<circle cx="117.6" cy="1016.5" r="1.9" fill="#111" stroke="none" stroke-width="1"/>
<circle cx="120.6" cy="1015.5" r="1.9" fill="#111" stroke="none" stroke-width="1"/>
<circle cx="123.6" cy="1017" r="1.9" fill="#111" stroke="none" stroke-width="1"/>
<circle cx="119.6" cy="1019.5" r="1.9" fill="#111" stroke="none" stroke-width="1"/>
<circle cx="122.6" cy="1020" r="1.9" fill="#111" stroke="none" stroke-width="1"/>
<circle cx="120.6" cy="1021" r="1.9" fill="#111" stroke="none" stroke-width="1"/>
<circle cx="158.9" cy="1018" r="1.9" fill="#111" stroke="none" stroke-width="1"/>
<circle cx="161.9" cy="1018" r="1.9" fill="#111" stroke="none" stroke-width="1"/>
<circle cx="164.9" cy="1018" r="1.9" fill="#111" stroke="none" stroke-width="1"/>
<circle cx="166.9" cy="1018" r="1.9" fill="#111" stroke="none" stroke-width="1"/>
<circle cx="205.2" cy="1007.9" r="1.9" fill="#111" stroke="none" stroke-width="1"/>
<circle cx="202.2" cy="1016.8" r="1.9" fill="#111" stroke="none" stroke-width="1"/>
<circle cx="207.2" cy="1016" r="1.9" fill="#111" stroke="none" stroke-width="1"/>
<circle cx="205.2" cy="1020" r="1.9" fill="#111" stroke="none" stroke-width="1"/>
<circle cx="245.5" cy="971.3" r="1.9" fill="#111" stroke="none" stroke-width="1"/>
<circle cx="248.5" cy="971.3" r="1.9" fill="#111" stroke="none" stroke-width="1"/>
<circle cx="247.5" cy="1001.5" r="1.9" fill="#111" stroke="none" stroke-width="1"/>
<circle cx="247.5" cy="1010.3" r="1.9" fill="#111" stroke="none" stroke-width="1"/>
<circle cx="247.5" cy="1015.2" r="1.9" fill="#111" stroke="none" stroke-width="1"/>
<circle cx="247.5" cy="1019.2" r="1.9" fill="#111" stroke="none" stroke-width="1"/>
<circle cx="288.8" cy="953.9" r="1.9" fill="#111" stroke="none" stroke-width="1"/>
<circle cx="291.8" cy="953.9" r="1.9" fill="#111" stroke="none" stroke-width="1"/>
<circle cx="289.8" cy="966.8" r="1.9" fill="#111" stroke="none" stroke-width="1"/>
<circle cx="289.8" cy="1007.9" r="1.9" fill="#111" stroke="none" stroke-width="1"/>
<circle cx="289.8" cy="1010.3" r="1.9" fill="#111" stroke="none" stroke-width="1"/>
<circle cx="289.8" cy="1019.2" r="1.9" fill="#111" stroke="none" stroke-width="1"/>
<line x1="120.6" y1="1016" x2="120.6" y2="1020" stroke="#111" stroke-width="1.3"/>
<line x1="113.6" y1="1016" x2="127.6" y2="1016" stroke="#111" stroke-width="1.5"/>
<line x1="113.6" y1="1020" x2="127.6" y2="1020" stroke="#111" stroke-width="1.5"/>
<line x1="162.9" y1="1017" x2="162.9" y2="1019.5" stroke="#111" stroke-width="1.3"/>
<line x1="155.9" y1="1017" x2="169.9" y2="1017" stroke="#111" stroke-width="1.5"/>
<line x1="155.9" y1="1019.5" x2="169.9" y2="1019.5" stroke="#111" stroke-width="1.5"/>
<line x1="205.2" y1="1013.2" x2="205.2" y2="1017" stroke="#111" stroke-width="1.3"/>
<line x1="198.2" y1="1013.2" x2="212.2" y2="1013.2" stroke="#111" stroke-width="1.5"/>
<line x1="198.2" y1="1017" x2="212.2" y2="1017" stroke="#111" stroke-width="1.5"/>
<line x1="247.5" y1="981.8" x2="247.5" y2="999.8" stroke="#111" stroke-width="1.3"/>
<line x1="240.5" y1="981.8" x2="254.5" y2="981.8" stroke="#111" stroke-width="1.5"/>
<line x1="240.5" y1="999.8" x2="254.5" y2="999.8" stroke="#111" stroke-width="1.5"/>
<line x1="289.8" y1="963.5" x2="289.8" y2="982.1" stroke="#111" stroke-width="1.3"/>
<line x1="282.8" y1="963.5" x2="296.8" y2="963.5" stroke="#111" stroke-width="1.5"/>
<line x1="282.8" y1="982.1" x2="296.8" y2="982.1" stroke="#111" stroke-width="1.5"/>
<line x1="86.5" y1="1063.35" x2="319" y2="1063.35" stroke="#231f20" stroke-width="1.5"/>
<line x1="120.6" y1="1063.35" x2="120.6" y2="1068.35" stroke="#231f20" stroke-width="1.5"/>
<line x1="162.9" y1="1063.35" x2="162.9" y2="1068.35" stroke="#231f20" stroke-width="1.5"/>
<line x1="205.2" y1="1063.35" x2="205.2" y2="1068.35" stroke="#231f20" stroke-width="1.5"/>
<line x1="247.5" y1="1063.35" x2="247.5" y2="1068.35" stroke="#231f20" stroke-width="1.5"/>
<line x1="289.8" y1="1063.35" x2="289.8" y2="1068.35" stroke="#231f20" stroke-width="1.5"/>
<line x1="92" y1="911.6" x2="92" y2="1063.35" stroke="#231f20" stroke-width="1.5"/>
<line x1="86.5" y1="912.3" x2="92" y2="912.3" stroke="#231f20" stroke-width="1.4"/>
<line x1="87.8" y1="947.49" x2="92" y2="947.49" stroke="#231f20" stroke-width="1.1"/>
<line x1="87.8" y1="938.63" x2="92" y2="938.63" stroke="#231f20" stroke-width="1.1"/>
<line x1="87.8" y1="932.34" x2="92" y2="932.34" stroke="#231f20" stroke-width="1.1"/>
<line x1="87.8" y1="927.46" x2="92" y2="927.46" stroke="#231f20" stroke-width="1.1"/>
<line x1="87.8" y1="923.47" x2="92" y2="923.47" stroke="#231f20" stroke-width="1.1"/>
<line x1="87.8" y1="920.1" x2="92" y2="920.1" stroke="#231f20" stroke-width="1.1"/>
<line x1="87.8" y1="917.18" x2="92" y2="917.18" stroke="#231f20" stroke-width="1.1"/>
<line x1="87.8" y1="914.6" x2="92" y2="914.6" stroke="#231f20" stroke-width="1.1"/>
<line x1="86.5" y1="962.65" x2="92" y2="962.65" stroke="#231f20" stroke-width="1.4"/>
<line x1="87.8" y1="997.84" x2="92" y2="997.84" stroke="#231f20" stroke-width="1.1"/>
<line x1="87.8" y1="988.98" x2="92" y2="988.98" stroke="#231f20" stroke-width="1.1"/>
<line x1="87.8" y1="982.69" x2="92" y2="982.69" stroke="#231f20" stroke-width="1.1"/>
<line x1="87.8" y1="977.81" x2="92" y2="977.81" stroke="#231f20" stroke-width="1.1"/>
<line x1="87.8" y1="973.82" x2="92" y2="973.82" stroke="#231f20" stroke-width="1.1"/>
<line x1="87.8" y1="970.45" x2="92" y2="970.45" stroke="#231f20" stroke-width="1.1"/>
<line x1="87.8" y1="967.53" x2="92" y2="967.53" stroke="#231f20" stroke-width="1.1"/>
<line x1="87.8" y1="964.95" x2="92" y2="964.95" stroke="#231f20" stroke-width="1.1"/>
<line x1="86.5" y1="1013" x2="92" y2="1013" stroke="#231f20" stroke-width="1.4"/>
<line x1="87.8" y1="1048.19" x2="92" y2="1048.19" stroke="#231f20" stroke-width="1.1"/>
<line x1="87.8" y1="1039.33" x2="92" y2="1039.33" stroke="#231f20" stroke-width="1.1"/>
<line x1="87.8" y1="1033.04" x2="92" y2="1033.04" stroke="#231f20" stroke-width="1.1"/>
<line x1="87.8" y1="1028.16" x2="92" y2="1028.16" stroke="#231f20" stroke-width="1.1"/>
<line x1="87.8" y1="1024.17" x2="92" y2="1024.17" stroke="#231f20" stroke-width="1.1"/>
<line x1="87.8" y1="1020.8" x2="92" y2="1020.8" stroke="#231f20" stroke-width="1.1"/>
<line x1="87.8" y1="1017.88" x2="92" y2="1017.88" stroke="#231f20" stroke-width="1.1"/>
<line x1="87.8" y1="1015.3" x2="92" y2="1015.3" stroke="#231f20" stroke-width="1.1"/>
<line x1="86.5" y1="1063.35" x2="92" y2="1063.35" stroke="#231f20" stroke-width="1.4"/>
<text x="86.5" y="916.44" font-size="11.5" text-anchor="end">1000</text>
<text x="86.5" y="966.79" font-size="11.5" text-anchor="end">100</text>
<text x="86.5" y="1017.14" font-size="11.5" text-anchor="end">10</text>
<text x="86.5" y="1067.49" font-size="11.5" text-anchor="end">1</text>
<text x="120.6" y="1081.5" font-size="12.3" text-anchor="middle">0.25</text>
<text x="162.9" y="1081.5" font-size="12.3" text-anchor="middle">0.5</text>
<text x="205.2" y="1081.5" font-size="12.3" text-anchor="middle">0.75</text>
<text x="247.5" y="1081.5" font-size="12.3" text-anchor="middle">1</text>
<text x="289.8" y="1081.5" font-size="12.3" text-anchor="middle">2</text>
<line x1="121.1" y1="978.4" x2="161.9" y2="978.4" stroke="#231f20" stroke-width="1.4"/>
<text x="141.5" y="973.9" font-size="10.5" text-anchor="middle">ns</text>
<text x="141.5" y="992.4" font-size="10.5" text-anchor="middle">p = 0.7891</text>
<line x1="163" y1="955.2" x2="204.5" y2="955.2" stroke="#231f20" stroke-width="1.4"/>
<text x="183.75" y="950.8" font-size="10.5" text-anchor="middle">ns</text>
<text x="183.75" y="966.4" font-size="10.5" text-anchor="middle">p = 0.2834</text>
<line x1="206.6" y1="928.4" x2="247.7" y2="928.4" stroke="#231f20" stroke-width="1.4"/>
<text x="227.15" y="921.6" font-size="10.5" text-anchor="middle">ns</text>
<text x="227.15" y="941.8" font-size="10.5" text-anchor="middle">p = 0.1394</text>
<line x1="251.8" y1="899.8" x2="292.4" y2="899.8" stroke="#231f20" stroke-width="1.4"/>
<text x="272.1" y="895" font-size="10.5" text-anchor="middle">ns</text>
<text x="272.1" y="913.5" font-size="10.5" text-anchor="middle">p = 0.2463</text>
<text x="121.5" y="1008.3" font-size="10.5" text-anchor="middle">n = 6</text>
<text x="163" y="1008.3" font-size="10.5" text-anchor="middle">n = 6</text>
<text x="205.8" y="999.8" font-size="10.5" text-anchor="middle">n = 6</text>
<text x="247" y="962.7" font-size="10.5" text-anchor="middle">n = 6</text>
<text x="291" y="947.4" font-size="10.5" text-anchor="middle">n = 6</text>
<text x="209.7" y="1097" font-size="14.3" text-anchor="middle">The concentration of p53<tspan font-size="7.15" dy="-6.44">4M</tspan><tspan dy="6.44"> ΔTAD</tspan> (μM)</text>
<text x="58" y="992.8" font-size="14" text-anchor="middle" transform="rotate(-90 58 992.8)">Hydrodynamic radii (nm)</text>
<text x="512" y="870.2" font-size="14.2" text-anchor="middle">p53<tspan font-size="7.1" dy="-6.39">4M</tspan><tspan dy="6.39"> ΔTAD</tspan> + 400-bp 3× p21 DNA</text>
<text x="366.7" y="893" font-size="16">(ii)</text>
<rect x="408.7" y="1018.5" width="28" height="43.85" fill="#abaed4" stroke="#222" stroke-width="1.4"/>
<rect x="450.9" y="1017.5" width="28" height="44.85" fill="#abaed4" stroke="#222" stroke-width="1.4"/>
<rect x="493" y="1014.6" width="28" height="47.75" fill="#abaed4" stroke="#222" stroke-width="1.4"/>
<rect x="535.1" y="1001.2" width="28" height="61.15" fill="#abaed4" stroke="#222" stroke-width="1.4"/>
<rect x="577.2" y="989.4" width="28" height="72.95" fill="#abaed4" stroke="#222" stroke-width="1.4"/>
<rect x="619.3" y="942.2" width="28" height="120.15" fill="#abaed4" stroke="#222" stroke-width="1.4"/>
<circle cx="422.7" cy="1011.4" r="1.9" fill="#111" stroke="none" stroke-width="1"/>
<circle cx="419.7" cy="1018.9" r="1.9" fill="#111" stroke="none" stroke-width="1"/>
<circle cx="425.7" cy="1018.9" r="1.9" fill="#111" stroke="none" stroke-width="1"/>
<circle cx="421.7" cy="1020.7" r="1.9" fill="#111" stroke="none" stroke-width="1"/>
<circle cx="424.7" cy="1020" r="1.9" fill="#111" stroke="none" stroke-width="1"/>
<circle cx="461.9" cy="1017" r="1.9" fill="#111" stroke="none" stroke-width="1"/>
<circle cx="464.9" cy="1017" r="1.9" fill="#111" stroke="none" stroke-width="1"/>
<circle cx="467.9" cy="1017" r="1.9" fill="#111" stroke="none" stroke-width="1"/>
<circle cx="507" cy="1007" r="1.9" fill="#111" stroke="none" stroke-width="1"/>
<circle cx="504" cy="1013.3" r="1.9" fill="#111" stroke="none" stroke-width="1"/>
<circle cx="510" cy="1013.3" r="1.9" fill="#111" stroke="none" stroke-width="1"/>
<circle cx="507" cy="1015.5" r="1.9" fill="#111" stroke="none" stroke-width="1"/>
<circle cx="549.1" cy="986.5" r="1.9" fill="#111" stroke="none" stroke-width="1"/>
<circle cx="549.1" cy="997" r="1.9" fill="#111" stroke="none" stroke-width="1"/>
<circle cx="549.1" cy="1007.9" r="1.9" fill="#111" stroke="none" stroke-width="1"/>
<circle cx="551.1" cy="1010.6" r="1.9" fill="#111" stroke="none" stroke-width="1"/>
<circle cx="591.2" cy="977.9" r="1.9" fill="#111" stroke="none" stroke-width="1"/>
<circle cx="591.2" cy="985.2" r="1.9" fill="#111" stroke="none" stroke-width="1"/>
<circle cx="591.2" cy="997.9" r="1.9" fill="#111" stroke="none" stroke-width="1"/>
<circle cx="591.2" cy="1007" r="1.9" fill="#111" stroke="none" stroke-width="1"/>
<circle cx="633.3" cy="919.9" r="1.9" fill="#111" stroke="none" stroke-width="1"/>
<circle cx="633.3" cy="940.7" r="1.9" fill="#111" stroke="none" stroke-width="1"/>
<circle cx="633.3" cy="957.1" r="1.9" fill="#111" stroke="none" stroke-width="1"/>
<circle cx="633.3" cy="958.9" r="1.9" fill="#111" stroke="none" stroke-width="1"/>
<circle cx="633.3" cy="969.8" r="1.9" fill="#111" stroke="none" stroke-width="1"/>
<line x1="422.7" y1="1016.6" x2="422.7" y2="1019.8" stroke="#111" stroke-width="1.3"/>
<line x1="415.7" y1="1016.6" x2="429.7" y2="1016.6" stroke="#111" stroke-width="1.5"/>
<line x1="415.7" y1="1019.8" x2="429.7" y2="1019.8" stroke="#111" stroke-width="1.5"/>
<line x1="464.9" y1="1016" x2="464.9" y2="1019" stroke="#111" stroke-width="1.3"/>
<line x1="457.9" y1="1016" x2="471.9" y2="1016" stroke="#111" stroke-width="1.5"/>
<line x1="457.9" y1="1019" x2="471.9" y2="1019" stroke="#111" stroke-width="1.5"/>
<line x1="507" y1="1012" x2="507" y2="1015.5" stroke="#111" stroke-width="1.3"/>
<line x1="500" y1="1012" x2="514" y2="1012" stroke="#111" stroke-width="1.5"/>
<line x1="500" y1="1015.5" x2="514" y2="1015.5" stroke="#111" stroke-width="1.5"/>
<line x1="549.1" y1="996.6" x2="549.1" y2="1006" stroke="#111" stroke-width="1.3"/>
<line x1="542.1" y1="996.6" x2="556.1" y2="996.6" stroke="#111" stroke-width="1.5"/>
<line x1="542.1" y1="1006" x2="556.1" y2="1006" stroke="#111" stroke-width="1.5"/>
<line x1="591.2" y1="984.6" x2="591.2" y2="992.8" stroke="#111" stroke-width="1.3"/>
<line x1="584.2" y1="984.6" x2="598.2" y2="984.6" stroke="#111" stroke-width="1.5"/>
<line x1="584.2" y1="992.8" x2="598.2" y2="992.8" stroke="#111" stroke-width="1.5"/>
<line x1="633.3" y1="934.7" x2="633.3" y2="951.3" stroke="#111" stroke-width="1.3"/>
<line x1="626.3" y1="934.7" x2="640.3" y2="934.7" stroke="#111" stroke-width="1.5"/>
<line x1="626.3" y1="951.3" x2="640.3" y2="951.3" stroke="#111" stroke-width="1.5"/>
<line x1="388.9" y1="1062.35" x2="662.4" y2="1062.35" stroke="#231f20" stroke-width="1.5"/>
<line x1="422.7" y1="1062.35" x2="422.7" y2="1067.35" stroke="#231f20" stroke-width="1.5"/>
<line x1="464.9" y1="1062.35" x2="464.9" y2="1067.35" stroke="#231f20" stroke-width="1.5"/>
<line x1="507" y1="1062.35" x2="507" y2="1067.35" stroke="#231f20" stroke-width="1.5"/>
<line x1="549.1" y1="1062.35" x2="549.1" y2="1067.35" stroke="#231f20" stroke-width="1.5"/>
<line x1="591.2" y1="1062.35" x2="591.2" y2="1067.35" stroke="#231f20" stroke-width="1.5"/>
<line x1="633.3" y1="1062.35" x2="633.3" y2="1067.35" stroke="#231f20" stroke-width="1.5"/>
<line x1="395.1" y1="911.5" x2="395.1" y2="1062.35" stroke="#231f20" stroke-width="1.5"/>
<line x1="389.6" y1="912.2" x2="395.1" y2="912.2" stroke="#231f20" stroke-width="1.4"/>
<line x1="390.9" y1="947.18" x2="395.1" y2="947.18" stroke="#231f20" stroke-width="1.1"/>
<line x1="390.9" y1="938.37" x2="395.1" y2="938.37" stroke="#231f20" stroke-width="1.1"/>
<line x1="390.9" y1="932.12" x2="395.1" y2="932.12" stroke="#231f20" stroke-width="1.1"/>
<line x1="390.9" y1="927.27" x2="395.1" y2="927.27" stroke="#231f20" stroke-width="1.1"/>
<line x1="390.9" y1="923.3" x2="395.1" y2="923.3" stroke="#231f20" stroke-width="1.1"/>
<line x1="390.9" y1="919.95" x2="395.1" y2="919.95" stroke="#231f20" stroke-width="1.1"/>
<line x1="390.9" y1="917.05" x2="395.1" y2="917.05" stroke="#231f20" stroke-width="1.1"/>
<line x1="390.9" y1="914.49" x2="395.1" y2="914.49" stroke="#231f20" stroke-width="1.1"/>
<line x1="389.6" y1="962.25" x2="395.1" y2="962.25" stroke="#231f20" stroke-width="1.4"/>
<line x1="390.9" y1="997.23" x2="395.1" y2="997.23" stroke="#231f20" stroke-width="1.1"/>
<line x1="390.9" y1="988.42" x2="395.1" y2="988.42" stroke="#231f20" stroke-width="1.1"/>
<line x1="390.9" y1="982.17" x2="395.1" y2="982.17" stroke="#231f20" stroke-width="1.1"/>
<line x1="390.9" y1="977.32" x2="395.1" y2="977.32" stroke="#231f20" stroke-width="1.1"/>
<line x1="390.9" y1="973.35" x2="395.1" y2="973.35" stroke="#231f20" stroke-width="1.1"/>
<line x1="390.9" y1="970" x2="395.1" y2="970" stroke="#231f20" stroke-width="1.1"/>
<line x1="390.9" y1="967.1" x2="395.1" y2="967.1" stroke="#231f20" stroke-width="1.1"/>
<line x1="390.9" y1="964.54" x2="395.1" y2="964.54" stroke="#231f20" stroke-width="1.1"/>
<line x1="389.6" y1="1012.3" x2="395.1" y2="1012.3" stroke="#231f20" stroke-width="1.4"/>
<line x1="390.9" y1="1047.28" x2="395.1" y2="1047.28" stroke="#231f20" stroke-width="1.1"/>
<line x1="390.9" y1="1038.47" x2="395.1" y2="1038.47" stroke="#231f20" stroke-width="1.1"/>
<line x1="390.9" y1="1032.22" x2="395.1" y2="1032.22" stroke="#231f20" stroke-width="1.1"/>
<line x1="390.9" y1="1027.37" x2="395.1" y2="1027.37" stroke="#231f20" stroke-width="1.1"/>
<line x1="390.9" y1="1023.4" x2="395.1" y2="1023.4" stroke="#231f20" stroke-width="1.1"/>
<line x1="390.9" y1="1020.05" x2="395.1" y2="1020.05" stroke="#231f20" stroke-width="1.1"/>
<line x1="390.9" y1="1017.15" x2="395.1" y2="1017.15" stroke="#231f20" stroke-width="1.1"/>
<line x1="390.9" y1="1014.59" x2="395.1" y2="1014.59" stroke="#231f20" stroke-width="1.1"/>
<line x1="389.6" y1="1062.35" x2="395.1" y2="1062.35" stroke="#231f20" stroke-width="1.4"/>
<text x="389.6" y="916.34" font-size="11.5" text-anchor="end">1000</text>
<text x="389.6" y="966.39" font-size="11.5" text-anchor="end">100</text>
<text x="389.6" y="1016.44" font-size="11.5" text-anchor="end">10</text>
<text x="389.6" y="1066.49" font-size="11.5" text-anchor="end">1</text>
<text x="422.7" y="1080.3" font-size="12.3" text-anchor="middle">0.125</text>
<text x="464.9" y="1080.3" font-size="12.3" text-anchor="middle">0.25</text>
<text x="507" y="1080.3" font-size="12.3" text-anchor="middle">0.5</text>
<text x="549.1" y="1080.3" font-size="12.3" text-anchor="middle">0.75</text>
<text x="591.2" y="1080.3" font-size="12.3" text-anchor="middle">1</text>
<text x="633.3" y="1080.3" font-size="12.3" text-anchor="middle">2</text>
<line x1="422.7" y1="977.5" x2="462.7" y2="977.5" stroke="#231f20" stroke-width="1.4"/>
<text x="442.7" y="972.7" font-size="10.5" text-anchor="middle">ns</text>
<text x="442.7" y="992.2" font-size="10.5" text-anchor="middle">p = 0.5844</text>
<line x1="464.4" y1="953.2" x2="504.2" y2="953.2" stroke="#231f20" stroke-width="1.4"/>
<polygon points="484.3,944.3 485.24,946.21 487.34,946.51 485.82,947.99 486.18,950.09 484.3,949.1 482.42,950.09 482.78,947.99 481.26,946.51 483.36,946.21" fill="#111"/>
<text x="484.3" y="967.3" font-size="10.5" text-anchor="middle">p = 0.0953</text>
<line x1="506.7" y1="925.8" x2="547.2" y2="925.8" stroke="#231f20" stroke-width="1.4"/>
<polygon points="526.95,917.1 527.89,919.01 529.99,919.31 528.47,920.79 528.83,922.89 526.95,921.9 525.07,922.89 525.43,920.79 523.91,919.31 526.01,919.01" fill="#111"/>
<text x="526.95" y="939.8" font-size="10.5" text-anchor="middle">p = 0.0818</text>
<line x1="549.9" y1="947.1" x2="590.7" y2="947.1" stroke="#231f20" stroke-width="1.4"/>
<polygon points="570.3,941.7 570.65,942.41 571.44,942.53 570.87,943.09 571.01,943.87 570.3,943.5 569.59,943.87 569.73,943.09 569.16,942.53 569.95,942.41" fill="#111"/>
<text x="570.3" y="959.8" font-size="10.5" text-anchor="middle">p = 0.0679</text>
<line x1="593.4" y1="887.2" x2="634.3" y2="887.2" stroke="#231f20" stroke-width="1.4"/>
<polygon points="613.85,878.4 614.79,880.31 616.89,880.61 615.37,882.09 615.73,884.19 613.85,883.2 611.97,884.19 612.33,882.09 610.81,880.61 612.91,880.31" fill="#111"/>
<text x="613.85" y="901.4" font-size="10.5" text-anchor="middle">p = 0.0576</text>
<text x="423.6" y="1006.4" font-size="10.5" text-anchor="middle">n = 6</text>
<text x="465.3" y="1004.7" font-size="10.5" text-anchor="middle">n = 6</text>
<text x="509" y="1002" font-size="10.5" text-anchor="middle">n = 6</text>
<text x="549.9" y="980.3" font-size="10.5" text-anchor="middle">n = 6</text>
<text x="591.6" y="971.2" font-size="10.5" text-anchor="middle">n = 6</text>
<text x="633.3" y="913.9" font-size="10.5" text-anchor="middle">n = 6</text>
<text x="528" y="1099.5" font-size="14.3" text-anchor="middle">The concentration of p53<tspan font-size="7.15" dy="-6.44">4M</tspan><tspan dy="6.44"> ΔTAD</tspan> (μM)</text>
<text x="363.5" y="991" font-size="14" text-anchor="middle" transform="rotate(-90 363.5 991)">Hydrodynamic radii (nm)</text>
<text x="70.8" y="1131" font-size="16">(iii)</text>
<rect x="124.85" y="1191.5" width="27.5" height="111.4" fill="#abaed4" stroke="#222" stroke-width="1.4"/>
<rect x="188.95" y="1210.6" width="27.5" height="92.3" fill="#abaed4" stroke="#222" stroke-width="1.4"/>
<circle cx="137.6" cy="1164" r="1.6" fill="#111" stroke="none" stroke-width="1"/>
<circle cx="139.6" cy="1164" r="1.6" fill="#111" stroke="none" stroke-width="1"/>
<circle cx="138.6" cy="1208.9" r="1.6" fill="#111" stroke="none" stroke-width="1"/>
<circle cx="138.6" cy="1223.4" r="1.6" fill="#111" stroke="none" stroke-width="1"/>
<circle cx="138.6" cy="1230.7" r="1.6" fill="#111" stroke="none" stroke-width="1"/>
<circle cx="138.6" cy="1236.7" r="1.6" fill="#111" stroke="none" stroke-width="1"/>
<circle cx="202.7" cy="1189" r="1.6" fill="#111" stroke="none" stroke-width="1"/>
<circle cx="200.7" cy="1218" r="1.6" fill="#111" stroke="none" stroke-width="1"/>
<circle cx="204.7" cy="1221" r="1.6" fill="#111" stroke="none" stroke-width="1"/>
<circle cx="202.7" cy="1225.8" r="1.6" fill="#111" stroke="none" stroke-width="1"/>
<circle cx="202.7" cy="1212" r="1.6" fill="#111" stroke="none" stroke-width="1"/>
<line x1="138.6" y1="1179.4" x2="138.6" y2="1207.7" stroke="#111" stroke-width="1.3"/>
<line x1="131.6" y1="1179.4" x2="145.6" y2="1179.4" stroke="#111" stroke-width="1.5"/>
<line x1="131.6" y1="1207.7" x2="145.6" y2="1207.7" stroke="#111" stroke-width="1.5"/>
<line x1="202.7" y1="1203.3" x2="202.7" y2="1217.8" stroke="#111" stroke-width="1.3"/>
<line x1="195.7" y1="1203.3" x2="209.7" y2="1203.3" stroke="#111" stroke-width="1.5"/>
<line x1="195.7" y1="1217.8" x2="209.7" y2="1217.8" stroke="#111" stroke-width="1.5"/>
<line x1="85.3" y1="1302.9" x2="234.3" y2="1302.9" stroke="#231f20" stroke-width="1.5"/>
<line x1="138.6" y1="1302.9" x2="138.6" y2="1307.9" stroke="#231f20" stroke-width="1.5"/>
<line x1="202.7" y1="1302.9" x2="202.7" y2="1307.9" stroke="#231f20" stroke-width="1.5"/>
<line x1="90.5" y1="1150.6" x2="90.5" y2="1302.9" stroke="#231f20" stroke-width="1.5"/>
<line x1="85" y1="1151.3" x2="90.5" y2="1151.3" stroke="#231f20" stroke-width="1.4"/>
<line x1="86.3" y1="1204.28" x2="90.5" y2="1204.28" stroke="#231f20" stroke-width="1.1"/>
<line x1="86.3" y1="1190.93" x2="90.5" y2="1190.93" stroke="#231f20" stroke-width="1.1"/>
<line x1="86.3" y1="1181.46" x2="90.5" y2="1181.46" stroke="#231f20" stroke-width="1.1"/>
<line x1="86.3" y1="1174.12" x2="90.5" y2="1174.12" stroke="#231f20" stroke-width="1.1"/>
<line x1="86.3" y1="1168.12" x2="90.5" y2="1168.12" stroke="#231f20" stroke-width="1.1"/>
<line x1="86.3" y1="1163.04" x2="90.5" y2="1163.04" stroke="#231f20" stroke-width="1.1"/>
<line x1="86.3" y1="1158.65" x2="90.5" y2="1158.65" stroke="#231f20" stroke-width="1.1"/>
<line x1="86.3" y1="1154.77" x2="90.5" y2="1154.77" stroke="#231f20" stroke-width="1.1"/>
<line x1="85" y1="1227.1" x2="90.5" y2="1227.1" stroke="#231f20" stroke-width="1.4"/>
<line x1="86.3" y1="1280.08" x2="90.5" y2="1280.08" stroke="#231f20" stroke-width="1.1"/>
<line x1="86.3" y1="1266.73" x2="90.5" y2="1266.73" stroke="#231f20" stroke-width="1.1"/>
<line x1="86.3" y1="1257.26" x2="90.5" y2="1257.26" stroke="#231f20" stroke-width="1.1"/>
<line x1="86.3" y1="1249.92" x2="90.5" y2="1249.92" stroke="#231f20" stroke-width="1.1"/>
<line x1="86.3" y1="1243.92" x2="90.5" y2="1243.92" stroke="#231f20" stroke-width="1.1"/>
<line x1="86.3" y1="1238.84" x2="90.5" y2="1238.84" stroke="#231f20" stroke-width="1.1"/>
<line x1="86.3" y1="1234.45" x2="90.5" y2="1234.45" stroke="#231f20" stroke-width="1.1"/>
<line x1="86.3" y1="1230.57" x2="90.5" y2="1230.57" stroke="#231f20" stroke-width="1.1"/>
<line x1="85" y1="1302.9" x2="90.5" y2="1302.9" stroke="#231f20" stroke-width="1.4"/>
<text x="85" y="1155.44" font-size="11.5" text-anchor="end">100</text>
<text x="85" y="1231.24" font-size="11.5" text-anchor="end">10</text>
<text x="85" y="1307.04" font-size="11.5" text-anchor="end">1</text>
<text x="138.6" y="1323.8" font-size="12.3" text-anchor="middle"></text>
<text x="202.7" y="1323.8" font-size="12.3" text-anchor="middle"></text>
<line x1="137.8" y1="1133.1" x2="203.2" y2="1133.1" stroke="#231f20" stroke-width="1.4"/>
<text x="170.5" y="1127.3" font-size="10.5" text-anchor="middle">ns</text>
<text x="170.5" y="1145.5" font-size="10.5" text-anchor="middle">p = 0.3271</text>
<text x="139.8" y="1158" font-size="10.5" text-anchor="middle">n = 6</text>
<text x="202" y="1181.8" font-size="10.5" text-anchor="middle">n = 6</text>
<text x="119.8" y="1323.8" font-size="12.3" text-anchor="middle">Random DNA</text>
<text x="214.2" y="1323.8" font-size="12.3" text-anchor="middle">3× p21 DNA</text>
<text x="46.6" y="1346.8" font-size="14">r<tspan font-size="8.4" dy="3.5">C</tspan><tspan dy="-3.5"> (nm)</tspan></text>
<text x="133.1" y="1346.8" font-size="14" text-anchor="middle">31 ± 12</text>
<text x="210" y="1346.8" font-size="14" text-anchor="middle">17 ± 3</text>
<text x="40.6" y="1363.7" font-size="12.3">C<tspan font-size="7.38" dy="3.08">cri</tspan><tspan dy="-3.08"> (μM)</tspan></text>
<text x="63" y="1380.7" font-size="12.3" text-anchor="middle">Protein + DNA</text>
<text x="133.7" y="1372.9" font-size="14" text-anchor="middle">1 + 0.03</text>
<text x="214.2" y="1372.9" font-size="14" text-anchor="middle">0.75 + 0.023</text>
<text x="64" y="1228" font-size="14" text-anchor="middle" transform="rotate(-90 64 1228)">Hydrodynamic radii at C<tspan font-size="8.4" dy="3.5">cri</tspan><tspan dy="-3.5"> (nm)</tspan></text>
<text x="363.5" y="1130" font-size="16">(iv)</text>
<rect x="428.6" y="1214.3" width="32" height="89.3" fill="#abaed4" stroke="#222" stroke-width="1.4"/>
<rect x="491.7" y="1186.6" width="32" height="117" fill="#abaed4" stroke="#222" stroke-width="1.4"/>
<circle cx="444.6" cy="1198" r="1.6" fill="#111" stroke="none" stroke-width="1"/>
<circle cx="451.1" cy="1197.4" r="1.6" fill="#111" stroke="none" stroke-width="1"/>
<circle cx="445.1" cy="1252.4" r="1.6" fill="#111" stroke="none" stroke-width="1"/>
<circle cx="450.6" cy="1249.7" r="1.6" fill="#111" stroke="none" stroke-width="1"/>
<circle cx="444" cy="1260.6" r="1.6" fill="#111" stroke="none" stroke-width="1"/>
<circle cx="445.6" cy="1210" r="1.6" fill="#111" stroke="none" stroke-width="1"/>
<circle cx="507.7" cy="1164.8" r="1.6" fill="#111" stroke="none" stroke-width="1"/>
<circle cx="502.7" cy="1187" r="1.6" fill="#111" stroke="none" stroke-width="1"/>
<circle cx="500.7" cy="1200" r="1.6" fill="#111" stroke="none" stroke-width="1"/>
<circle cx="506.7" cy="1202" r="1.6" fill="#111" stroke="none" stroke-width="1"/>
<circle cx="506.7" cy="1213" r="1.6" fill="#111" stroke="none" stroke-width="1"/>
<line x1="444.6" y1="1207" x2="444.6" y2="1224.7" stroke="#111" stroke-width="1.3"/>
<line x1="437.6" y1="1207" x2="451.6" y2="1207" stroke="#111" stroke-width="1.5"/>
<line x1="437.6" y1="1224.7" x2="451.6" y2="1224.7" stroke="#111" stroke-width="1.5"/>
<line x1="507.7" y1="1179.5" x2="507.7" y2="1195.8" stroke="#111" stroke-width="1.3"/>
<line x1="500.7" y1="1179.5" x2="514.7" y2="1179.5" stroke="#111" stroke-width="1.5"/>
<line x1="500.7" y1="1195.8" x2="514.7" y2="1195.8" stroke="#111" stroke-width="1.5"/>
<line x1="389.3" y1="1303.6" x2="542.6" y2="1303.6" stroke="#231f20" stroke-width="1.5"/>
<line x1="444.6" y1="1303.6" x2="444.6" y2="1308.6" stroke="#231f20" stroke-width="1.5"/>
<line x1="507.7" y1="1303.6" x2="507.7" y2="1308.6" stroke="#231f20" stroke-width="1.5"/>
<line x1="394.8" y1="1156.5" x2="394.8" y2="1303.6" stroke="#231f20" stroke-width="1.5"/>
<line x1="389.3" y1="1157.2" x2="394.8" y2="1157.2" stroke="#231f20" stroke-width="1.4"/>
<line x1="390.6" y1="1191.31" x2="394.8" y2="1191.31" stroke="#231f20" stroke-width="1.1"/>
<line x1="390.6" y1="1182.72" x2="394.8" y2="1182.72" stroke="#231f20" stroke-width="1.1"/>
<line x1="390.6" y1="1176.62" x2="394.8" y2="1176.62" stroke="#231f20" stroke-width="1.1"/>
<line x1="390.6" y1="1171.89" x2="394.8" y2="1171.89" stroke="#231f20" stroke-width="1.1"/>
<line x1="390.6" y1="1168.03" x2="394.8" y2="1168.03" stroke="#231f20" stroke-width="1.1"/>
<line x1="390.6" y1="1164.76" x2="394.8" y2="1164.76" stroke="#231f20" stroke-width="1.1"/>
<line x1="390.6" y1="1161.93" x2="394.8" y2="1161.93" stroke="#231f20" stroke-width="1.1"/>
<line x1="390.6" y1="1159.43" x2="394.8" y2="1159.43" stroke="#231f20" stroke-width="1.1"/>
<line x1="389.3" y1="1206" x2="394.8" y2="1206" stroke="#231f20" stroke-width="1.4"/>
<line x1="390.6" y1="1240.11" x2="394.8" y2="1240.11" stroke="#231f20" stroke-width="1.1"/>
<line x1="390.6" y1="1231.52" x2="394.8" y2="1231.52" stroke="#231f20" stroke-width="1.1"/>
<line x1="390.6" y1="1225.42" x2="394.8" y2="1225.42" stroke="#231f20" stroke-width="1.1"/>
<line x1="390.6" y1="1220.69" x2="394.8" y2="1220.69" stroke="#231f20" stroke-width="1.1"/>
<line x1="390.6" y1="1216.83" x2="394.8" y2="1216.83" stroke="#231f20" stroke-width="1.1"/>
<line x1="390.6" y1="1213.56" x2="394.8" y2="1213.56" stroke="#231f20" stroke-width="1.1"/>
<line x1="390.6" y1="1210.73" x2="394.8" y2="1210.73" stroke="#231f20" stroke-width="1.1"/>
<line x1="390.6" y1="1208.23" x2="394.8" y2="1208.23" stroke="#231f20" stroke-width="1.1"/>
<line x1="389.3" y1="1254.8" x2="394.8" y2="1254.8" stroke="#231f20" stroke-width="1.4"/>
<line x1="390.6" y1="1288.91" x2="394.8" y2="1288.91" stroke="#231f20" stroke-width="1.1"/>
<line x1="390.6" y1="1280.32" x2="394.8" y2="1280.32" stroke="#231f20" stroke-width="1.1"/>
<line x1="390.6" y1="1274.22" x2="394.8" y2="1274.22" stroke="#231f20" stroke-width="1.1"/>
<line x1="390.6" y1="1269.49" x2="394.8" y2="1269.49" stroke="#231f20" stroke-width="1.1"/>
<line x1="390.6" y1="1265.63" x2="394.8" y2="1265.63" stroke="#231f20" stroke-width="1.1"/>
<line x1="390.6" y1="1262.36" x2="394.8" y2="1262.36" stroke="#231f20" stroke-width="1.1"/>
<line x1="390.6" y1="1259.53" x2="394.8" y2="1259.53" stroke="#231f20" stroke-width="1.1"/>
<line x1="390.6" y1="1257.03" x2="394.8" y2="1257.03" stroke="#231f20" stroke-width="1.1"/>
<line x1="389.3" y1="1303.6" x2="394.8" y2="1303.6" stroke="#231f20" stroke-width="1.4"/>
<text x="389.3" y="1161.34" font-size="11.5" text-anchor="end">1000</text>
<text x="389.3" y="1210.14" font-size="11.5" text-anchor="end">100</text>
<text x="389.3" y="1258.94" font-size="11.5" text-anchor="end">10</text>
<text x="389.3" y="1307.74" font-size="11.5" text-anchor="end">1</text>
<text x="444.6" y="1325.4" font-size="12.3" text-anchor="middle"></text>
<text x="507.7" y="1325.4" font-size="12.3" text-anchor="middle"></text>
<line x1="444.6" y1="1144.1" x2="508.6" y2="1144.1" stroke="#231f20" stroke-width="1.4"/>
<polygon points="476.6,1134.6 477.54,1136.51 479.64,1136.81 478.12,1138.29 478.48,1140.39 476.6,1139.4 474.72,1140.39 475.08,1138.29 473.56,1136.81 475.66,1136.51" fill="#111"/>
<text x="476.6" y="1157.7" font-size="10.5" text-anchor="middle">p = 0.0996</text>
<text x="442.4" y="1191.2" font-size="10.5" text-anchor="middle">n = 6</text>
<text x="478.6" y="1175.7" font-size="10.5" text-anchor="middle">n = 6</text>
<text x="415.2" y="1325.4" font-size="12.3" text-anchor="middle">Random DNA</text>
<text x="509" y="1325.4" font-size="12.3" text-anchor="middle">3× p21 DNA</text>
<text x="351.9" y="1345" font-size="14" text-anchor="middle">r (nm)</text>
<text x="427.2" y="1345" font-size="14" text-anchor="middle">68 ± 27</text>
<text x="513.2" y="1345" font-size="14" text-anchor="middle">257 ± 92</text>
<text x="346.5" y="1365.4" font-size="12.3" text-anchor="middle">Concentration (μM)</text>
<text x="345.8" y="1380.3" font-size="12.3" text-anchor="middle">Protein + DNA</text>
<text x="466.9" y="1372.2" font-size="14" text-anchor="middle">2 + 0.06</text>
<text x="364" y="1228" font-size="14" text-anchor="middle" transform="rotate(-90 364 1228)">Hydrodynamic radii (nm)</text>
</g>
</svg></body></html>
